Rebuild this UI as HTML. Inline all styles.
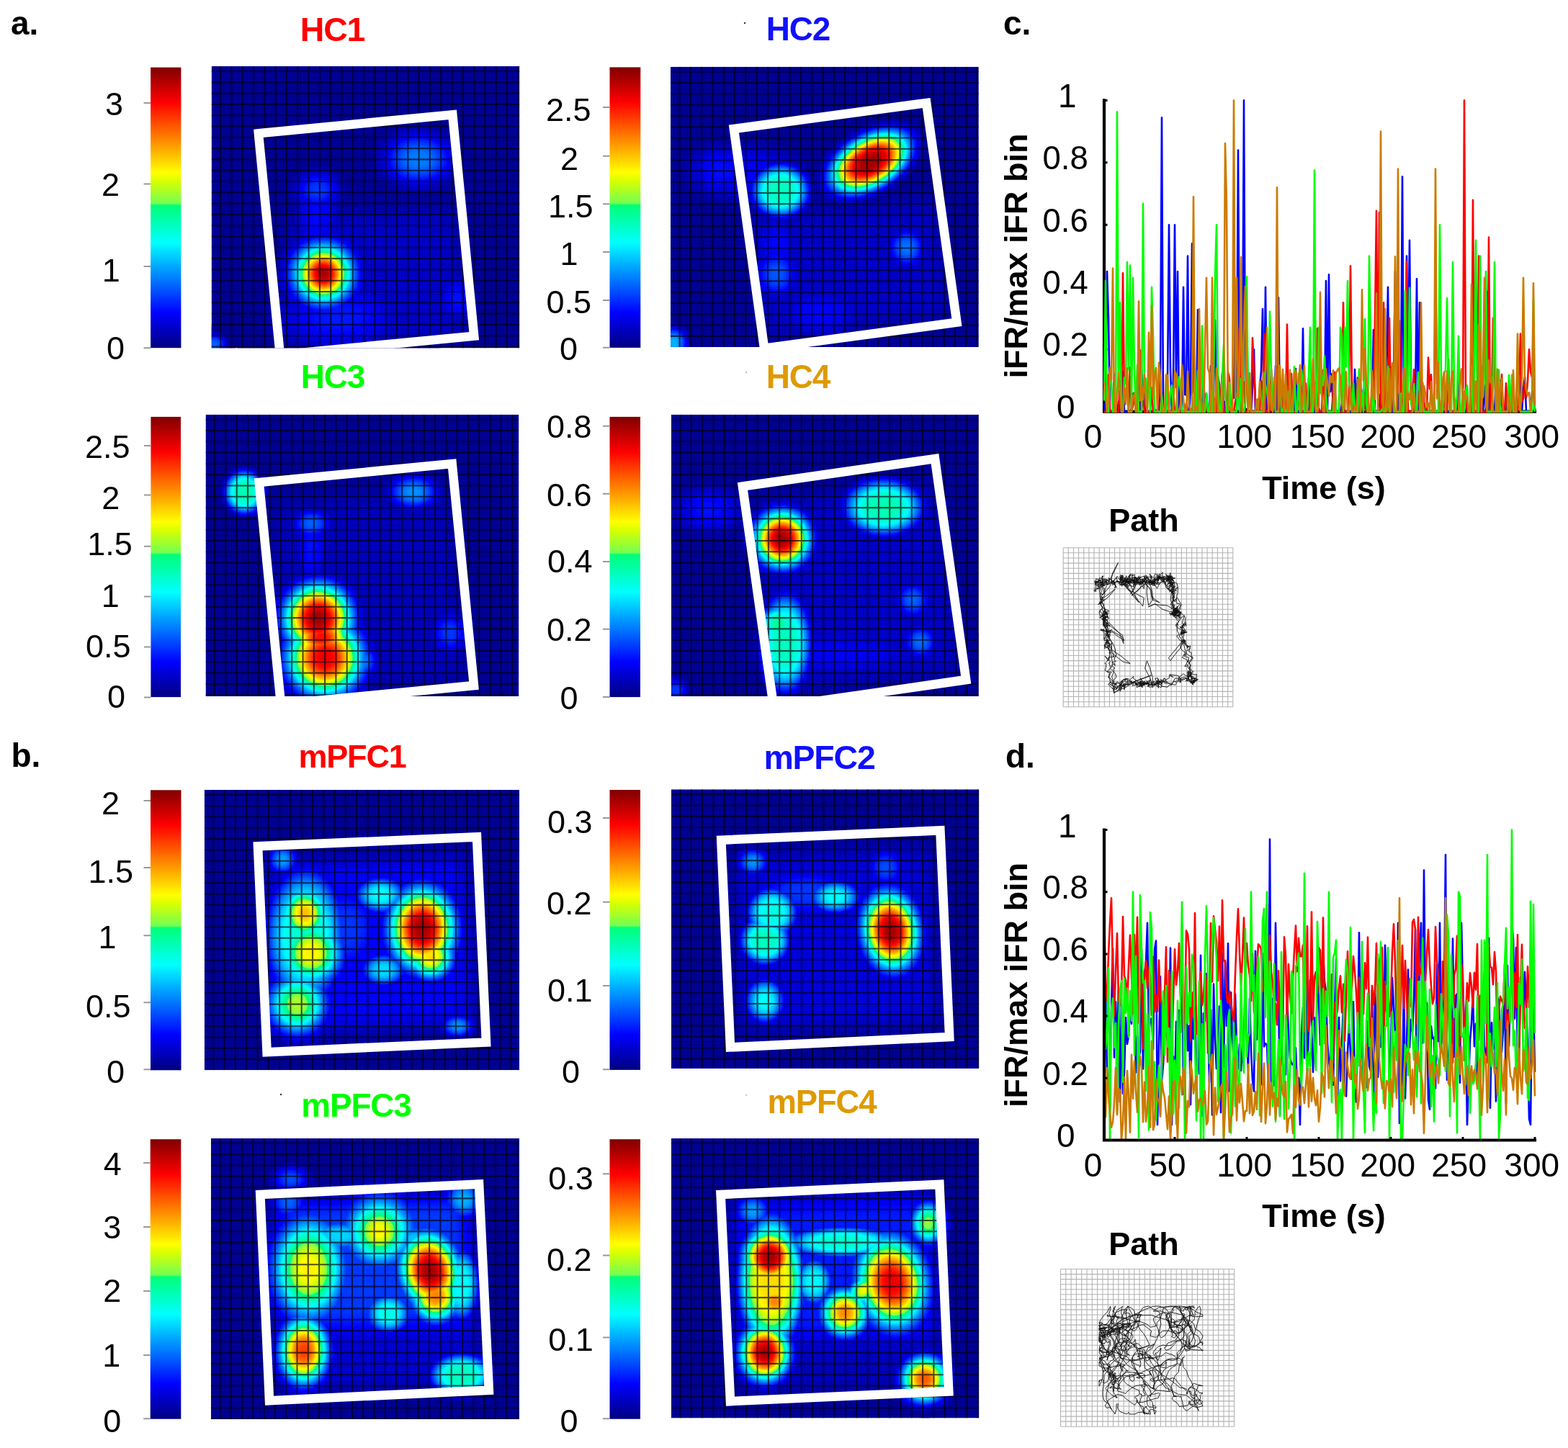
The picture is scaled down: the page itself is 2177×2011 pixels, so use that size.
<!DOCTYPE html><html><head><meta charset="utf-8"><title>Figure</title>
<style>html,body{margin:0;padding:0;background:#fff;}svg{display:block;}</style></head><body>
<svg width="2177" height="2011" viewBox="0 0 2177 2011" font-family="'Liberation Sans', Arial, Helvetica, sans-serif">
<defs>
<filter id="jet" color-interpolation-filters="sRGB" x="0" y="0" width="1" height="1"><feComponentTransfer><feFuncR type="table" tableValues="0.000 0.000 0.000 0.000 0.000 0.000 0.000 0.000 0.000 0.000 0.000 0.000 0.000 0.000 0.000 0.000 0.000 0.000 0.000 0.000 0.000 0.000 0.000 0.000 0.000 0.000 0.000 0.000 0.000 0.000 0.000 0.000 0.000 0.000 0.000 0.000 0.000 0.000 0.000 0.000 0.000 0.000 0.000 0.000 0.000 0.000 0.000 0.000 0.000 0.000 0.000 0.000 0.000 0.000 0.000 0.000 0.000 0.000 0.000 0.000 0.000 0.000 0.000 0.000 0.000 0.000 0.453 0.492 0.531 0.570 0.609 0.648 0.688 0.727 0.766 0.805 0.844 0.883 0.922 0.961 1.000 1.000 1.000 1.000 1.000 1.000 1.000 1.000 1.000 1.000 1.000 1.000 1.000 1.000 1.000 1.000 1.000 1.000 1.000 1.000 1.000 1.000 1.000 1.000 1.000 1.000 1.000 1.000 1.000 1.000 1.000 1.000 1.000 0.969 0.938 0.906 0.875 0.844 0.812 0.781 0.750 0.719 0.688 0.656 0.625 0.594 0.562 0.531 0.500"/><feFuncG type="table" tableValues="0.000 0.000 0.000 0.000 0.000 0.000 0.000 0.000 0.000 0.000 0.000 0.000 0.000 0.000 0.000 0.000 0.000 0.031 0.062 0.094 0.125 0.156 0.188 0.219 0.250 0.281 0.312 0.344 0.375 0.406 0.438 0.469 0.500 0.531 0.562 0.594 0.625 0.656 0.688 0.719 0.750 0.781 0.812 0.844 0.875 0.906 0.938 0.969 1.000 1.000 1.000 1.000 1.000 1.000 1.000 1.000 1.000 1.000 1.000 1.000 1.000 1.000 1.000 1.000 1.000 1.000 1.000 1.000 1.000 1.000 1.000 1.000 1.000 1.000 1.000 1.000 1.000 1.000 1.000 1.000 1.000 0.969 0.938 0.906 0.875 0.844 0.812 0.781 0.750 0.719 0.688 0.656 0.625 0.594 0.562 0.531 0.500 0.469 0.438 0.406 0.375 0.344 0.312 0.281 0.250 0.219 0.188 0.156 0.125 0.094 0.062 0.031 0.000 0.000 0.000 0.000 0.000 0.000 0.000 0.000 0.000 0.000 0.000 0.000 0.000 0.000 0.000 0.000 0.000"/><feFuncB type="table" tableValues="0.500 0.531 0.562 0.594 0.625 0.656 0.688 0.719 0.750 0.781 0.812 0.844 0.875 0.906 0.938 0.969 1.000 1.000 1.000 1.000 1.000 1.000 1.000 1.000 1.000 1.000 1.000 1.000 1.000 1.000 1.000 1.000 1.000 1.000 1.000 1.000 1.000 1.000 1.000 1.000 1.000 1.000 1.000 1.000 1.000 1.000 1.000 1.000 1.000 0.969 0.938 0.906 0.875 0.844 0.812 0.781 0.750 0.719 0.688 0.656 0.625 0.594 0.562 0.531 0.500 0.469 0.318 0.286 0.255 0.224 0.193 0.161 0.130 0.099 0.068 0.036 0.005 0.000 0.000 0.000 0.000 0.000 0.000 0.000 0.000 0.000 0.000 0.000 0.000 0.000 0.000 0.000 0.000 0.000 0.000 0.000 0.000 0.000 0.000 0.000 0.000 0.000 0.000 0.000 0.000 0.000 0.000 0.000 0.000 0.000 0.000 0.000 0.000 0.000 0.000 0.000 0.000 0.000 0.000 0.000 0.000 0.000 0.000 0.000 0.000 0.000 0.000 0.000 0.000"/></feComponentTransfer></filter>
<filter id="hz" x="-20%" y="-20%" width="140%" height="140%"><feGaussianBlur stdDeviation="14"/></filter>
<radialGradient id="gs2"><stop offset="0.00" stop-color="#fff" stop-opacity="1.0000"/><stop offset="0.05" stop-color="#fff" stop-opacity="0.9886"/><stop offset="0.10" stop-color="#fff" stop-opacity="0.9550"/><stop offset="0.15" stop-color="#fff" stop-opacity="0.9017"/><stop offset="0.20" stop-color="#fff" stop-opacity="0.8319"/><stop offset="0.25" stop-color="#fff" stop-opacity="0.7501"/><stop offset="0.30" stop-color="#fff" stop-opacity="0.6610"/><stop offset="0.35" stop-color="#fff" stop-opacity="0.5692"/><stop offset="0.40" stop-color="#fff" stop-opacity="0.4790"/><stop offset="0.45" stop-color="#fff" stop-opacity="0.3940"/><stop offset="0.50" stop-color="#fff" stop-opacity="0.3166"/><stop offset="0.55" stop-color="#fff" stop-opacity="0.2487"/><stop offset="0.60" stop-color="#fff" stop-opacity="0.1909"/><stop offset="0.65" stop-color="#fff" stop-opacity="0.1432"/><stop offset="0.70" stop-color="#fff" stop-opacity="0.1050"/><stop offset="0.75" stop-color="#fff" stop-opacity="0.0752"/><stop offset="0.80" stop-color="#fff" stop-opacity="0.0527"/><stop offset="0.85" stop-color="#fff" stop-opacity="0.0360"/><stop offset="0.90" stop-color="#fff" stop-opacity="0.0241"/><stop offset="0.95" stop-color="#fff" stop-opacity="0.0157"/><stop offset="1.00" stop-color="#fff" stop-opacity="0.0000"/></radialGradient>
<radialGradient id="gs3"><stop offset="0.00" stop-color="#fff" stop-opacity="1.0000"/><stop offset="0.05" stop-color="#fff" stop-opacity="0.9994"/><stop offset="0.10" stop-color="#fff" stop-opacity="0.9954"/><stop offset="0.15" stop-color="#fff" stop-opacity="0.9846"/><stop offset="0.20" stop-color="#fff" stop-opacity="0.9639"/><stop offset="0.25" stop-color="#fff" stop-opacity="0.9306"/><stop offset="0.30" stop-color="#fff" stop-opacity="0.8832"/><stop offset="0.35" stop-color="#fff" stop-opacity="0.8210"/><stop offset="0.40" stop-color="#fff" stop-opacity="0.7450"/><stop offset="0.45" stop-color="#fff" stop-opacity="0.6576"/><stop offset="0.50" stop-color="#fff" stop-opacity="0.5627"/><stop offset="0.55" stop-color="#fff" stop-opacity="0.4652"/><stop offset="0.60" stop-color="#fff" stop-opacity="0.3702"/><stop offset="0.65" stop-color="#fff" stop-opacity="0.2827"/><stop offset="0.70" stop-color="#fff" stop-opacity="0.2064"/><stop offset="0.75" stop-color="#fff" stop-opacity="0.1436"/><stop offset="0.80" stop-color="#fff" stop-opacity="0.0949"/><stop offset="0.85" stop-color="#fff" stop-opacity="0.0593"/><stop offset="0.90" stop-color="#fff" stop-opacity="0.0350"/><stop offset="0.95" stop-color="#fff" stop-opacity="0.0194"/><stop offset="1.00" stop-color="#fff" stop-opacity="0.0000"/></radialGradient>
<radialGradient id="gs4"><stop offset="0.00" stop-color="#fff" stop-opacity="1.0000"/><stop offset="0.05" stop-color="#fff" stop-opacity="1.0000"/><stop offset="0.10" stop-color="#fff" stop-opacity="0.9995"/><stop offset="0.15" stop-color="#fff" stop-opacity="0.9977"/><stop offset="0.20" stop-color="#fff" stop-opacity="0.9927"/><stop offset="0.25" stop-color="#fff" stop-opacity="0.9822"/><stop offset="0.30" stop-color="#fff" stop-opacity="0.9634"/><stop offset="0.35" stop-color="#fff" stop-opacity="0.9333"/><stop offset="0.40" stop-color="#fff" stop-opacity="0.8889"/><stop offset="0.45" stop-color="#fff" stop-opacity="0.8281"/><stop offset="0.50" stop-color="#fff" stop-opacity="0.7501"/><stop offset="0.55" stop-color="#fff" stop-opacity="0.6564"/><stop offset="0.60" stop-color="#fff" stop-opacity="0.5509"/><stop offset="0.65" stop-color="#fff" stop-opacity="0.4399"/><stop offset="0.70" stop-color="#fff" stop-opacity="0.3314"/><stop offset="0.75" stop-color="#fff" stop-opacity="0.2333"/><stop offset="0.80" stop-color="#fff" stop-opacity="0.1520"/><stop offset="0.85" stop-color="#fff" stop-opacity="0.0906"/><stop offset="0.90" stop-color="#fff" stop-opacity="0.0489"/><stop offset="0.95" stop-color="#fff" stop-opacity="0.0236"/><stop offset="1.00" stop-color="#fff" stop-opacity="0.0000"/></radialGradient>
<linearGradient id="cbar" x1="0" y1="0" x2="0" y2="1"><stop offset="0.0000" stop-color="rgb(128,0,0)"/><stop offset="0.0078" stop-color="rgb(135,0,0)"/><stop offset="0.0156" stop-color="rgb(143,0,0)"/><stop offset="0.0234" stop-color="rgb(151,0,0)"/><stop offset="0.0312" stop-color="rgb(159,0,0)"/><stop offset="0.0391" stop-color="rgb(167,0,0)"/><stop offset="0.0469" stop-color="rgb(175,0,0)"/><stop offset="0.0547" stop-color="rgb(183,0,0)"/><stop offset="0.0625" stop-color="rgb(191,0,0)"/><stop offset="0.0703" stop-color="rgb(199,0,0)"/><stop offset="0.0781" stop-color="rgb(207,0,0)"/><stop offset="0.0859" stop-color="rgb(215,0,0)"/><stop offset="0.0938" stop-color="rgb(223,0,0)"/><stop offset="0.1016" stop-color="rgb(231,0,0)"/><stop offset="0.1094" stop-color="rgb(239,0,0)"/><stop offset="0.1172" stop-color="rgb(247,0,0)"/><stop offset="0.1250" stop-color="rgb(255,0,0)"/><stop offset="0.1328" stop-color="rgb(255,8,0)"/><stop offset="0.1406" stop-color="rgb(255,16,0)"/><stop offset="0.1484" stop-color="rgb(255,24,0)"/><stop offset="0.1562" stop-color="rgb(255,32,0)"/><stop offset="0.1641" stop-color="rgb(255,40,0)"/><stop offset="0.1719" stop-color="rgb(255,48,0)"/><stop offset="0.1797" stop-color="rgb(255,56,0)"/><stop offset="0.1875" stop-color="rgb(255,64,0)"/><stop offset="0.1953" stop-color="rgb(255,72,0)"/><stop offset="0.2031" stop-color="rgb(255,80,0)"/><stop offset="0.2109" stop-color="rgb(255,88,0)"/><stop offset="0.2188" stop-color="rgb(255,96,0)"/><stop offset="0.2266" stop-color="rgb(255,104,0)"/><stop offset="0.2344" stop-color="rgb(255,112,0)"/><stop offset="0.2422" stop-color="rgb(255,120,0)"/><stop offset="0.2500" stop-color="rgb(255,128,0)"/><stop offset="0.2578" stop-color="rgb(255,135,0)"/><stop offset="0.2656" stop-color="rgb(255,143,0)"/><stop offset="0.2734" stop-color="rgb(255,151,0)"/><stop offset="0.2812" stop-color="rgb(255,159,0)"/><stop offset="0.2891" stop-color="rgb(255,167,0)"/><stop offset="0.2969" stop-color="rgb(255,175,0)"/><stop offset="0.3047" stop-color="rgb(255,183,0)"/><stop offset="0.3125" stop-color="rgb(255,191,0)"/><stop offset="0.3203" stop-color="rgb(255,199,0)"/><stop offset="0.3281" stop-color="rgb(255,207,0)"/><stop offset="0.3359" stop-color="rgb(255,215,0)"/><stop offset="0.3438" stop-color="rgb(255,223,0)"/><stop offset="0.3516" stop-color="rgb(255,231,0)"/><stop offset="0.3594" stop-color="rgb(255,239,0)"/><stop offset="0.3672" stop-color="rgb(255,247,0)"/><stop offset="0.3750" stop-color="rgb(255,255,0)"/><stop offset="0.3828" stop-color="rgb(245,255,0)"/><stop offset="0.3906" stop-color="rgb(235,255,0)"/><stop offset="0.3984" stop-color="rgb(225,255,0)"/><stop offset="0.4062" stop-color="rgb(215,255,1)"/><stop offset="0.4141" stop-color="rgb(205,255,9)"/><stop offset="0.4219" stop-color="rgb(195,255,17)"/><stop offset="0.4297" stop-color="rgb(185,255,25)"/><stop offset="0.4375" stop-color="rgb(175,255,33)"/><stop offset="0.4453" stop-color="rgb(165,255,41)"/><stop offset="0.4531" stop-color="rgb(155,255,49)"/><stop offset="0.4609" stop-color="rgb(145,255,57)"/><stop offset="0.4688" stop-color="rgb(135,255,65)"/><stop offset="0.4766" stop-color="rgb(126,255,73)"/><stop offset="0.4844" stop-color="rgb(116,255,81)"/><stop offset="0.4922" stop-color="rgb(0,255,120)"/><stop offset="0.5000" stop-color="rgb(0,255,128)"/><stop offset="0.5078" stop-color="rgb(0,255,135)"/><stop offset="0.5156" stop-color="rgb(0,255,143)"/><stop offset="0.5234" stop-color="rgb(0,255,151)"/><stop offset="0.5312" stop-color="rgb(0,255,159)"/><stop offset="0.5391" stop-color="rgb(0,255,167)"/><stop offset="0.5469" stop-color="rgb(0,255,175)"/><stop offset="0.5547" stop-color="rgb(0,255,183)"/><stop offset="0.5625" stop-color="rgb(0,255,191)"/><stop offset="0.5703" stop-color="rgb(0,255,199)"/><stop offset="0.5781" stop-color="rgb(0,255,207)"/><stop offset="0.5859" stop-color="rgb(0,255,215)"/><stop offset="0.5938" stop-color="rgb(0,255,223)"/><stop offset="0.6016" stop-color="rgb(0,255,231)"/><stop offset="0.6094" stop-color="rgb(0,255,239)"/><stop offset="0.6172" stop-color="rgb(0,255,247)"/><stop offset="0.6250" stop-color="rgb(0,255,255)"/><stop offset="0.6328" stop-color="rgb(0,247,255)"/><stop offset="0.6406" stop-color="rgb(0,239,255)"/><stop offset="0.6484" stop-color="rgb(0,231,255)"/><stop offset="0.6562" stop-color="rgb(0,223,255)"/><stop offset="0.6641" stop-color="rgb(0,215,255)"/><stop offset="0.6719" stop-color="rgb(0,207,255)"/><stop offset="0.6797" stop-color="rgb(0,199,255)"/><stop offset="0.6875" stop-color="rgb(0,191,255)"/><stop offset="0.6953" stop-color="rgb(0,183,255)"/><stop offset="0.7031" stop-color="rgb(0,175,255)"/><stop offset="0.7109" stop-color="rgb(0,167,255)"/><stop offset="0.7188" stop-color="rgb(0,159,255)"/><stop offset="0.7266" stop-color="rgb(0,151,255)"/><stop offset="0.7344" stop-color="rgb(0,143,255)"/><stop offset="0.7422" stop-color="rgb(0,135,255)"/><stop offset="0.7500" stop-color="rgb(0,128,255)"/><stop offset="0.7578" stop-color="rgb(0,120,255)"/><stop offset="0.7656" stop-color="rgb(0,112,255)"/><stop offset="0.7734" stop-color="rgb(0,104,255)"/><stop offset="0.7812" stop-color="rgb(0,96,255)"/><stop offset="0.7891" stop-color="rgb(0,88,255)"/><stop offset="0.7969" stop-color="rgb(0,80,255)"/><stop offset="0.8047" stop-color="rgb(0,72,255)"/><stop offset="0.8125" stop-color="rgb(0,64,255)"/><stop offset="0.8203" stop-color="rgb(0,56,255)"/><stop offset="0.8281" stop-color="rgb(0,48,255)"/><stop offset="0.8359" stop-color="rgb(0,40,255)"/><stop offset="0.8438" stop-color="rgb(0,32,255)"/><stop offset="0.8516" stop-color="rgb(0,24,255)"/><stop offset="0.8594" stop-color="rgb(0,16,255)"/><stop offset="0.8672" stop-color="rgb(0,8,255)"/><stop offset="0.8750" stop-color="rgb(0,0,255)"/><stop offset="0.8828" stop-color="rgb(0,0,247)"/><stop offset="0.8906" stop-color="rgb(0,0,239)"/><stop offset="0.8984" stop-color="rgb(0,0,231)"/><stop offset="0.9062" stop-color="rgb(0,0,223)"/><stop offset="0.9141" stop-color="rgb(0,0,215)"/><stop offset="0.9219" stop-color="rgb(0,0,207)"/><stop offset="0.9297" stop-color="rgb(0,0,199)"/><stop offset="0.9375" stop-color="rgb(0,0,191)"/><stop offset="0.9453" stop-color="rgb(0,0,183)"/><stop offset="0.9531" stop-color="rgb(0,0,175)"/><stop offset="0.9609" stop-color="rgb(0,0,167)"/><stop offset="0.9688" stop-color="rgb(0,0,159)"/><stop offset="0.9766" stop-color="rgb(0,0,151)"/><stop offset="0.9844" stop-color="rgb(0,0,143)"/><stop offset="0.9922" stop-color="rgb(0,0,135)"/><stop offset="1.0000" stop-color="rgb(0,0,128)"/></linearGradient>
<clipPath id="clip0"><rect x="293.6" y="92" width="427.8" height="391.4"/></clipPath>
<clipPath id="clip1"><rect x="931" y="92.7" width="427.8" height="389.3"/></clipPath>
<clipPath id="clip2"><rect x="285.5" y="575.7" width="434.9" height="391.4"/></clipPath>
<clipPath id="clip3"><rect x="931.9" y="575.7" width="426.9" height="391.4"/></clipPath>
<clipPath id="clip4"><rect x="283.7" y="1096.9" width="437.5" height="389.4"/></clipPath>
<clipPath id="clip5"><rect x="931.9" y="1096.3" width="427.5" height="387.7"/></clipPath>
<clipPath id="clip6"><rect x="292.8" y="1580.9" width="428.2" height="390.1"/></clipPath>
<clipPath id="clip7"><rect x="931.9" y="1580.9" width="427.5" height="388.6"/></clipPath>
</defs>
<rect width="2177" height="2011" fill="#fff"/>
<g clip-path="url(#clip0)">
<g filter="url(#jet)">
<rect x="293.6" y="92" width="427.8" height="391.4" fill="rgb(5,5,5)"/>
<polygon points="400,300 630,290 645,470 410,480" fill="#fff" opacity="0.05" filter="url(#hz)" style="mix-blend-mode:plus-lighter"/>
<radialGradient id="m0_0"><stop offset="0.000" stop-color="#f7f7f7"/><stop offset="0.083" stop-color="#f0f0f0"/><stop offset="0.167" stop-color="#dadada"/><stop offset="0.250" stop-color="#bababa"/><stop offset="0.333" stop-color="#949494"/><stop offset="0.417" stop-color="#6f6f6f"/><stop offset="0.500" stop-color="#4e4e4e"/><stop offset="0.583" stop-color="#343434"/><stop offset="0.667" stop-color="#202020"/><stop offset="0.750" stop-color="#131313"/><stop offset="0.833" stop-color="#0a0a0a"/><stop offset="0.917" stop-color="#050505"/><stop offset="1.000" stop-color="#000000"/></radialGradient>
<ellipse cx="449" cy="380" rx="77.5" ry="77.5" fill="url(#m0_0)" style="mix-blend-mode:lighten"/>
<radialGradient id="m0_1"><stop offset="0.000" stop-color="#404040"/><stop offset="0.083" stop-color="#3f3f3f"/><stop offset="0.167" stop-color="#3d3d3d"/><stop offset="0.250" stop-color="#373737"/><stop offset="0.333" stop-color="#2f2f2f"/><stop offset="0.417" stop-color="#262626"/><stop offset="0.500" stop-color="#1c1c1c"/><stop offset="0.583" stop-color="#131313"/><stop offset="0.667" stop-color="#0c0c0c"/><stop offset="0.750" stop-color="#070707"/><stop offset="0.833" stop-color="#030303"/><stop offset="0.917" stop-color="#020202"/><stop offset="1.000" stop-color="#000000"/></radialGradient>
<ellipse cx="581" cy="221" rx="87.7" ry="65.7" fill="url(#m0_1)" style="mix-blend-mode:lighten"/>
<radialGradient id="m0_2"><stop offset="0.000" stop-color="#2e2e2e"/><stop offset="0.083" stop-color="#2d2d2d"/><stop offset="0.167" stop-color="#2c2c2c"/><stop offset="0.250" stop-color="#282828"/><stop offset="0.333" stop-color="#222222"/><stop offset="0.417" stop-color="#1b1b1b"/><stop offset="0.500" stop-color="#141414"/><stop offset="0.583" stop-color="#0e0e0e"/><stop offset="0.667" stop-color="#090909"/><stop offset="0.750" stop-color="#050505"/><stop offset="0.833" stop-color="#020202"/><stop offset="0.917" stop-color="#010101"/><stop offset="1.000" stop-color="#000000"/></radialGradient>
<ellipse cx="441" cy="264" rx="58.7" ry="48.9" fill="url(#m0_2)" style="mix-blend-mode:lighten"/>
<radialGradient id="m0_3"><stop offset="0.000" stop-color="#212121"/><stop offset="0.083" stop-color="#212121"/><stop offset="0.167" stop-color="#1f1f1f"/><stop offset="0.250" stop-color="#1d1d1d"/><stop offset="0.333" stop-color="#191919"/><stop offset="0.417" stop-color="#141414"/><stop offset="0.500" stop-color="#0f0f0f"/><stop offset="0.583" stop-color="#0a0a0a"/><stop offset="0.667" stop-color="#060606"/><stop offset="0.750" stop-color="#040404"/><stop offset="0.833" stop-color="#020202"/><stop offset="0.917" stop-color="#010101"/><stop offset="1.000" stop-color="#000000"/></radialGradient>
<ellipse cx="440" cy="300" rx="56.5" ry="113.0" fill="url(#m0_3)" style="mix-blend-mode:lighten"/>
<radialGradient id="m0_4"><stop offset="0.000" stop-color="#262626"/><stop offset="0.083" stop-color="#262626"/><stop offset="0.167" stop-color="#242424"/><stop offset="0.250" stop-color="#212121"/><stop offset="0.333" stop-color="#1c1c1c"/><stop offset="0.417" stop-color="#171717"/><stop offset="0.500" stop-color="#111111"/><stop offset="0.583" stop-color="#0c0c0c"/><stop offset="0.667" stop-color="#070707"/><stop offset="0.750" stop-color="#040404"/><stop offset="0.833" stop-color="#020202"/><stop offset="0.917" stop-color="#010101"/><stop offset="1.000" stop-color="#000000"/></radialGradient>
<ellipse cx="470" cy="440" rx="161.7" ry="88.2" fill="url(#m0_4)" style="mix-blend-mode:lighten"/>
<radialGradient id="m0_5"><stop offset="0.000" stop-color="#242424"/><stop offset="0.083" stop-color="#232323"/><stop offset="0.167" stop-color="#222222"/><stop offset="0.250" stop-color="#1f1f1f"/><stop offset="0.333" stop-color="#1b1b1b"/><stop offset="0.417" stop-color="#151515"/><stop offset="0.500" stop-color="#101010"/><stop offset="0.583" stop-color="#0b0b0b"/><stop offset="0.667" stop-color="#070707"/><stop offset="0.750" stop-color="#040404"/><stop offset="0.833" stop-color="#020202"/><stop offset="0.917" stop-color="#010101"/><stop offset="1.000" stop-color="#000000"/></radialGradient>
<ellipse cx="634" cy="414" rx="45.5" ry="58.5" fill="url(#m0_5)" style="mix-blend-mode:lighten"/>
<radialGradient id="m0_6"><stop offset="0.000" stop-color="#383838"/><stop offset="0.083" stop-color="#383838"/><stop offset="0.167" stop-color="#353535"/><stop offset="0.250" stop-color="#313131"/><stop offset="0.333" stop-color="#2a2a2a"/><stop offset="0.417" stop-color="#222222"/><stop offset="0.500" stop-color="#191919"/><stop offset="0.583" stop-color="#111111"/><stop offset="0.667" stop-color="#0b0b0b"/><stop offset="0.750" stop-color="#060606"/><stop offset="0.833" stop-color="#030303"/><stop offset="0.917" stop-color="#010101"/><stop offset="1.000" stop-color="#000000"/></radialGradient>
<ellipse cx="298" cy="478" rx="29.8" ry="25.6" fill="url(#m0_6)" style="mix-blend-mode:lighten"/>
</g>
<path d="M306.2 92V483.4M321.5 92V483.4M336.8 92V483.4M352.1 92V483.4M367.4 92V483.4M382.7 92V483.4M398.0 92V483.4M413.3 92V483.4M428.6 92V483.4M443.9 92V483.4M459.2 92V483.4M474.5 92V483.4M489.8 92V483.4M505.1 92V483.4M520.4 92V483.4M535.7 92V483.4M551.0 92V483.4M566.3 92V483.4M581.6 92V483.4M596.9 92V483.4M612.2 92V483.4M627.5 92V483.4M642.8 92V483.4M658.1 92V483.4M673.4 92V483.4M688.7 92V483.4M704.0 92V483.4M719.3 92V483.4M293.6 99.0H721.4M293.6 114.3H721.4M293.6 129.6H721.4M293.6 144.9H721.4M293.6 160.2H721.4M293.6 175.5H721.4M293.6 190.8H721.4M293.6 206.1H721.4M293.6 221.4H721.4M293.6 236.7H721.4M293.6 252.0H721.4M293.6 267.3H721.4M293.6 282.6H721.4M293.6 297.9H721.4M293.6 313.2H721.4M293.6 328.5H721.4M293.6 343.8H721.4M293.6 359.1H721.4M293.6 374.4H721.4M293.6 389.7H721.4M293.6 405.0H721.4M293.6 420.3H721.4M293.6 435.6H721.4M293.6 450.9H721.4M293.6 466.2H721.4M293.6 481.5H721.4" stroke="#000010" stroke-width="2.1" stroke-opacity="0.68" fill="none"/>
<polygon points="358.9,185.3 628.3,159.3 658.2,466.7 388.8,492.7" fill="none" stroke="#fff" stroke-width="12.6" stroke-linejoin="miter"/>
</g>
<rect x="209.1" y="93.6" width="42.3" height="389.6" fill="url(#cbar)"/>
<path d="M199.6 143.1H209.1M199.6 255.6H209.1M199.6 370H209.1M199.6 483.2H209.1" stroke="#999" stroke-width="2" fill="none"/>
<text x="145.9" y="160.0" font-size="45">3</text>
<text x="141.1" y="271.5" font-size="45">2</text>
<text x="141.8" y="391.0" font-size="45">1</text>
<text x="148.0" y="498.5" font-size="45">0</text>
<text x="461.5" y="57" font-size="46.5" font-weight="bold" fill="#ff0000" text-anchor="middle" letter-spacing="-1.2">HC1</text>
<g clip-path="url(#clip1)">
<g filter="url(#jet)">
<rect x="931" y="92.7" width="427.8" height="389.3" fill="rgb(5,5,5)"/>
<polygon points="1040,300 1300,280 1315,440 1060,470" fill="#fff" opacity="0.05" filter="url(#hz)" style="mix-blend-mode:plus-lighter"/>
<radialGradient id="m1_0"><stop offset="0.000" stop-color="#f7f7f7"/><stop offset="0.083" stop-color="#f7f7f7"/><stop offset="0.167" stop-color="#f2f2f2"/><stop offset="0.250" stop-color="#e6e6e6"/><stop offset="0.333" stop-color="#d1d1d1"/><stop offset="0.417" stop-color="#b1b1b1"/><stop offset="0.500" stop-color="#8b8b8b"/><stop offset="0.583" stop-color="#636363"/><stop offset="0.667" stop-color="#3f3f3f"/><stop offset="0.750" stop-color="#242424"/><stop offset="0.833" stop-color="#111111"/><stop offset="0.917" stop-color="#070707"/><stop offset="1.000" stop-color="#000000"/></radialGradient>
<ellipse cx="1208" cy="225" rx="92" ry="54" fill="url(#m1_0)" style="mix-blend-mode:lighten" transform="rotate(-30 1208 225)"/>
<radialGradient id="m1_1"><stop offset="0.000" stop-color="#707070"/><stop offset="0.083" stop-color="#707070"/><stop offset="0.167" stop-color="#707070"/><stop offset="0.250" stop-color="#6e6e6e"/><stop offset="0.333" stop-color="#6a6a6a"/><stop offset="0.417" stop-color="#626262"/><stop offset="0.500" stop-color="#545454"/><stop offset="0.583" stop-color="#424242"/><stop offset="0.667" stop-color="#2d2d2d"/><stop offset="0.750" stop-color="#1a1a1a"/><stop offset="0.833" stop-color="#0c0c0c"/><stop offset="0.917" stop-color="#040404"/><stop offset="1.000" stop-color="#000000"/></radialGradient>
<ellipse cx="1083.7" cy="264.7" rx="55.5" ry="51.4" fill="url(#m1_1)" style="mix-blend-mode:lighten"/>
<radialGradient id="m1_2"><stop offset="0.000" stop-color="#242424"/><stop offset="0.083" stop-color="#232323"/><stop offset="0.167" stop-color="#222222"/><stop offset="0.250" stop-color="#1f1f1f"/><stop offset="0.333" stop-color="#1b1b1b"/><stop offset="0.417" stop-color="#151515"/><stop offset="0.500" stop-color="#101010"/><stop offset="0.583" stop-color="#0b0b0b"/><stop offset="0.667" stop-color="#070707"/><stop offset="0.750" stop-color="#040404"/><stop offset="0.833" stop-color="#020202"/><stop offset="0.917" stop-color="#010101"/><stop offset="1.000" stop-color="#000000"/></radialGradient>
<ellipse cx="1001" cy="237" rx="81.3" ry="65.0" fill="url(#m1_2)" style="mix-blend-mode:lighten"/>
<radialGradient id="m1_3"><stop offset="0.000" stop-color="#1f1f1f"/><stop offset="0.083" stop-color="#1e1e1e"/><stop offset="0.167" stop-color="#1d1d1d"/><stop offset="0.250" stop-color="#1b1b1b"/><stop offset="0.333" stop-color="#171717"/><stop offset="0.417" stop-color="#121212"/><stop offset="0.500" stop-color="#0e0e0e"/><stop offset="0.583" stop-color="#090909"/><stop offset="0.667" stop-color="#060606"/><stop offset="0.750" stop-color="#030303"/><stop offset="0.833" stop-color="#020202"/><stop offset="0.917" stop-color="#010101"/><stop offset="1.000" stop-color="#000000"/></radialGradient>
<ellipse cx="1035" cy="240" rx="146.7" ry="73.3" fill="url(#m1_3)" style="mix-blend-mode:lighten"/>
<radialGradient id="m1_4"><stop offset="0.000" stop-color="#3d3d3d"/><stop offset="0.083" stop-color="#3d3d3d"/><stop offset="0.167" stop-color="#3a3a3a"/><stop offset="0.250" stop-color="#353535"/><stop offset="0.333" stop-color="#2e2e2e"/><stop offset="0.417" stop-color="#252525"/><stop offset="0.500" stop-color="#1b1b1b"/><stop offset="0.583" stop-color="#131313"/><stop offset="0.667" stop-color="#0c0c0c"/><stop offset="0.750" stop-color="#070707"/><stop offset="0.833" stop-color="#030303"/><stop offset="0.917" stop-color="#020202"/><stop offset="1.000" stop-color="#000000"/></radialGradient>
<ellipse cx="1258.8" cy="344.2" rx="43.7" ry="46.0" fill="url(#m1_4)" style="mix-blend-mode:lighten"/>
<radialGradient id="m1_5"><stop offset="0.000" stop-color="#363636"/><stop offset="0.083" stop-color="#353535"/><stop offset="0.167" stop-color="#333333"/><stop offset="0.250" stop-color="#2e2e2e"/><stop offset="0.333" stop-color="#282828"/><stop offset="0.417" stop-color="#202020"/><stop offset="0.500" stop-color="#181818"/><stop offset="0.583" stop-color="#101010"/><stop offset="0.667" stop-color="#0a0a0a"/><stop offset="0.750" stop-color="#060606"/><stop offset="0.833" stop-color="#030303"/><stop offset="0.917" stop-color="#010101"/><stop offset="1.000" stop-color="#000000"/></radialGradient>
<ellipse cx="1078.3" cy="380.7" rx="51.7" ry="59.2" fill="url(#m1_5)" style="mix-blend-mode:lighten"/>
<radialGradient id="m1_6"><stop offset="0.000" stop-color="#212121"/><stop offset="0.083" stop-color="#212121"/><stop offset="0.167" stop-color="#1f1f1f"/><stop offset="0.250" stop-color="#1d1d1d"/><stop offset="0.333" stop-color="#191919"/><stop offset="0.417" stop-color="#141414"/><stop offset="0.500" stop-color="#0f0f0f"/><stop offset="0.583" stop-color="#0a0a0a"/><stop offset="0.667" stop-color="#060606"/><stop offset="0.750" stop-color="#040404"/><stop offset="0.833" stop-color="#020202"/><stop offset="0.917" stop-color="#010101"/><stop offset="1.000" stop-color="#000000"/></radialGradient>
<ellipse cx="1078" cy="340" rx="56.5" ry="75.3" fill="url(#m1_6)" style="mix-blend-mode:lighten"/>
<radialGradient id="m1_7"><stop offset="0.000" stop-color="#212121"/><stop offset="0.083" stop-color="#212121"/><stop offset="0.167" stop-color="#1f1f1f"/><stop offset="0.250" stop-color="#1d1d1d"/><stop offset="0.333" stop-color="#191919"/><stop offset="0.417" stop-color="#141414"/><stop offset="0.500" stop-color="#0f0f0f"/><stop offset="0.583" stop-color="#0a0a0a"/><stop offset="0.667" stop-color="#060606"/><stop offset="0.750" stop-color="#040404"/><stop offset="0.833" stop-color="#020202"/><stop offset="0.917" stop-color="#010101"/><stop offset="1.000" stop-color="#000000"/></radialGradient>
<ellipse cx="1140" cy="435" rx="101.7" ry="60.3" fill="url(#m1_7)" style="mix-blend-mode:lighten"/>
<radialGradient id="m1_8"><stop offset="0.000" stop-color="#4c4c4c"/><stop offset="0.083" stop-color="#4c4c4c"/><stop offset="0.167" stop-color="#494949"/><stop offset="0.250" stop-color="#424242"/><stop offset="0.333" stop-color="#393939"/><stop offset="0.417" stop-color="#2e2e2e"/><stop offset="0.500" stop-color="#222222"/><stop offset="0.583" stop-color="#171717"/><stop offset="0.667" stop-color="#0e0e0e"/><stop offset="0.750" stop-color="#080808"/><stop offset="0.833" stop-color="#040404"/><stop offset="0.917" stop-color="#020202"/><stop offset="1.000" stop-color="#000000"/></radialGradient>
<ellipse cx="936" cy="476" rx="31.3" ry="36.8" fill="url(#m1_8)" style="mix-blend-mode:lighten"/>
</g>
<path d="M943.6 92.7V482M958.9 92.7V482M974.2 92.7V482M989.5 92.7V482M1004.8 92.7V482M1020.1 92.7V482M1035.4 92.7V482M1050.7 92.7V482M1066.0 92.7V482M1081.3 92.7V482M1096.6 92.7V482M1111.9 92.7V482M1127.2 92.7V482M1142.5 92.7V482M1157.8 92.7V482M1173.1 92.7V482M1188.4 92.7V482M1203.7 92.7V482M1219.0 92.7V482M1234.3 92.7V482M1249.6 92.7V482M1264.9 92.7V482M1280.2 92.7V482M1295.5 92.7V482M1310.8 92.7V482M1326.1 92.7V482M1341.4 92.7V482M1356.7 92.7V482M931 99.7H1358.8M931 115.0H1358.8M931 130.3H1358.8M931 145.6H1358.8M931 160.9H1358.8M931 176.2H1358.8M931 191.5H1358.8M931 206.8H1358.8M931 222.1H1358.8M931 237.4H1358.8M931 252.7H1358.8M931 268.0H1358.8M931 283.3H1358.8M931 298.6H1358.8M931 313.9H1358.8M931 329.2H1358.8M931 344.5H1358.8M931 359.8H1358.8M931 375.1H1358.8M931 390.4H1358.8M931 405.7H1358.8M931 421.0H1358.8M931 436.3H1358.8M931 451.6H1358.8M931 466.9H1358.8" stroke="#000010" stroke-width="2.1" stroke-opacity="0.68" fill="none"/>
<polygon points="1018.9,179 1286.2,143 1328.4,447.7 1061.1,483.7" fill="none" stroke="#fff" stroke-width="12.6" stroke-linejoin="miter"/>
</g>
<rect x="846.5" y="93.4" width="42.8" height="389.5" fill="url(#cbar)"/>
<path d="M837.0 149H846.5M837.0 216.7H846.5M837.0 283.2H846.5M837.0 349.9H846.5M837.0 417H846.5M837.0 482.8H846.5" stroke="#999" stroke-width="2" fill="none"/>
<text x="758.0" y="168.0" font-size="45">2.5</text>
<text x="778.0" y="235.6" font-size="45">2</text>
<text x="761.0" y="302.2" font-size="45">1.5</text>
<text x="777.6" y="367.6" font-size="45">1</text>
<text x="758.6" y="434.7" font-size="45">0.5</text>
<text x="777.0" y="499.7" font-size="45">0</text>
<text x="1108" y="56" font-size="46" font-weight="bold" fill="#1010ff" text-anchor="middle" letter-spacing="-1.2">HC2</text>
<g clip-path="url(#clip2)">
<g filter="url(#jet)">
<rect x="285.5" y="575.7" width="434.9" height="391.4" fill="rgb(5,5,5)"/>
<polygon points="380,700 620,680 645,940 400,960" fill="#fff" opacity="0.04" filter="url(#hz)" style="mix-blend-mode:plus-lighter"/>
<radialGradient id="m2_0"><stop offset="0.000" stop-color="#f7f7f7"/><stop offset="0.083" stop-color="#f5f5f5"/><stop offset="0.167" stop-color="#ebebeb"/><stop offset="0.250" stop-color="#d6d6d6"/><stop offset="0.333" stop-color="#b8b8b8"/><stop offset="0.417" stop-color="#949494"/><stop offset="0.500" stop-color="#6e6e6e"/><stop offset="0.583" stop-color="#4b4b4b"/><stop offset="0.667" stop-color="#2f2f2f"/><stop offset="0.750" stop-color="#1a1a1a"/><stop offset="0.833" stop-color="#0d0d0d"/><stop offset="0.917" stop-color="#060606"/><stop offset="1.000" stop-color="#000000"/></radialGradient>
<ellipse cx="441.5" cy="859" rx="79.5" ry="81.3" fill="url(#m2_0)" style="mix-blend-mode:lighten"/>
<radialGradient id="m2_1"><stop offset="0.000" stop-color="#e6e6e6"/><stop offset="0.083" stop-color="#e3e3e3"/><stop offset="0.167" stop-color="#dadada"/><stop offset="0.250" stop-color="#c7c7c7"/><stop offset="0.333" stop-color="#ababab"/><stop offset="0.417" stop-color="#898989"/><stop offset="0.500" stop-color="#666666"/><stop offset="0.583" stop-color="#454545"/><stop offset="0.667" stop-color="#2b2b2b"/><stop offset="0.750" stop-color="#181818"/><stop offset="0.833" stop-color="#0c0c0c"/><stop offset="0.917" stop-color="#060606"/><stop offset="1.000" stop-color="#000000"/></radialGradient>
<ellipse cx="451" cy="914" rx="89.3" ry="89.3" fill="url(#m2_1)" style="mix-blend-mode:lighten"/>
<radialGradient id="m2_2"><stop offset="0.000" stop-color="#dedede"/><stop offset="0.083" stop-color="#dcdcdc"/><stop offset="0.167" stop-color="#d3d3d3"/><stop offset="0.250" stop-color="#c0c0c0"/><stop offset="0.333" stop-color="#a5a5a5"/><stop offset="0.417" stop-color="#848484"/><stop offset="0.500" stop-color="#626262"/><stop offset="0.583" stop-color="#434343"/><stop offset="0.667" stop-color="#2a2a2a"/><stop offset="0.750" stop-color="#181818"/><stop offset="0.833" stop-color="#0c0c0c"/><stop offset="0.917" stop-color="#050505"/><stop offset="1.000" stop-color="#000000"/></radialGradient>
<ellipse cx="446" cy="885" rx="70" ry="50" fill="url(#m2_2)" style="mix-blend-mode:lighten"/>
<radialGradient id="m2_3"><stop offset="0.000" stop-color="#404040"/><stop offset="0.083" stop-color="#3f3f3f"/><stop offset="0.167" stop-color="#3d3d3d"/><stop offset="0.250" stop-color="#373737"/><stop offset="0.333" stop-color="#2f2f2f"/><stop offset="0.417" stop-color="#262626"/><stop offset="0.500" stop-color="#1c1c1c"/><stop offset="0.583" stop-color="#131313"/><stop offset="0.667" stop-color="#0c0c0c"/><stop offset="0.750" stop-color="#070707"/><stop offset="0.833" stop-color="#030303"/><stop offset="0.917" stop-color="#020202"/><stop offset="1.000" stop-color="#000000"/></radialGradient>
<ellipse cx="502" cy="918" rx="39.8" ry="39.8" fill="url(#m2_3)" style="mix-blend-mode:lighten"/>
<radialGradient id="m2_4"><stop offset="0.000" stop-color="#737373"/><stop offset="0.083" stop-color="#737373"/><stop offset="0.167" stop-color="#727272"/><stop offset="0.250" stop-color="#717171"/><stop offset="0.333" stop-color="#6c6c6c"/><stop offset="0.417" stop-color="#646464"/><stop offset="0.500" stop-color="#565656"/><stop offset="0.583" stop-color="#434343"/><stop offset="0.667" stop-color="#2e2e2e"/><stop offset="0.750" stop-color="#1b1b1b"/><stop offset="0.833" stop-color="#0c0c0c"/><stop offset="0.917" stop-color="#040404"/><stop offset="1.000" stop-color="#000000"/></radialGradient>
<ellipse cx="339.3" cy="683.5" rx="39.0" ry="42.3" fill="url(#m2_4)" style="mix-blend-mode:lighten"/>
<radialGradient id="m2_5"><stop offset="0.000" stop-color="#454545"/><stop offset="0.083" stop-color="#444444"/><stop offset="0.167" stop-color="#414141"/><stop offset="0.250" stop-color="#3c3c3c"/><stop offset="0.333" stop-color="#333333"/><stop offset="0.417" stop-color="#292929"/><stop offset="0.500" stop-color="#1f1f1f"/><stop offset="0.583" stop-color="#151515"/><stop offset="0.667" stop-color="#0d0d0d"/><stop offset="0.750" stop-color="#070707"/><stop offset="0.833" stop-color="#040404"/><stop offset="0.917" stop-color="#020202"/><stop offset="1.000" stop-color="#000000"/></radialGradient>
<ellipse cx="574" cy="683.5" rx="60.6" ry="41.7" fill="url(#m2_5)" style="mix-blend-mode:lighten"/>
<radialGradient id="m2_6"><stop offset="0.000" stop-color="#383838"/><stop offset="0.083" stop-color="#383838"/><stop offset="0.167" stop-color="#353535"/><stop offset="0.250" stop-color="#313131"/><stop offset="0.333" stop-color="#2a2a2a"/><stop offset="0.417" stop-color="#222222"/><stop offset="0.500" stop-color="#191919"/><stop offset="0.583" stop-color="#111111"/><stop offset="0.667" stop-color="#0b0b0b"/><stop offset="0.750" stop-color="#060606"/><stop offset="0.833" stop-color="#030303"/><stop offset="0.917" stop-color="#010101"/><stop offset="1.000" stop-color="#000000"/></radialGradient>
<ellipse cx="432.8" cy="727" rx="46.3" ry="34.8" fill="url(#m2_6)" style="mix-blend-mode:lighten"/>
<radialGradient id="m2_7"><stop offset="0.000" stop-color="#242424"/><stop offset="0.083" stop-color="#232323"/><stop offset="0.167" stop-color="#222222"/><stop offset="0.250" stop-color="#1f1f1f"/><stop offset="0.333" stop-color="#1b1b1b"/><stop offset="0.417" stop-color="#151515"/><stop offset="0.500" stop-color="#101010"/><stop offset="0.583" stop-color="#0b0b0b"/><stop offset="0.667" stop-color="#070707"/><stop offset="0.750" stop-color="#040404"/><stop offset="0.833" stop-color="#020202"/><stop offset="0.917" stop-color="#010101"/><stop offset="1.000" stop-color="#000000"/></radialGradient>
<ellipse cx="432.8" cy="760" rx="39.0" ry="97.6" fill="url(#m2_7)" style="mix-blend-mode:lighten"/>
<radialGradient id="m2_8"><stop offset="0.000" stop-color="#2e2e2e"/><stop offset="0.083" stop-color="#2d2d2d"/><stop offset="0.167" stop-color="#2c2c2c"/><stop offset="0.250" stop-color="#282828"/><stop offset="0.333" stop-color="#222222"/><stop offset="0.417" stop-color="#1b1b1b"/><stop offset="0.500" stop-color="#141414"/><stop offset="0.583" stop-color="#0e0e0e"/><stop offset="0.667" stop-color="#090909"/><stop offset="0.750" stop-color="#050505"/><stop offset="0.833" stop-color="#020202"/><stop offset="0.917" stop-color="#010101"/><stop offset="1.000" stop-color="#000000"/></radialGradient>
<ellipse cx="624" cy="879" rx="45.2" ry="53.0" fill="url(#m2_8)" style="mix-blend-mode:lighten"/>
</g>
<path d="M298.1 575.7V967.1M313.4 575.7V967.1M328.7 575.7V967.1M344.0 575.7V967.1M359.3 575.7V967.1M374.6 575.7V967.1M389.9 575.7V967.1M405.2 575.7V967.1M420.5 575.7V967.1M435.8 575.7V967.1M451.1 575.7V967.1M466.4 575.7V967.1M481.7 575.7V967.1M497.0 575.7V967.1M512.3 575.7V967.1M527.6 575.7V967.1M542.9 575.7V967.1M558.2 575.7V967.1M573.5 575.7V967.1M588.8 575.7V967.1M604.1 575.7V967.1M619.4 575.7V967.1M634.7 575.7V967.1M650.0 575.7V967.1M665.3 575.7V967.1M680.6 575.7V967.1M695.9 575.7V967.1M711.2 575.7V967.1M285.5 582.7H720.4M285.5 598.0H720.4M285.5 613.3H720.4M285.5 628.6H720.4M285.5 643.9H720.4M285.5 659.2H720.4M285.5 674.5H720.4M285.5 689.8H720.4M285.5 705.1H720.4M285.5 720.4H720.4M285.5 735.7H720.4M285.5 751.0H720.4M285.5 766.3H720.4M285.5 781.6H720.4M285.5 796.9H720.4M285.5 812.2H720.4M285.5 827.5H720.4M285.5 842.8H720.4M285.5 858.1H720.4M285.5 873.4H720.4M285.5 888.7H720.4M285.5 904.0H720.4M285.5 919.3H720.4M285.5 934.6H720.4M285.5 949.9H720.4M285.5 965.2H720.4" stroke="#000010" stroke-width="2.1" stroke-opacity="0.68" fill="none"/>
<polygon points="359.7,670 627.7,644.1 658,952.1 390,978" fill="none" stroke="#fff" stroke-width="12.6" stroke-linejoin="miter"/>
</g>
<rect x="209.4" y="578.9" width="41.6" height="389.2" fill="url(#cbar)"/>
<path d="M199.9 618.9H209.4M199.9 687.6H209.4M199.9 758.7H209.4M199.9 828.6H209.4M199.9 898.5H209.4M199.9 968.4H209.4" stroke="#999" stroke-width="2" fill="none"/>
<text x="118.0" y="635.5" font-size="45">2.5</text>
<text x="141.3" y="706.5" font-size="45">2</text>
<text x="121.3" y="771.0" font-size="45">1.5</text>
<text x="140.8" y="843.0" font-size="45">1</text>
<text x="119.0" y="913.0" font-size="45">0.5</text>
<text x="149.0" y="983.0" font-size="45">0</text>
<text x="462" y="538.6" font-size="46" font-weight="bold" fill="#00ff00" text-anchor="middle" letter-spacing="-1.2">HC3</text>
<g clip-path="url(#clip3)">
<g filter="url(#jet)">
<rect x="931.9" y="575.7" width="426.9" height="391.4" fill="rgb(5,5,5)"/>
<polygon points="1050,700 1300,670 1330,930 1080,960" fill="#fff" opacity="0.05" filter="url(#hz)" style="mix-blend-mode:plus-lighter"/>
<radialGradient id="m3_0"><stop offset="0.000" stop-color="#f7f7f7"/><stop offset="0.083" stop-color="#f5f5f5"/><stop offset="0.167" stop-color="#ebebeb"/><stop offset="0.250" stop-color="#d6d6d6"/><stop offset="0.333" stop-color="#b8b8b8"/><stop offset="0.417" stop-color="#949494"/><stop offset="0.500" stop-color="#6e6e6e"/><stop offset="0.583" stop-color="#4b4b4b"/><stop offset="0.667" stop-color="#2f2f2f"/><stop offset="0.750" stop-color="#1a1a1a"/><stop offset="0.833" stop-color="#0d0d0d"/><stop offset="0.917" stop-color="#060606"/><stop offset="1.000" stop-color="#000000"/></radialGradient>
<ellipse cx="1085.8" cy="748.5" rx="65.0" ry="65.9" fill="url(#m3_0)" style="mix-blend-mode:lighten"/>
<radialGradient id="m3_1"><stop offset="0.000" stop-color="#737373"/><stop offset="0.083" stop-color="#737373"/><stop offset="0.167" stop-color="#727272"/><stop offset="0.250" stop-color="#717171"/><stop offset="0.333" stop-color="#6c6c6c"/><stop offset="0.417" stop-color="#646464"/><stop offset="0.500" stop-color="#565656"/><stop offset="0.583" stop-color="#434343"/><stop offset="0.667" stop-color="#2e2e2e"/><stop offset="0.750" stop-color="#1b1b1b"/><stop offset="0.833" stop-color="#0c0c0c"/><stop offset="0.917" stop-color="#040404"/><stop offset="1.000" stop-color="#000000"/></radialGradient>
<ellipse cx="1226.6" cy="704.5" rx="76.5" ry="54.3" fill="url(#m3_1)" style="mix-blend-mode:lighten"/>
<radialGradient id="m3_2"><stop offset="0.000" stop-color="#707070"/><stop offset="0.083" stop-color="#707070"/><stop offset="0.167" stop-color="#707070"/><stop offset="0.250" stop-color="#6e6e6e"/><stop offset="0.333" stop-color="#6a6a6a"/><stop offset="0.417" stop-color="#626262"/><stop offset="0.500" stop-color="#545454"/><stop offset="0.583" stop-color="#424242"/><stop offset="0.667" stop-color="#2d2d2d"/><stop offset="0.750" stop-color="#1a1a1a"/><stop offset="0.833" stop-color="#0c0c0c"/><stop offset="0.917" stop-color="#040404"/><stop offset="1.000" stop-color="#000000"/></radialGradient>
<ellipse cx="1090" cy="893" rx="50" ry="95" fill="url(#m3_2)" style="mix-blend-mode:lighten"/>
<radialGradient id="m3_3"><stop offset="0.000" stop-color="#787878"/><stop offset="0.083" stop-color="#787878"/><stop offset="0.167" stop-color="#757575"/><stop offset="0.250" stop-color="#707070"/><stop offset="0.333" stop-color="#656565"/><stop offset="0.417" stop-color="#565656"/><stop offset="0.500" stop-color="#434343"/><stop offset="0.583" stop-color="#303030"/><stop offset="0.667" stop-color="#1f1f1f"/><stop offset="0.750" stop-color="#111111"/><stop offset="0.833" stop-color="#080808"/><stop offset="0.917" stop-color="#030303"/><stop offset="1.000" stop-color="#000000"/></radialGradient>
<ellipse cx="1080.4" cy="866" rx="40" ry="40" fill="url(#m3_3)" style="mix-blend-mode:lighten"/>
<radialGradient id="m3_4"><stop offset="0.000" stop-color="#383838"/><stop offset="0.083" stop-color="#383838"/><stop offset="0.167" stop-color="#353535"/><stop offset="0.250" stop-color="#313131"/><stop offset="0.333" stop-color="#2a2a2a"/><stop offset="0.417" stop-color="#222222"/><stop offset="0.500" stop-color="#191919"/><stop offset="0.583" stop-color="#111111"/><stop offset="0.667" stop-color="#0b0b0b"/><stop offset="0.750" stop-color="#060606"/><stop offset="0.833" stop-color="#030303"/><stop offset="0.917" stop-color="#010101"/><stop offset="1.000" stop-color="#000000"/></radialGradient>
<ellipse cx="1267.4" cy="833.4" rx="40.5" ry="42.6" fill="url(#m3_4)" style="mix-blend-mode:lighten"/>
<radialGradient id="m3_5"><stop offset="0.000" stop-color="#3b3b3b"/><stop offset="0.083" stop-color="#3a3a3a"/><stop offset="0.167" stop-color="#383838"/><stop offset="0.250" stop-color="#333333"/><stop offset="0.333" stop-color="#2c2c2c"/><stop offset="0.417" stop-color="#232323"/><stop offset="0.500" stop-color="#1a1a1a"/><stop offset="0.583" stop-color="#121212"/><stop offset="0.667" stop-color="#0b0b0b"/><stop offset="0.750" stop-color="#060606"/><stop offset="0.833" stop-color="#030303"/><stop offset="0.917" stop-color="#010101"/><stop offset="1.000" stop-color="#000000"/></radialGradient>
<ellipse cx="1278" cy="891.4" rx="39.5" ry="39.5" fill="url(#m3_5)" style="mix-blend-mode:lighten"/>
<radialGradient id="m3_6"><stop offset="0.000" stop-color="#242424"/><stop offset="0.083" stop-color="#232323"/><stop offset="0.167" stop-color="#222222"/><stop offset="0.250" stop-color="#1f1f1f"/><stop offset="0.333" stop-color="#1b1b1b"/><stop offset="0.417" stop-color="#151515"/><stop offset="0.500" stop-color="#101010"/><stop offset="0.583" stop-color="#0b0b0b"/><stop offset="0.667" stop-color="#070707"/><stop offset="0.750" stop-color="#040404"/><stop offset="0.833" stop-color="#020202"/><stop offset="0.917" stop-color="#010101"/><stop offset="1.000" stop-color="#000000"/></radialGradient>
<ellipse cx="983.7" cy="708.8" rx="87.8" ry="58.5" fill="url(#m3_6)" style="mix-blend-mode:lighten"/>
<radialGradient id="m3_7"><stop offset="0.000" stop-color="#2e2e2e"/><stop offset="0.083" stop-color="#2d2d2d"/><stop offset="0.167" stop-color="#2c2c2c"/><stop offset="0.250" stop-color="#282828"/><stop offset="0.333" stop-color="#222222"/><stop offset="0.417" stop-color="#1b1b1b"/><stop offset="0.500" stop-color="#141414"/><stop offset="0.583" stop-color="#0e0e0e"/><stop offset="0.667" stop-color="#090909"/><stop offset="0.750" stop-color="#050505"/><stop offset="0.833" stop-color="#020202"/><stop offset="0.917" stop-color="#010101"/><stop offset="1.000" stop-color="#000000"/></radialGradient>
<ellipse cx="938.6" cy="958" rx="29.3" ry="29.3" fill="url(#m3_7)" style="mix-blend-mode:lighten"/>
<radialGradient id="m3_8"><stop offset="0.000" stop-color="#1f1f1f"/><stop offset="0.083" stop-color="#1e1e1e"/><stop offset="0.167" stop-color="#1d1d1d"/><stop offset="0.250" stop-color="#1b1b1b"/><stop offset="0.333" stop-color="#171717"/><stop offset="0.417" stop-color="#121212"/><stop offset="0.500" stop-color="#0e0e0e"/><stop offset="0.583" stop-color="#090909"/><stop offset="0.667" stop-color="#060606"/><stop offset="0.750" stop-color="#030303"/><stop offset="0.833" stop-color="#020202"/><stop offset="0.917" stop-color="#010101"/><stop offset="1.000" stop-color="#000000"/></radialGradient>
<ellipse cx="1166" cy="908" rx="220.0" ry="58.7" fill="url(#m3_8)" style="mix-blend-mode:lighten"/>
</g>
<path d="M944.5 575.7V967.1M959.8 575.7V967.1M975.1 575.7V967.1M990.4 575.7V967.1M1005.7 575.7V967.1M1021.0 575.7V967.1M1036.3 575.7V967.1M1051.6 575.7V967.1M1066.9 575.7V967.1M1082.2 575.7V967.1M1097.5 575.7V967.1M1112.8 575.7V967.1M1128.1 575.7V967.1M1143.4 575.7V967.1M1158.7 575.7V967.1M1174.0 575.7V967.1M1189.3 575.7V967.1M1204.6 575.7V967.1M1219.9 575.7V967.1M1235.2 575.7V967.1M1250.5 575.7V967.1M1265.8 575.7V967.1M1281.1 575.7V967.1M1296.4 575.7V967.1M1311.7 575.7V967.1M1327.0 575.7V967.1M1342.3 575.7V967.1M1357.6 575.7V967.1M931.9 582.7H1358.8M931.9 598.0H1358.8M931.9 613.3H1358.8M931.9 628.6H1358.8M931.9 643.9H1358.8M931.9 659.2H1358.8M931.9 674.5H1358.8M931.9 689.8H1358.8M931.9 705.1H1358.8M931.9 720.4H1358.8M931.9 735.7H1358.8M931.9 751.0H1358.8M931.9 766.3H1358.8M931.9 781.6H1358.8M931.9 796.9H1358.8M931.9 812.2H1358.8M931.9 827.5H1358.8M931.9 842.8H1358.8M931.9 858.1H1358.8M931.9 873.4H1358.8M931.9 888.7H1358.8M931.9 904.0H1358.8M931.9 919.3H1358.8M931.9 934.6H1358.8M931.9 949.9H1358.8M931.9 965.2H1358.8" stroke="#000010" stroke-width="2.1" stroke-opacity="0.68" fill="none"/>
<polygon points="1031,675.5 1298,637.1 1341.2,944.1 1074.2,982.5" fill="none" stroke="#fff" stroke-width="12.6" stroke-linejoin="miter"/>
</g>
<rect x="846.5" y="578.9" width="42.5" height="389.2" fill="url(#cbar)"/>
<path d="M837.0 591.7H846.5M837.0 685.7H846.5M837.0 780H846.5M837.0 873.7H846.5M837.0 968.1H846.5" stroke="#999" stroke-width="2" fill="none"/>
<text x="759.0" y="608.4" font-size="45">0.8</text>
<text x="759.0" y="702.6" font-size="45">0.6</text>
<text x="760.0" y="794.5" font-size="45">0.4</text>
<text x="759.0" y="890.0" font-size="45">0.2</text>
<text x="777.5" y="985.0" font-size="45">0</text>
<text x="1108" y="538.6" font-size="46" font-weight="bold" fill="#df9a00" text-anchor="middle" letter-spacing="-1.2">HC4</text>
<g clip-path="url(#clip4)">
<g filter="url(#jet)">
<rect x="283.7" y="1096.9" width="437.5" height="389.4" fill="rgb(5,5,5)"/>
<polygon points="380,1200 645,1190 655,1420 390,1432" fill="#fff" opacity="0.1" filter="url(#hz)" style="mix-blend-mode:plus-lighter"/>
<radialGradient id="m4_0"><stop offset="0.000" stop-color="#f7f7f7"/><stop offset="0.083" stop-color="#f5f5f5"/><stop offset="0.167" stop-color="#ebebeb"/><stop offset="0.250" stop-color="#d6d6d6"/><stop offset="0.333" stop-color="#b8b8b8"/><stop offset="0.417" stop-color="#949494"/><stop offset="0.500" stop-color="#6e6e6e"/><stop offset="0.583" stop-color="#4b4b4b"/><stop offset="0.667" stop-color="#2f2f2f"/><stop offset="0.750" stop-color="#1a1a1a"/><stop offset="0.833" stop-color="#0d0d0d"/><stop offset="0.917" stop-color="#060606"/><stop offset="1.000" stop-color="#000000"/></radialGradient>
<ellipse cx="586" cy="1290" rx="76.8" ry="95.8" fill="url(#m4_0)" style="mix-blend-mode:lighten"/>
<radialGradient id="m4_1"><stop offset="0.000" stop-color="#a8a8a8"/><stop offset="0.083" stop-color="#a7a7a7"/><stop offset="0.167" stop-color="#a0a0a0"/><stop offset="0.250" stop-color="#929292"/><stop offset="0.333" stop-color="#7d7d7d"/><stop offset="0.417" stop-color="#656565"/><stop offset="0.500" stop-color="#4b4b4b"/><stop offset="0.583" stop-color="#333333"/><stop offset="0.667" stop-color="#202020"/><stop offset="0.750" stop-color="#121212"/><stop offset="0.833" stop-color="#090909"/><stop offset="0.917" stop-color="#040404"/><stop offset="1.000" stop-color="#000000"/></radialGradient>
<ellipse cx="598" cy="1328" rx="54.2" ry="54.2" fill="url(#m4_1)" style="mix-blend-mode:lighten"/>
<radialGradient id="m4_2"><stop offset="0.000" stop-color="#6b6b6b"/><stop offset="0.083" stop-color="#6b6b6b"/><stop offset="0.167" stop-color="#6b6b6b"/><stop offset="0.250" stop-color="#696969"/><stop offset="0.333" stop-color="#656565"/><stop offset="0.417" stop-color="#5d5d5d"/><stop offset="0.500" stop-color="#505050"/><stop offset="0.583" stop-color="#3f3f3f"/><stop offset="0.667" stop-color="#2b2b2b"/><stop offset="0.750" stop-color="#191919"/><stop offset="0.833" stop-color="#0c0c0c"/><stop offset="0.917" stop-color="#040404"/><stop offset="1.000" stop-color="#000000"/></radialGradient>
<ellipse cx="424" cy="1300" rx="75.6" ry="129.6" fill="url(#m4_2)" style="mix-blend-mode:lighten"/>
<radialGradient id="m4_3"><stop offset="0.000" stop-color="#b0b0b0"/><stop offset="0.083" stop-color="#aeaeae"/><stop offset="0.167" stop-color="#a7a7a7"/><stop offset="0.250" stop-color="#989898"/><stop offset="0.333" stop-color="#838383"/><stop offset="0.417" stop-color="#696969"/><stop offset="0.500" stop-color="#4e4e4e"/><stop offset="0.583" stop-color="#353535"/><stop offset="0.667" stop-color="#212121"/><stop offset="0.750" stop-color="#131313"/><stop offset="0.833" stop-color="#0a0a0a"/><stop offset="0.917" stop-color="#040404"/><stop offset="1.000" stop-color="#000000"/></radialGradient>
<ellipse cx="423" cy="1269" rx="54.6" ry="61.8" fill="url(#m4_3)" style="mix-blend-mode:lighten"/>
<radialGradient id="m4_4"><stop offset="0.000" stop-color="#a3a3a3"/><stop offset="0.083" stop-color="#a2a2a2"/><stop offset="0.167" stop-color="#9b9b9b"/><stop offset="0.250" stop-color="#8d8d8d"/><stop offset="0.333" stop-color="#797979"/><stop offset="0.417" stop-color="#616161"/><stop offset="0.500" stop-color="#484848"/><stop offset="0.583" stop-color="#313131"/><stop offset="0.667" stop-color="#1f1f1f"/><stop offset="0.750" stop-color="#111111"/><stop offset="0.833" stop-color="#090909"/><stop offset="0.917" stop-color="#040404"/><stop offset="1.000" stop-color="#000000"/></radialGradient>
<ellipse cx="431.6" cy="1323" rx="74.7" ry="76.5" fill="url(#m4_4)" style="mix-blend-mode:lighten"/>
<radialGradient id="m4_5"><stop offset="0.000" stop-color="#8f8f8f"/><stop offset="0.083" stop-color="#8d8d8d"/><stop offset="0.167" stop-color="#888888"/><stop offset="0.250" stop-color="#7c7c7c"/><stop offset="0.333" stop-color="#6a6a6a"/><stop offset="0.417" stop-color="#555555"/><stop offset="0.500" stop-color="#3f3f3f"/><stop offset="0.583" stop-color="#2b2b2b"/><stop offset="0.667" stop-color="#1b1b1b"/><stop offset="0.750" stop-color="#0f0f0f"/><stop offset="0.833" stop-color="#080808"/><stop offset="0.917" stop-color="#040404"/><stop offset="1.000" stop-color="#000000"/></radialGradient>
<ellipse cx="413" cy="1394.5" rx="70.5" ry="72.9" fill="url(#m4_5)" style="mix-blend-mode:lighten"/>
<radialGradient id="m4_6"><stop offset="0.000" stop-color="#616161"/><stop offset="0.083" stop-color="#616161"/><stop offset="0.167" stop-color="#5f5f5f"/><stop offset="0.250" stop-color="#5a5a5a"/><stop offset="0.333" stop-color="#525252"/><stop offset="0.417" stop-color="#454545"/><stop offset="0.500" stop-color="#373737"/><stop offset="0.583" stop-color="#272727"/><stop offset="0.667" stop-color="#191919"/><stop offset="0.750" stop-color="#0e0e0e"/><stop offset="0.833" stop-color="#070707"/><stop offset="0.917" stop-color="#030303"/><stop offset="1.000" stop-color="#000000"/></radialGradient>
<ellipse cx="528.5" cy="1243" rx="54.2" ry="38.7" fill="url(#m4_6)" style="mix-blend-mode:lighten"/>
<radialGradient id="m4_7"><stop offset="0.000" stop-color="#575757"/><stop offset="0.083" stop-color="#565656"/><stop offset="0.167" stop-color="#555555"/><stop offset="0.250" stop-color="#515151"/><stop offset="0.333" stop-color="#494949"/><stop offset="0.417" stop-color="#3e3e3e"/><stop offset="0.500" stop-color="#313131"/><stop offset="0.583" stop-color="#232323"/><stop offset="0.667" stop-color="#161616"/><stop offset="0.750" stop-color="#0c0c0c"/><stop offset="0.833" stop-color="#060606"/><stop offset="0.917" stop-color="#030303"/><stop offset="1.000" stop-color="#000000"/></radialGradient>
<ellipse cx="532.5" cy="1347" rx="47.9" ry="35.1" fill="url(#m4_7)" style="mix-blend-mode:lighten"/>
<radialGradient id="m4_8"><stop offset="0.000" stop-color="#474747"/><stop offset="0.083" stop-color="#474747"/><stop offset="0.167" stop-color="#444444"/><stop offset="0.250" stop-color="#3e3e3e"/><stop offset="0.333" stop-color="#353535"/><stop offset="0.417" stop-color="#2b2b2b"/><stop offset="0.500" stop-color="#202020"/><stop offset="0.583" stop-color="#161616"/><stop offset="0.667" stop-color="#0d0d0d"/><stop offset="0.750" stop-color="#080808"/><stop offset="0.833" stop-color="#040404"/><stop offset="0.917" stop-color="#020202"/><stop offset="1.000" stop-color="#000000"/></radialGradient>
<ellipse cx="392.5" cy="1194" rx="34.1" ry="34.1" fill="url(#m4_8)" style="mix-blend-mode:lighten"/>
<radialGradient id="m4_9"><stop offset="0.000" stop-color="#454545"/><stop offset="0.083" stop-color="#444444"/><stop offset="0.167" stop-color="#414141"/><stop offset="0.250" stop-color="#3c3c3c"/><stop offset="0.333" stop-color="#333333"/><stop offset="0.417" stop-color="#292929"/><stop offset="0.500" stop-color="#1f1f1f"/><stop offset="0.583" stop-color="#151515"/><stop offset="0.667" stop-color="#0d0d0d"/><stop offset="0.750" stop-color="#070707"/><stop offset="0.833" stop-color="#040404"/><stop offset="0.917" stop-color="#020202"/><stop offset="1.000" stop-color="#000000"/></radialGradient>
<ellipse cx="635.5" cy="1425" rx="38.4" ry="26.9" fill="url(#m4_9)" style="mix-blend-mode:lighten"/>
<radialGradient id="m4_10"><stop offset="0.000" stop-color="#2e2e2e"/><stop offset="0.083" stop-color="#2d2d2d"/><stop offset="0.167" stop-color="#2c2c2c"/><stop offset="0.250" stop-color="#282828"/><stop offset="0.333" stop-color="#222222"/><stop offset="0.417" stop-color="#1b1b1b"/><stop offset="0.500" stop-color="#141414"/><stop offset="0.583" stop-color="#0e0e0e"/><stop offset="0.667" stop-color="#090909"/><stop offset="0.750" stop-color="#050505"/><stop offset="0.833" stop-color="#020202"/><stop offset="0.917" stop-color="#010101"/><stop offset="1.000" stop-color="#000000"/></radialGradient>
<ellipse cx="480" cy="1290" rx="97.8" ry="122.2" fill="url(#m4_10)" style="mix-blend-mode:lighten"/>
</g>
<path d="M296.3 1096.9V1486.3M311.6 1096.9V1486.3M326.9 1096.9V1486.3M342.2 1096.9V1486.3M357.5 1096.9V1486.3M372.8 1096.9V1486.3M388.1 1096.9V1486.3M403.4 1096.9V1486.3M418.7 1096.9V1486.3M434.0 1096.9V1486.3M449.3 1096.9V1486.3M464.6 1096.9V1486.3M479.9 1096.9V1486.3M495.2 1096.9V1486.3M510.5 1096.9V1486.3M525.8 1096.9V1486.3M541.1 1096.9V1486.3M556.4 1096.9V1486.3M571.7 1096.9V1486.3M587.0 1096.9V1486.3M602.3 1096.9V1486.3M617.6 1096.9V1486.3M632.9 1096.9V1486.3M648.2 1096.9V1486.3M663.5 1096.9V1486.3M678.8 1096.9V1486.3M694.1 1096.9V1486.3M709.4 1096.9V1486.3M283.7 1103.9H721.2M283.7 1119.2H721.2M283.7 1134.5H721.2M283.7 1149.8H721.2M283.7 1165.1H721.2M283.7 1180.4H721.2M283.7 1195.7H721.2M283.7 1211.0H721.2M283.7 1226.3H721.2M283.7 1241.6H721.2M283.7 1256.9H721.2M283.7 1272.2H721.2M283.7 1287.5H721.2M283.7 1302.8H721.2M283.7 1318.1H721.2M283.7 1333.4H721.2M283.7 1348.7H721.2M283.7 1364.0H721.2M283.7 1379.3H721.2M283.7 1394.6H721.2M283.7 1409.9H721.2M283.7 1425.2H721.2M283.7 1440.5H721.2M283.7 1455.8H721.2M283.7 1471.1H721.2" stroke="#000010" stroke-width="2.1" stroke-opacity="0.68" fill="none"/>
<polygon points="358,1175.3 662,1162.4 675,1447.5 370.6,1461.2" fill="none" stroke="#fff" stroke-width="12.6" stroke-linejoin="miter"/>
</g>
<rect x="209" y="1097.3" width="42.5" height="389.0" fill="url(#cbar)"/>
<path d="M199.5 1112H209M199.5 1205H209M199.5 1299.3H209M199.5 1392.3H209M199.5 1485.3H209" stroke="#999" stroke-width="2" fill="none"/>
<text x="141.0" y="1130.7" font-size="45">2</text>
<text x="122.4" y="1226.0" font-size="45">1.5</text>
<text x="136.5" y="1316.7" font-size="45">1</text>
<text x="118.9" y="1413.3" font-size="45">0.5</text>
<text x="148.0" y="1504.0" font-size="45">0</text>
<text x="489" y="1066" font-size="45" font-weight="bold" fill="#ff0000" text-anchor="middle" letter-spacing="-1.2">mPFC1</text>
<g clip-path="url(#clip5)">
<g filter="url(#jet)">
<rect x="931.9" y="1096.3" width="427.5" height="387.7" fill="rgb(5,5,5)"/>
<polygon points="1020,1190 1290,1180 1300,1420 1030,1430" fill="#fff" opacity="0.07" filter="url(#hz)" style="mix-blend-mode:plus-lighter"/>
<radialGradient id="m5_0"><stop offset="0.000" stop-color="#f7f7f7"/><stop offset="0.083" stop-color="#f5f5f5"/><stop offset="0.167" stop-color="#ebebeb"/><stop offset="0.250" stop-color="#d6d6d6"/><stop offset="0.333" stop-color="#b8b8b8"/><stop offset="0.417" stop-color="#949494"/><stop offset="0.500" stop-color="#6e6e6e"/><stop offset="0.583" stop-color="#4b4b4b"/><stop offset="0.667" stop-color="#2f2f2f"/><stop offset="0.750" stop-color="#1a1a1a"/><stop offset="0.833" stop-color="#0d0d0d"/><stop offset="0.917" stop-color="#060606"/><stop offset="1.000" stop-color="#000000"/></radialGradient>
<ellipse cx="1236.6" cy="1292.6" rx="65.0" ry="90.3" fill="url(#m5_0)" style="mix-blend-mode:lighten" transform="rotate(-8 1236.6 1292.6)"/>
<radialGradient id="m5_1"><stop offset="0.000" stop-color="#666666"/><stop offset="0.083" stop-color="#666666"/><stop offset="0.167" stop-color="#666666"/><stop offset="0.250" stop-color="#646464"/><stop offset="0.333" stop-color="#606060"/><stop offset="0.417" stop-color="#595959"/><stop offset="0.500" stop-color="#4d4d4d"/><stop offset="0.583" stop-color="#3c3c3c"/><stop offset="0.667" stop-color="#292929"/><stop offset="0.750" stop-color="#181818"/><stop offset="0.833" stop-color="#0b0b0b"/><stop offset="0.917" stop-color="#040404"/><stop offset="1.000" stop-color="#000000"/></radialGradient>
<ellipse cx="1072" cy="1267.5" rx="48.1" ry="48.1" fill="url(#m5_1)" style="mix-blend-mode:lighten"/>
<radialGradient id="m5_2"><stop offset="0.000" stop-color="#707070"/><stop offset="0.083" stop-color="#707070"/><stop offset="0.167" stop-color="#707070"/><stop offset="0.250" stop-color="#6e6e6e"/><stop offset="0.333" stop-color="#6a6a6a"/><stop offset="0.417" stop-color="#626262"/><stop offset="0.500" stop-color="#545454"/><stop offset="0.583" stop-color="#424242"/><stop offset="0.667" stop-color="#2d2d2d"/><stop offset="0.750" stop-color="#1a1a1a"/><stop offset="0.833" stop-color="#0c0c0c"/><stop offset="0.917" stop-color="#040404"/><stop offset="1.000" stop-color="#000000"/></radialGradient>
<ellipse cx="1062" cy="1306" rx="47.2" ry="47.2" fill="url(#m5_2)" style="mix-blend-mode:lighten"/>
<radialGradient id="m5_3"><stop offset="0.000" stop-color="#616161"/><stop offset="0.083" stop-color="#616161"/><stop offset="0.167" stop-color="#5f5f5f"/><stop offset="0.250" stop-color="#5a5a5a"/><stop offset="0.333" stop-color="#525252"/><stop offset="0.417" stop-color="#454545"/><stop offset="0.500" stop-color="#373737"/><stop offset="0.583" stop-color="#272727"/><stop offset="0.667" stop-color="#191919"/><stop offset="0.750" stop-color="#0e0e0e"/><stop offset="0.833" stop-color="#070707"/><stop offset="0.917" stop-color="#030303"/><stop offset="1.000" stop-color="#000000"/></radialGradient>
<ellipse cx="1159.4" cy="1245.6" rx="54.2" ry="35.0" fill="url(#m5_3)" style="mix-blend-mode:lighten"/>
<radialGradient id="m5_4"><stop offset="0.000" stop-color="#616161"/><stop offset="0.083" stop-color="#616161"/><stop offset="0.167" stop-color="#5f5f5f"/><stop offset="0.250" stop-color="#5a5a5a"/><stop offset="0.333" stop-color="#525252"/><stop offset="0.417" stop-color="#454545"/><stop offset="0.500" stop-color="#373737"/><stop offset="0.583" stop-color="#272727"/><stop offset="0.667" stop-color="#191919"/><stop offset="0.750" stop-color="#0e0e0e"/><stop offset="0.833" stop-color="#070707"/><stop offset="0.917" stop-color="#030303"/><stop offset="1.000" stop-color="#000000"/></radialGradient>
<ellipse cx="1062" cy="1390" rx="41.8" ry="48.0" fill="url(#m5_4)" style="mix-blend-mode:lighten"/>
<radialGradient id="m5_5"><stop offset="0.000" stop-color="#454545"/><stop offset="0.083" stop-color="#444444"/><stop offset="0.167" stop-color="#414141"/><stop offset="0.250" stop-color="#3c3c3c"/><stop offset="0.333" stop-color="#333333"/><stop offset="0.417" stop-color="#292929"/><stop offset="0.500" stop-color="#1f1f1f"/><stop offset="0.583" stop-color="#151515"/><stop offset="0.667" stop-color="#0d0d0d"/><stop offset="0.750" stop-color="#070707"/><stop offset="0.833" stop-color="#040404"/><stop offset="0.917" stop-color="#020202"/><stop offset="1.000" stop-color="#000000"/></radialGradient>
<ellipse cx="1045.3" cy="1197" rx="36.5" ry="32.7" fill="url(#m5_5)" style="mix-blend-mode:lighten"/>
<radialGradient id="m5_6"><stop offset="0.000" stop-color="#333333"/><stop offset="0.083" stop-color="#333333"/><stop offset="0.167" stop-color="#303030"/><stop offset="0.250" stop-color="#2c2c2c"/><stop offset="0.333" stop-color="#262626"/><stop offset="0.417" stop-color="#1e1e1e"/><stop offset="0.500" stop-color="#171717"/><stop offset="0.583" stop-color="#0f0f0f"/><stop offset="0.667" stop-color="#0a0a0a"/><stop offset="0.750" stop-color="#050505"/><stop offset="0.833" stop-color="#030303"/><stop offset="0.917" stop-color="#010101"/><stop offset="1.000" stop-color="#000000"/></radialGradient>
<ellipse cx="1230" cy="1205" rx="45.2" ry="45.2" fill="url(#m5_6)" style="mix-blend-mode:lighten"/>
<radialGradient id="m5_7"><stop offset="0.000" stop-color="#2e2e2e"/><stop offset="0.083" stop-color="#2d2d2d"/><stop offset="0.167" stop-color="#2c2c2c"/><stop offset="0.250" stop-color="#282828"/><stop offset="0.333" stop-color="#222222"/><stop offset="0.417" stop-color="#1b1b1b"/><stop offset="0.500" stop-color="#141414"/><stop offset="0.583" stop-color="#0e0e0e"/><stop offset="0.667" stop-color="#090909"/><stop offset="0.750" stop-color="#050505"/><stop offset="0.833" stop-color="#020202"/><stop offset="0.917" stop-color="#010101"/><stop offset="1.000" stop-color="#000000"/></radialGradient>
<ellipse cx="1120" cy="1240" rx="146.7" ry="61.1" fill="url(#m5_7)" style="mix-blend-mode:lighten"/>
</g>
<path d="M944.5 1096.3V1484M959.8 1096.3V1484M975.1 1096.3V1484M990.4 1096.3V1484M1005.7 1096.3V1484M1021.0 1096.3V1484M1036.3 1096.3V1484M1051.6 1096.3V1484M1066.9 1096.3V1484M1082.2 1096.3V1484M1097.5 1096.3V1484M1112.8 1096.3V1484M1128.1 1096.3V1484M1143.4 1096.3V1484M1158.7 1096.3V1484M1174.0 1096.3V1484M1189.3 1096.3V1484M1204.6 1096.3V1484M1219.9 1096.3V1484M1235.2 1096.3V1484M1250.5 1096.3V1484M1265.8 1096.3V1484M1281.1 1096.3V1484M1296.4 1096.3V1484M1311.7 1096.3V1484M1327.0 1096.3V1484M1342.3 1096.3V1484M1357.6 1096.3V1484M931.9 1103.3H1359.4M931.9 1118.6H1359.4M931.9 1133.9H1359.4M931.9 1149.2H1359.4M931.9 1164.5H1359.4M931.9 1179.8H1359.4M931.9 1195.1H1359.4M931.9 1210.4H1359.4M931.9 1225.7H1359.4M931.9 1241.0H1359.4M931.9 1256.3H1359.4M931.9 1271.6H1359.4M931.9 1286.9H1359.4M931.9 1302.2H1359.4M931.9 1317.5H1359.4M931.9 1332.8H1359.4M931.9 1348.1H1359.4M931.9 1363.4H1359.4M931.9 1378.7H1359.4M931.9 1394.0H1359.4M931.9 1409.3H1359.4M931.9 1424.6H1359.4M931.9 1439.9H1359.4M931.9 1455.2H1359.4M931.9 1470.5H1359.4" stroke="#000010" stroke-width="2.1" stroke-opacity="0.68" fill="none"/>
<polygon points="1001.3,1166.7 1305.4,1153.3 1318.2,1440.1 1014,1454.5" fill="none" stroke="#fff" stroke-width="12.6" stroke-linejoin="miter"/>
</g>
<rect x="846.5" y="1097" width="42.5" height="388.9" fill="url(#cbar)"/>
<path d="M837.0 1136H846.5M837.0 1252.8H846.5M837.0 1369H846.5M837.0 1485.3H846.5" stroke="#999" stroke-width="2" fill="none"/>
<text x="760.0" y="1157.4" font-size="45">0.3</text>
<text x="759.0" y="1270.2" font-size="45">0.2</text>
<text x="760.0" y="1391.2" font-size="45">0.1</text>
<text x="779.9" y="1504.0" font-size="45">0</text>
<text x="1137.5" y="1068" font-size="46.5" font-weight="bold" fill="#1010ff" text-anchor="middle" letter-spacing="-1.2">mPFC2</text>
<g clip-path="url(#clip6)">
<g filter="url(#jet)">
<rect x="292.8" y="1580.9" width="428.2" height="390.1" fill="rgb(5,5,5)"/>
<polygon points="385,1670 650,1660 655,1835 390,1845" fill="#fff" opacity="0.16" filter="url(#hz)" style="mix-blend-mode:plus-lighter"/>
<polygon points="390,1845 660,1835 665,1920 395,1930" fill="#fff" opacity="0.06" filter="url(#hz)" style="mix-blend-mode:plus-lighter"/>
<radialGradient id="m6_0"><stop offset="0.000" stop-color="#f7f7f7"/><stop offset="0.083" stop-color="#f5f5f5"/><stop offset="0.167" stop-color="#ebebeb"/><stop offset="0.250" stop-color="#d6d6d6"/><stop offset="0.333" stop-color="#b8b8b8"/><stop offset="0.417" stop-color="#949494"/><stop offset="0.500" stop-color="#6e6e6e"/><stop offset="0.583" stop-color="#4b4b4b"/><stop offset="0.667" stop-color="#2f2f2f"/><stop offset="0.750" stop-color="#1a1a1a"/><stop offset="0.833" stop-color="#0d0d0d"/><stop offset="0.917" stop-color="#060606"/><stop offset="1.000" stop-color="#000000"/></radialGradient>
<ellipse cx="597" cy="1765" rx="68.7" ry="90.3" fill="url(#m6_0)" style="mix-blend-mode:lighten" transform="rotate(-12 597 1765)"/>
<radialGradient id="m6_1"><stop offset="0.000" stop-color="#bfbfbf"/><stop offset="0.083" stop-color="#bdbdbd"/><stop offset="0.167" stop-color="#b6b6b6"/><stop offset="0.250" stop-color="#a6a6a6"/><stop offset="0.333" stop-color="#8e8e8e"/><stop offset="0.417" stop-color="#727272"/><stop offset="0.500" stop-color="#555555"/><stop offset="0.583" stop-color="#3a3a3a"/><stop offset="0.667" stop-color="#242424"/><stop offset="0.750" stop-color="#141414"/><stop offset="0.833" stop-color="#0a0a0a"/><stop offset="0.917" stop-color="#050505"/><stop offset="1.000" stop-color="#000000"/></radialGradient>
<ellipse cx="605" cy="1800" rx="56.6" ry="60.7" fill="url(#m6_1)" style="mix-blend-mode:lighten"/>
<radialGradient id="m6_2"><stop offset="0.000" stop-color="#a3a3a3"/><stop offset="0.083" stop-color="#a2a2a2"/><stop offset="0.167" stop-color="#9b9b9b"/><stop offset="0.250" stop-color="#8d8d8d"/><stop offset="0.333" stop-color="#797979"/><stop offset="0.417" stop-color="#616161"/><stop offset="0.500" stop-color="#484848"/><stop offset="0.583" stop-color="#313131"/><stop offset="0.667" stop-color="#1f1f1f"/><stop offset="0.750" stop-color="#111111"/><stop offset="0.833" stop-color="#090909"/><stop offset="0.917" stop-color="#040404"/><stop offset="1.000" stop-color="#000000"/></radialGradient>
<ellipse cx="428.7" cy="1762" rx="87.4" ry="123.8" fill="url(#m6_2)" style="mix-blend-mode:lighten"/>
<radialGradient id="m6_3"><stop offset="0.000" stop-color="#d1d1d1"/><stop offset="0.083" stop-color="#cfcfcf"/><stop offset="0.167" stop-color="#c6c6c6"/><stop offset="0.250" stop-color="#b5b5b5"/><stop offset="0.333" stop-color="#9c9c9c"/><stop offset="0.417" stop-color="#7d7d7d"/><stop offset="0.500" stop-color="#5d5d5d"/><stop offset="0.583" stop-color="#3f3f3f"/><stop offset="0.667" stop-color="#272727"/><stop offset="0.750" stop-color="#161616"/><stop offset="0.833" stop-color="#0b0b0b"/><stop offset="0.917" stop-color="#050505"/><stop offset="1.000" stop-color="#000000"/></radialGradient>
<ellipse cx="421.7" cy="1876" rx="58.1" ry="79.4" fill="url(#m6_3)" style="mix-blend-mode:lighten"/>
<radialGradient id="m6_4"><stop offset="0.000" stop-color="#a3a3a3"/><stop offset="0.083" stop-color="#9e9e9e"/><stop offset="0.167" stop-color="#909090"/><stop offset="0.250" stop-color="#7a7a7a"/><stop offset="0.333" stop-color="#626262"/><stop offset="0.417" stop-color="#494949"/><stop offset="0.500" stop-color="#343434"/><stop offset="0.583" stop-color="#222222"/><stop offset="0.667" stop-color="#151515"/><stop offset="0.750" stop-color="#0c0c0c"/><stop offset="0.833" stop-color="#070707"/><stop offset="0.917" stop-color="#030303"/><stop offset="1.000" stop-color="#000000"/></radialGradient>
<ellipse cx="526.7" cy="1710" rx="94.4" ry="94.4" fill="url(#m6_4)" style="mix-blend-mode:lighten"/>
<radialGradient id="m6_5"><stop offset="0.000" stop-color="#616161"/><stop offset="0.083" stop-color="#616161"/><stop offset="0.167" stop-color="#616161"/><stop offset="0.250" stop-color="#5f5f5f"/><stop offset="0.333" stop-color="#5c5c5c"/><stop offset="0.417" stop-color="#545454"/><stop offset="0.500" stop-color="#494949"/><stop offset="0.583" stop-color="#393939"/><stop offset="0.667" stop-color="#272727"/><stop offset="0.750" stop-color="#171717"/><stop offset="0.833" stop-color="#0b0b0b"/><stop offset="0.917" stop-color="#040404"/><stop offset="1.000" stop-color="#000000"/></radialGradient>
<ellipse cx="640" cy="1784" rx="34.7" ry="69.4" fill="url(#m6_5)" style="mix-blend-mode:lighten"/>
<radialGradient id="m6_6"><stop offset="0.000" stop-color="#666666"/><stop offset="0.083" stop-color="#666666"/><stop offset="0.167" stop-color="#646464"/><stop offset="0.250" stop-color="#5f5f5f"/><stop offset="0.333" stop-color="#565656"/><stop offset="0.417" stop-color="#494949"/><stop offset="0.500" stop-color="#393939"/><stop offset="0.583" stop-color="#292929"/><stop offset="0.667" stop-color="#1a1a1a"/><stop offset="0.750" stop-color="#0f0f0f"/><stop offset="0.833" stop-color="#070707"/><stop offset="0.917" stop-color="#030303"/><stop offset="1.000" stop-color="#000000"/></radialGradient>
<ellipse cx="539" cy="1823.7" rx="48.9" ry="42.8" fill="url(#m6_6)" style="mix-blend-mode:lighten"/>
<radialGradient id="m6_7"><stop offset="0.000" stop-color="#707070"/><stop offset="0.083" stop-color="#707070"/><stop offset="0.167" stop-color="#707070"/><stop offset="0.250" stop-color="#6e6e6e"/><stop offset="0.333" stop-color="#6a6a6a"/><stop offset="0.417" stop-color="#626262"/><stop offset="0.500" stop-color="#545454"/><stop offset="0.583" stop-color="#424242"/><stop offset="0.667" stop-color="#2d2d2d"/><stop offset="0.750" stop-color="#1a1a1a"/><stop offset="0.833" stop-color="#0c0c0c"/><stop offset="0.917" stop-color="#040404"/><stop offset="1.000" stop-color="#000000"/></radialGradient>
<ellipse cx="640.4" cy="1910" rx="59.6" ry="41.1" fill="url(#m6_7)" style="mix-blend-mode:lighten"/>
<radialGradient id="m6_8"><stop offset="0.000" stop-color="#4c4c4c"/><stop offset="0.083" stop-color="#4c4c4c"/><stop offset="0.167" stop-color="#494949"/><stop offset="0.250" stop-color="#424242"/><stop offset="0.333" stop-color="#393939"/><stop offset="0.417" stop-color="#2e2e2e"/><stop offset="0.500" stop-color="#222222"/><stop offset="0.583" stop-color="#171717"/><stop offset="0.667" stop-color="#0e0e0e"/><stop offset="0.750" stop-color="#080808"/><stop offset="0.833" stop-color="#040404"/><stop offset="0.917" stop-color="#020202"/><stop offset="1.000" stop-color="#000000"/></radialGradient>
<ellipse cx="643.7" cy="1666.3" rx="46.0" ry="46.0" fill="url(#m6_8)" style="mix-blend-mode:lighten"/>
<radialGradient id="m6_9"><stop offset="0.000" stop-color="#333333"/><stop offset="0.083" stop-color="#333333"/><stop offset="0.167" stop-color="#303030"/><stop offset="0.250" stop-color="#2c2c2c"/><stop offset="0.333" stop-color="#262626"/><stop offset="0.417" stop-color="#1e1e1e"/><stop offset="0.500" stop-color="#171717"/><stop offset="0.583" stop-color="#0f0f0f"/><stop offset="0.667" stop-color="#0a0a0a"/><stop offset="0.750" stop-color="#050505"/><stop offset="0.833" stop-color="#030303"/><stop offset="0.917" stop-color="#010101"/><stop offset="1.000" stop-color="#000000"/></radialGradient>
<ellipse cx="403.8" cy="1637.5" rx="45.2" ry="33.9" fill="url(#m6_9)" style="mix-blend-mode:lighten"/>
<radialGradient id="m6_10"><stop offset="0.000" stop-color="#383838"/><stop offset="0.083" stop-color="#383838"/><stop offset="0.167" stop-color="#353535"/><stop offset="0.250" stop-color="#313131"/><stop offset="0.333" stop-color="#2a2a2a"/><stop offset="0.417" stop-color="#222222"/><stop offset="0.500" stop-color="#191919"/><stop offset="0.583" stop-color="#111111"/><stop offset="0.667" stop-color="#0b0b0b"/><stop offset="0.750" stop-color="#060606"/><stop offset="0.833" stop-color="#030303"/><stop offset="0.917" stop-color="#010101"/><stop offset="1.000" stop-color="#000000"/></radialGradient>
<ellipse cx="400.6" cy="1669.5" rx="42.6" ry="42.6" fill="url(#m6_10)" style="mix-blend-mode:lighten"/>
<radialGradient id="m6_11"><stop offset="0.000" stop-color="#575757"/><stop offset="0.083" stop-color="#565656"/><stop offset="0.167" stop-color="#555555"/><stop offset="0.250" stop-color="#515151"/><stop offset="0.333" stop-color="#494949"/><stop offset="0.417" stop-color="#3e3e3e"/><stop offset="0.500" stop-color="#313131"/><stop offset="0.583" stop-color="#232323"/><stop offset="0.667" stop-color="#161616"/><stop offset="0.750" stop-color="#0c0c0c"/><stop offset="0.833" stop-color="#060606"/><stop offset="0.917" stop-color="#030303"/><stop offset="1.000" stop-color="#000000"/></radialGradient>
<ellipse cx="470" cy="1716" rx="71.9" ry="31.9" fill="url(#m6_11)" style="mix-blend-mode:lighten"/>
<radialGradient id="m6_12"><stop offset="0.000" stop-color="#525252"/><stop offset="0.083" stop-color="#515151"/><stop offset="0.167" stop-color="#505050"/><stop offset="0.250" stop-color="#4c4c4c"/><stop offset="0.333" stop-color="#454545"/><stop offset="0.417" stop-color="#3b3b3b"/><stop offset="0.500" stop-color="#2e2e2e"/><stop offset="0.583" stop-color="#212121"/><stop offset="0.667" stop-color="#151515"/><stop offset="0.750" stop-color="#0c0c0c"/><stop offset="0.833" stop-color="#060606"/><stop offset="0.917" stop-color="#020202"/><stop offset="1.000" stop-color="#000000"/></radialGradient>
<ellipse cx="575" cy="1722" rx="40.7" ry="32.5" fill="url(#m6_12)" style="mix-blend-mode:lighten"/>
</g>
<path d="M305.4 1580.9V1971M320.7 1580.9V1971M336.0 1580.9V1971M351.3 1580.9V1971M366.6 1580.9V1971M381.9 1580.9V1971M397.2 1580.9V1971M412.5 1580.9V1971M427.8 1580.9V1971M443.1 1580.9V1971M458.4 1580.9V1971M473.7 1580.9V1971M489.0 1580.9V1971M504.3 1580.9V1971M519.6 1580.9V1971M534.9 1580.9V1971M550.2 1580.9V1971M565.5 1580.9V1971M580.8 1580.9V1971M596.1 1580.9V1971M611.4 1580.9V1971M626.7 1580.9V1971M642.0 1580.9V1971M657.3 1580.9V1971M672.6 1580.9V1971M687.9 1580.9V1971M703.2 1580.9V1971M718.5 1580.9V1971M292.8 1587.9H721M292.8 1603.2H721M292.8 1618.5H721M292.8 1633.8H721M292.8 1649.1H721M292.8 1664.4H721M292.8 1679.7H721M292.8 1695.0H721M292.8 1710.3H721M292.8 1725.6H721M292.8 1740.9H721M292.8 1756.2H721M292.8 1771.5H721M292.8 1786.8H721M292.8 1802.1H721M292.8 1817.4H721M292.8 1832.7H721M292.8 1848.0H721M292.8 1863.3H721M292.8 1878.6H721M292.8 1893.9H721M292.8 1909.2H721M292.8 1924.5H721M292.8 1939.8H721M292.8 1955.1H721M292.8 1970.4H721" stroke="#000010" stroke-width="2.1" stroke-opacity="0.68" fill="none"/>
<polygon points="361.3,1659 665.1,1644.5 678.8,1930.8 374,1945.2" fill="none" stroke="#fff" stroke-width="12.6" stroke-linejoin="miter"/>
</g>
<rect x="208.7" y="1582.2" width="42.6" height="388.5" fill="url(#cbar)"/>
<path d="M199.2 1615H208.7M199.2 1704H208.7M199.2 1793H208.7M199.2 1882H208.7M199.2 1970.3H208.7" stroke="#999" stroke-width="2" fill="none"/>
<text x="143.7" y="1632.0" font-size="45">4</text>
<text x="143.3" y="1720.3" font-size="45">3</text>
<text x="143.3" y="1807.6" font-size="45">2</text>
<text x="142.2" y="1898.3" font-size="45">1</text>
<text x="143.3" y="1989.0" font-size="45">0</text>
<text x="494.5" y="1550.5" font-size="46" font-weight="bold" fill="#00ff00" text-anchor="middle" letter-spacing="-1.2">mPFC3</text>
<g clip-path="url(#clip7)">
<g filter="url(#jet)">
<rect x="931.9" y="1580.9" width="427.5" height="388.6" fill="rgb(5,5,5)"/>
<polygon points="1020,1670 1290,1660 1300,1850 1025,1860" fill="#fff" opacity="0.13" filter="url(#hz)" style="mix-blend-mode:plus-lighter"/>
<polygon points="1025,1860 1300,1850 1305,1925 1030,1935" fill="#fff" opacity="0.04" filter="url(#hz)" style="mix-blend-mode:plus-lighter"/>
<radialGradient id="m7_0"><stop offset="0.000" stop-color="#f7f7f7"/><stop offset="0.083" stop-color="#f5f5f5"/><stop offset="0.167" stop-color="#ebebeb"/><stop offset="0.250" stop-color="#d6d6d6"/><stop offset="0.333" stop-color="#b8b8b8"/><stop offset="0.417" stop-color="#949494"/><stop offset="0.500" stop-color="#6e6e6e"/><stop offset="0.583" stop-color="#4b4b4b"/><stop offset="0.667" stop-color="#2f2f2f"/><stop offset="0.750" stop-color="#1a1a1a"/><stop offset="0.833" stop-color="#0d0d0d"/><stop offset="0.917" stop-color="#060606"/><stop offset="1.000" stop-color="#000000"/></radialGradient>
<ellipse cx="1068.8" cy="1745.7" rx="61.0" ry="64.8" fill="url(#m7_0)" style="mix-blend-mode:lighten"/>
<radialGradient id="m7_1"><stop offset="0.000" stop-color="#a8a8a8"/><stop offset="0.083" stop-color="#a8a8a8"/><stop offset="0.167" stop-color="#a8a8a8"/><stop offset="0.250" stop-color="#a5a5a5"/><stop offset="0.333" stop-color="#9f9f9f"/><stop offset="0.417" stop-color="#939393"/><stop offset="0.500" stop-color="#7e7e7e"/><stop offset="0.583" stop-color="#636363"/><stop offset="0.667" stop-color="#444444"/><stop offset="0.750" stop-color="#272727"/><stop offset="0.833" stop-color="#121212"/><stop offset="0.917" stop-color="#070707"/><stop offset="1.000" stop-color="#000000"/></radialGradient>
<ellipse cx="1071" cy="1780" rx="62.5" ry="125" fill="url(#m7_1)" style="mix-blend-mode:lighten"/>
<radialGradient id="m7_2"><stop offset="0.000" stop-color="#bfbfbf"/><stop offset="0.083" stop-color="#bdbdbd"/><stop offset="0.167" stop-color="#b6b6b6"/><stop offset="0.250" stop-color="#a6a6a6"/><stop offset="0.333" stop-color="#8e8e8e"/><stop offset="0.417" stop-color="#727272"/><stop offset="0.500" stop-color="#555555"/><stop offset="0.583" stop-color="#3a3a3a"/><stop offset="0.667" stop-color="#242424"/><stop offset="0.750" stop-color="#141414"/><stop offset="0.833" stop-color="#0a0a0a"/><stop offset="0.917" stop-color="#050505"/><stop offset="1.000" stop-color="#000000"/></radialGradient>
<ellipse cx="1075.5" cy="1807.8" rx="45" ry="45" fill="url(#m7_2)" style="mix-blend-mode:lighten"/>
<radialGradient id="m7_3"><stop offset="0.000" stop-color="#f5f5f5"/><stop offset="0.083" stop-color="#f3f3f3"/><stop offset="0.167" stop-color="#e8e8e8"/><stop offset="0.250" stop-color="#d4d4d4"/><stop offset="0.333" stop-color="#b6b6b6"/><stop offset="0.417" stop-color="#929292"/><stop offset="0.500" stop-color="#6d6d6d"/><stop offset="0.583" stop-color="#4a4a4a"/><stop offset="0.667" stop-color="#2e2e2e"/><stop offset="0.750" stop-color="#1a1a1a"/><stop offset="0.833" stop-color="#0d0d0d"/><stop offset="0.917" stop-color="#060606"/><stop offset="1.000" stop-color="#000000"/></radialGradient>
<ellipse cx="1062" cy="1878.3" rx="58.0" ry="67.1" fill="url(#m7_3)" style="mix-blend-mode:lighten"/>
<radialGradient id="m7_4"><stop offset="0.000" stop-color="#e6e6e6"/><stop offset="0.083" stop-color="#e3e3e3"/><stop offset="0.167" stop-color="#dadada"/><stop offset="0.250" stop-color="#c7c7c7"/><stop offset="0.333" stop-color="#ababab"/><stop offset="0.417" stop-color="#898989"/><stop offset="0.500" stop-color="#666666"/><stop offset="0.583" stop-color="#454545"/><stop offset="0.667" stop-color="#2b2b2b"/><stop offset="0.750" stop-color="#181818"/><stop offset="0.833" stop-color="#0c0c0c"/><stop offset="0.917" stop-color="#060606"/><stop offset="1.000" stop-color="#000000"/></radialGradient>
<ellipse cx="1238.3" cy="1781" rx="81.1" ry="107.9" fill="url(#m7_4)" style="mix-blend-mode:lighten" transform="rotate(-10 1238.3 1781)"/>
<radialGradient id="m7_5"><stop offset="0.000" stop-color="#bdbdbd"/><stop offset="0.083" stop-color="#bbbbbb"/><stop offset="0.167" stop-color="#b3b3b3"/><stop offset="0.250" stop-color="#a3a3a3"/><stop offset="0.333" stop-color="#8c8c8c"/><stop offset="0.417" stop-color="#717171"/><stop offset="0.500" stop-color="#545454"/><stop offset="0.583" stop-color="#393939"/><stop offset="0.667" stop-color="#242424"/><stop offset="0.750" stop-color="#141414"/><stop offset="0.833" stop-color="#0a0a0a"/><stop offset="0.917" stop-color="#050505"/><stop offset="1.000" stop-color="#000000"/></radialGradient>
<ellipse cx="1172.9" cy="1822.9" rx="56.4" ry="56.4" fill="url(#m7_5)" style="mix-blend-mode:lighten"/>
<radialGradient id="m7_6"><stop offset="0.000" stop-color="#9e9e9e"/><stop offset="0.083" stop-color="#9d9d9d"/><stop offset="0.167" stop-color="#969696"/><stop offset="0.250" stop-color="#898989"/><stop offset="0.333" stop-color="#767676"/><stop offset="0.417" stop-color="#5e5e5e"/><stop offset="0.500" stop-color="#464646"/><stop offset="0.583" stop-color="#303030"/><stop offset="0.667" stop-color="#1e1e1e"/><stop offset="0.750" stop-color="#111111"/><stop offset="0.833" stop-color="#090909"/><stop offset="0.917" stop-color="#040404"/><stop offset="1.000" stop-color="#000000"/></radialGradient>
<ellipse cx="1200" cy="1791" rx="45" ry="30" fill="url(#m7_6)" style="mix-blend-mode:lighten" transform="rotate(-35 1200 1791)"/>
<radialGradient id="m7_7"><stop offset="0.000" stop-color="#8a8a8a"/><stop offset="0.083" stop-color="#888888"/><stop offset="0.167" stop-color="#838383"/><stop offset="0.250" stop-color="#777777"/><stop offset="0.333" stop-color="#676767"/><stop offset="0.417" stop-color="#525252"/><stop offset="0.500" stop-color="#3d3d3d"/><stop offset="0.583" stop-color="#2a2a2a"/><stop offset="0.667" stop-color="#1a1a1a"/><stop offset="0.750" stop-color="#0f0f0f"/><stop offset="0.833" stop-color="#070707"/><stop offset="0.917" stop-color="#030303"/><stop offset="1.000" stop-color="#000000"/></radialGradient>
<ellipse cx="1288.6" cy="1698.7" rx="42.1" ry="50.1" fill="url(#m7_7)" style="mix-blend-mode:lighten"/>
<radialGradient id="m7_8"><stop offset="0.000" stop-color="#c9c9c9"/><stop offset="0.083" stop-color="#c8c8c8"/><stop offset="0.167" stop-color="#bfbfbf"/><stop offset="0.250" stop-color="#aeaeae"/><stop offset="0.333" stop-color="#969696"/><stop offset="0.417" stop-color="#787878"/><stop offset="0.500" stop-color="#595959"/><stop offset="0.583" stop-color="#3d3d3d"/><stop offset="0.667" stop-color="#262626"/><stop offset="0.750" stop-color="#151515"/><stop offset="0.833" stop-color="#0b0b0b"/><stop offset="0.917" stop-color="#050505"/><stop offset="1.000" stop-color="#000000"/></radialGradient>
<ellipse cx="1283.6" cy="1915.2" rx="54.6" ry="54.6" fill="url(#m7_8)" style="mix-blend-mode:lighten"/>
<radialGradient id="m7_9"><stop offset="0.000" stop-color="#6b6b6b"/><stop offset="0.083" stop-color="#6b6b6b"/><stop offset="0.167" stop-color="#6b6b6b"/><stop offset="0.250" stop-color="#696969"/><stop offset="0.333" stop-color="#656565"/><stop offset="0.417" stop-color="#5d5d5d"/><stop offset="0.500" stop-color="#505050"/><stop offset="0.583" stop-color="#3f3f3f"/><stop offset="0.667" stop-color="#2b2b2b"/><stop offset="0.750" stop-color="#191919"/><stop offset="0.833" stop-color="#0c0c0c"/><stop offset="0.917" stop-color="#040404"/><stop offset="1.000" stop-color="#000000"/></radialGradient>
<ellipse cx="1170" cy="1725" rx="110" ry="30" fill="url(#m7_9)" style="mix-blend-mode:lighten"/>
<radialGradient id="m7_10"><stop offset="0.000" stop-color="#5e5e5e"/><stop offset="0.083" stop-color="#5e5e5e"/><stop offset="0.167" stop-color="#5e5e5e"/><stop offset="0.250" stop-color="#5d5d5d"/><stop offset="0.333" stop-color="#595959"/><stop offset="0.417" stop-color="#525252"/><stop offset="0.500" stop-color="#474747"/><stop offset="0.583" stop-color="#373737"/><stop offset="0.667" stop-color="#262626"/><stop offset="0.750" stop-color="#161616"/><stop offset="0.833" stop-color="#0a0a0a"/><stop offset="0.917" stop-color="#040404"/><stop offset="1.000" stop-color="#000000"/></radialGradient>
<ellipse cx="1130" cy="1780" rx="35" ry="45" fill="url(#m7_10)" style="mix-blend-mode:lighten"/>
<radialGradient id="m7_11"><stop offset="0.000" stop-color="#474747"/><stop offset="0.083" stop-color="#474747"/><stop offset="0.167" stop-color="#444444"/><stop offset="0.250" stop-color="#3e3e3e"/><stop offset="0.333" stop-color="#353535"/><stop offset="0.417" stop-color="#2b2b2b"/><stop offset="0.500" stop-color="#202020"/><stop offset="0.583" stop-color="#161616"/><stop offset="0.667" stop-color="#0d0d0d"/><stop offset="0.750" stop-color="#080808"/><stop offset="0.833" stop-color="#040404"/><stop offset="0.917" stop-color="#020202"/><stop offset="1.000" stop-color="#000000"/></radialGradient>
<ellipse cx="1045.3" cy="1682" rx="41.6" ry="37.8" fill="url(#m7_11)" style="mix-blend-mode:lighten"/>
</g>
<path d="M944.5 1580.9V1969.5M959.8 1580.9V1969.5M975.1 1580.9V1969.5M990.4 1580.9V1969.5M1005.7 1580.9V1969.5M1021.0 1580.9V1969.5M1036.3 1580.9V1969.5M1051.6 1580.9V1969.5M1066.9 1580.9V1969.5M1082.2 1580.9V1969.5M1097.5 1580.9V1969.5M1112.8 1580.9V1969.5M1128.1 1580.9V1969.5M1143.4 1580.9V1969.5M1158.7 1580.9V1969.5M1174.0 1580.9V1969.5M1189.3 1580.9V1969.5M1204.6 1580.9V1969.5M1219.9 1580.9V1969.5M1235.2 1580.9V1969.5M1250.5 1580.9V1969.5M1265.8 1580.9V1969.5M1281.1 1580.9V1969.5M1296.4 1580.9V1969.5M1311.7 1580.9V1969.5M1327.0 1580.9V1969.5M1342.3 1580.9V1969.5M1357.6 1580.9V1969.5M931.9 1587.9H1359.4M931.9 1603.2H1359.4M931.9 1618.5H1359.4M931.9 1633.8H1359.4M931.9 1649.1H1359.4M931.9 1664.4H1359.4M931.9 1679.7H1359.4M931.9 1695.0H1359.4M931.9 1710.3H1359.4M931.9 1725.6H1359.4M931.9 1740.9H1359.4M931.9 1756.2H1359.4M931.9 1771.5H1359.4M931.9 1786.8H1359.4M931.9 1802.1H1359.4M931.9 1817.4H1359.4M931.9 1832.7H1359.4M931.9 1848.0H1359.4M931.9 1863.3H1359.4M931.9 1878.6H1359.4M931.9 1893.9H1359.4M931.9 1909.2H1359.4M931.9 1924.5H1359.4M931.9 1939.8H1359.4M931.9 1955.1H1359.4" stroke="#000010" stroke-width="2.1" stroke-opacity="0.68" fill="none"/>
<polygon points="1000.6,1659 1304.4,1644.9 1317.2,1932.4 1014,1946.1" fill="none" stroke="#fff" stroke-width="12.6" stroke-linejoin="miter"/>
</g>
<rect x="846.5" y="1582.2" width="42.5" height="388.5" fill="url(#cbar)"/>
<path d="M837.0 1630.3H846.5M837.0 1743.6H846.5M837.0 1857.6H846.5M837.0 1970.3H846.5" stroke="#999" stroke-width="2" fill="none"/>
<text x="761.3" y="1651.7" font-size="45">0.3</text>
<text x="759.0" y="1764.5" font-size="45">0.2</text>
<text x="761.3" y="1876.2" font-size="45">0.1</text>
<text x="777.5" y="1989.0" font-size="45">0</text>
<text x="1141" y="1546" font-size="45.5" font-weight="bold" fill="#df9a00" text-anchor="middle" letter-spacing="-1.2">mPFC4</text>
<text x="15" y="48" font-size="46" font-weight="bold">a.</text>
<text x="15.5" y="1064.5" font-size="46" font-weight="bold">b.</text>
<text x="1393" y="48" font-size="46" font-weight="bold">c.</text>
<text x="1396" y="1066" font-size="46" font-weight="bold">d.</text>
<circle cx="1034" cy="32" r="1.2" fill="#333"/>
<circle cx="390" cy="1520" r="1.2" fill="#333"/>
<circle cx="1036" cy="517" r="1.2" fill="#bbb"/>
<circle cx="1036" cy="1521" r="1.2" fill="#ccc"/>
<path d="M1533 139.4V571.6H2131" stroke="#000" stroke-width="4.2" fill="none" stroke-linecap="square"/>
<path d="M1533 571.6h4.5M1533 485.2h4.5M1533 398.7h4.5M1533 312.3h4.5M1533 225.8h4.5M1533 139.4h4.5M1631 571.6v-4.5M1731 571.6v-4.5M1831 571.6v-4.5M1931 571.6v-4.5M2031 571.6v-4.5M2131 571.6v-4.5" stroke="#000" stroke-width="3" fill="none"/>
<text x="1467" y="580.8" font-size="46">0</text>
<text x="1447.5" y="494.4" font-size="45.5">0.2</text>
<text x="1447.5" y="407.9" font-size="45.5">0.4</text>
<text x="1447.5" y="321.5" font-size="45.5">0.6</text>
<text x="1447.5" y="235.0" font-size="45.5">0.8</text>
<text x="1469" y="149.4" font-size="46">1</text>
<text x="1517.5" y="621.5" font-size="46" text-anchor="middle">0</text>
<text x="1621" y="621.5" font-size="46" text-anchor="middle">50</text>
<text x="1727.6" y="621.5" font-size="46" text-anchor="middle">100</text>
<text x="1829" y="621.5" font-size="46" text-anchor="middle">150</text>
<text x="1926.7" y="621.5" font-size="46" text-anchor="middle">200</text>
<text x="2025.6" y="621.5" font-size="46" text-anchor="middle">250</text>
<text x="2126.7" y="621.5" font-size="46" text-anchor="middle">300</text>
<text x="1838" y="693" font-size="45" font-weight="bold" text-anchor="middle">Time (s)</text>
<text transform="translate(1426 355.5) rotate(-90)" font-size="45" font-weight="bold" text-anchor="middle">iFR/max iFR bin</text>
<path d="M1533.0,561.0 1535.0,571.6 1537.0,377.1 1539.0,441.9 1541.0,571.6 1543.0,571.6 1545.0,571.6 1547.0,519.6 1549.0,571.6 1551.0,571.6 1553.0,557.9 1555.0,571.6 1557.0,571.6 1559.0,515.7 1561.0,571.6 1563.0,571.6 1565.0,571.6 1567.0,571.6 1569.0,571.6 1571.0,567.9 1573.0,546.9 1575.0,545.5 1577.0,571.6 1579.0,571.6 1581.0,508.3 1583.0,571.6 1585.0,513.4 1587.0,546.7 1589.0,544.1 1591.0,571.6 1593.0,571.6 1595.0,571.6 1597.0,571.6 1599.0,571.6 1601.0,571.6 1603.0,571.6 1605.0,571.6 1607.0,571.6 1609.0,571.6 1611.0,525.2 1613.0,163.2 1615.0,571.6 1617.0,571.6 1619.0,571.6 1621.0,530.1 1623.0,312.3 1625.0,513.6 1627.0,571.6 1629.0,527.0 1631.0,312.3 1633.0,538.2 1635.0,377.1 1637.0,571.6 1639.0,550.1 1641.0,571.6 1643.0,398.7 1645.0,547.8 1647.0,548.8 1649.0,355.5 1651.0,571.6 1653.0,539.9 1655.0,338.2 1657.0,542.2 1659.0,551.1 1661.0,571.6 1663.0,430.2 1665.0,571.6 1667.0,555.6 1669.0,571.6 1671.0,519.9 1673.0,571.6 1675.0,546.6 1677.0,571.6 1679.0,571.6 1681.0,508.0 1683.0,571.6 1685.0,544.8 1687.0,444.5 1689.0,571.6 1691.0,571.6 1693.0,571.6 1695.0,551.8 1697.0,518.0 1699.0,571.6 1701.0,557.8 1703.0,571.6 1705.0,571.6 1707.0,571.6 1709.0,571.6 1711.0,553.8 1713.0,552.6 1715.0,432.1 1717.0,571.6 1719.0,208.6 1721.0,571.6 1723.0,571.6 1725.0,522.9 1727.0,139.4 1729.0,543.6 1731.0,441.9 1733.0,563.4 1735.0,536.8 1737.0,571.6 1739.0,539.9 1741.0,485.2 1743.0,571.6 1745.0,571.6 1747.0,571.6 1749.0,538.8 1751.0,515.5 1753.0,429.0 1755.0,571.6 1757.0,398.7 1759.0,571.6 1761.0,539.7 1763.0,571.6 1765.0,568.3 1767.0,571.6 1769.0,571.6 1771.0,508.3 1773.0,571.6 1775.0,413.3 1777.0,571.6 1779.0,571.6 1781.0,528.8 1783.0,571.6 1785.0,571.6 1787.0,560.6 1789.0,571.6 1791.0,571.6 1793.0,571.6 1795.0,571.6 1797.0,571.6 1799.0,512.0 1801.0,571.6 1803.0,571.6 1805.0,571.6 1807.0,571.6 1809.0,456.3 1811.0,571.6 1813.0,560.3 1815.0,548.6 1817.0,571.6 1819.0,571.6 1821.0,571.6 1823.0,568.5 1825.0,571.6 1827.0,547.5 1829.0,524.2 1831.0,571.6 1833.0,571.6 1835.0,571.6 1837.0,571.6 1839.0,563.7 1841.0,390.1 1843.0,571.6 1845.0,381.4 1847.0,543.9 1849.0,519.6 1851.0,571.6 1853.0,571.6 1855.0,571.6 1857.0,571.6 1859.0,571.6 1861.0,571.6 1863.0,560.3 1865.0,571.6 1867.0,571.6 1869.0,571.6 1871.0,571.6 1873.0,571.6 1875.0,571.6 1877.0,571.6 1879.0,571.6 1881.0,513.1 1883.0,571.6 1885.0,524.5 1887.0,543.8 1889.0,568.5 1891.0,571.6 1893.0,540.5 1895.0,567.4 1897.0,524.8 1899.0,571.6 1901.0,571.6 1903.0,571.6 1905.0,571.6 1907.0,458.0 1909.0,571.6 1911.0,571.6 1913.0,571.6 1915.0,548.0 1917.0,571.6 1919.0,571.6 1921.0,571.6 1923.0,571.6 1925.0,521.4 1927.0,398.7 1929.0,571.6 1931.0,571.6 1933.0,571.6 1935.0,514.4 1937.0,377.1 1939.0,519.1 1941.0,571.6 1943.0,546.6 1945.0,546.8 1947.0,245.3 1949.0,571.6 1951.0,571.6 1953.0,355.5 1955.0,508.4 1957.0,333.9 1959.0,527.4 1961.0,571.6 1963.0,571.6 1965.0,557.3 1967.0,387.3 1969.0,571.6 1971.0,420.3 1973.0,571.6 1975.0,571.6 1977.0,571.6 1979.0,571.6 1981.0,571.6 1983.0,571.6 1985.0,571.6 1987.0,571.6 1989.0,571.6 1991.0,571.6 1993.0,571.6 1995.0,571.6 1997.0,571.6 1999.0,564.4 2001.0,571.6 2003.0,571.6 2005.0,552.5 2007.0,567.1 2009.0,571.6 2011.0,571.6 2013.0,571.6 2015.0,571.6 2017.0,571.6 2019.0,571.6 2021.0,571.6 2023.0,567.3 2025.0,510.2 2027.0,571.6 2029.0,571.6 2031.0,571.6 2033.0,571.6 2035.0,571.6 2037.0,561.8 2039.0,571.6 2041.0,571.6 2043.0,571.6 2045.0,550.0 2047.0,571.6 2049.0,571.6 2051.0,571.6 2053.0,571.6 2055.0,571.6 2057.0,509.0 2059.0,571.6 2061.0,535.5 2063.0,571.6 2065.0,404.8 2067.0,571.6 2069.0,537.0 2071.0,571.6 2073.0,571.6 2075.0,571.6 2077.0,526.7 2079.0,571.6 2081.0,553.0 2083.0,528.4 2085.0,561.0 2087.0,571.6 2089.0,571.6 2091.0,571.6 2093.0,549.2 2095.0,571.6 2097.0,571.6 2099.0,571.6 2101.0,571.6 2103.0,571.6 2105.0,571.6 2107.0,512.8 2109.0,524.3 2111.0,541.6 2113.0,571.6 2115.0,541.9 2117.0,523.5 2119.0,571.6 2121.0,571.6 2123.0,571.6 2125.0,571.6 2127.0,545.8 2129.0,543.6 2131.0,571.6" stroke="#0000ff" stroke-width="2.6" fill="none" stroke-linejoin="round"/>
<path d="M1533.0,571.6 1535.0,571.6 1537.0,571.6 1539.0,520.6 1541.0,571.6 1543.0,570.6 1545.0,571.6 1547.0,569.5 1549.0,571.6 1551.0,571.6 1553.0,571.6 1555.0,528.4 1557.0,571.6 1559.0,379.3 1561.0,554.1 1563.0,548.6 1565.0,540.1 1567.0,571.6 1569.0,510.3 1571.0,571.6 1573.0,563.8 1575.0,548.3 1577.0,571.6 1579.0,522.2 1581.0,533.4 1583.0,486.0 1585.0,571.6 1587.0,547.9 1589.0,571.6 1591.0,571.6 1593.0,571.6 1595.0,571.6 1597.0,571.6 1599.0,538.5 1601.0,571.6 1603.0,571.6 1605.0,569.3 1607.0,571.6 1609.0,549.0 1611.0,526.6 1613.0,571.6 1615.0,571.6 1617.0,570.5 1619.0,571.6 1621.0,571.6 1623.0,571.6 1625.0,571.6 1627.0,571.6 1629.0,540.0 1631.0,571.6 1633.0,571.6 1635.0,571.6 1637.0,571.6 1639.0,571.6 1641.0,571.6 1643.0,571.6 1645.0,571.6 1647.0,560.3 1649.0,571.6 1651.0,571.6 1653.0,571.6 1655.0,571.6 1657.0,567.0 1659.0,571.6 1661.0,571.6 1663.0,571.6 1665.0,571.6 1667.0,552.1 1669.0,571.6 1671.0,557.7 1673.0,571.6 1675.0,564.3 1677.0,571.6 1679.0,571.6 1681.0,571.6 1683.0,571.6 1685.0,571.6 1687.0,553.2 1689.0,571.6 1691.0,522.0 1693.0,533.8 1695.0,571.6 1697.0,521.5 1699.0,571.6 1701.0,571.6 1703.0,571.6 1705.0,517.3 1707.0,525.2 1709.0,571.6 1711.0,571.6 1713.0,571.6 1715.0,558.3 1717.0,546.8 1719.0,552.3 1721.0,456.0 1723.0,571.6 1725.0,531.6 1727.0,530.7 1729.0,571.6 1731.0,571.6 1733.0,571.6 1735.0,571.6 1737.0,571.6 1739.0,469.4 1741.0,515.3 1743.0,556.2 1745.0,571.6 1747.0,554.0 1749.0,571.6 1751.0,529.1 1753.0,571.6 1755.0,463.6 1757.0,571.6 1759.0,570.9 1761.0,571.6 1763.0,571.6 1765.0,512.5 1767.0,554.3 1769.0,550.6 1771.0,530.0 1773.0,512.7 1775.0,571.6 1777.0,571.6 1779.0,571.6 1781.0,567.3 1783.0,541.2 1785.0,571.6 1787.0,450.6 1789.0,571.6 1791.0,571.6 1793.0,519.0 1795.0,571.6 1797.0,571.6 1799.0,571.6 1801.0,571.6 1803.0,539.4 1805.0,571.6 1807.0,571.6 1809.0,571.6 1811.0,571.6 1813.0,532.6 1815.0,571.6 1817.0,525.3 1819.0,571.6 1821.0,571.6 1823.0,571.6 1825.0,530.9 1827.0,571.6 1829.0,456.0 1831.0,571.6 1833.0,571.6 1835.0,570.7 1837.0,514.0 1839.0,555.7 1841.0,571.6 1843.0,571.6 1845.0,571.6 1847.0,571.6 1849.0,571.6 1851.0,543.8 1853.0,516.9 1855.0,571.6 1857.0,571.6 1859.0,571.6 1861.0,571.6 1863.0,571.6 1865.0,420.4 1867.0,571.6 1869.0,571.6 1871.0,571.6 1873.0,548.9 1875.0,369.4 1877.0,543.3 1879.0,571.6 1881.0,571.6 1883.0,571.6 1885.0,571.6 1887.0,571.6 1889.0,532.3 1891.0,563.9 1893.0,571.6 1895.0,548.9 1897.0,571.6 1899.0,553.6 1901.0,571.6 1903.0,571.6 1905.0,537.8 1907.0,571.6 1909.0,441.9 1911.0,292.8 1913.0,546.0 1915.0,295.0 1917.0,571.6 1919.0,571.6 1921.0,420.3 1923.0,571.6 1925.0,571.6 1927.0,571.6 1929.0,441.9 1931.0,563.6 1933.0,508.7 1935.0,571.6 1937.0,571.6 1939.0,571.6 1941.0,518.2 1943.0,446.0 1945.0,571.6 1947.0,571.6 1949.0,544.5 1951.0,571.6 1953.0,363.4 1955.0,571.6 1957.0,571.6 1959.0,571.6 1961.0,571.6 1963.0,513.3 1965.0,571.6 1967.0,571.6 1969.0,555.0 1971.0,543.8 1973.0,571.6 1975.0,531.3 1977.0,557.9 1979.0,571.6 1981.0,571.6 1983.0,496.6 1985.0,540.1 1987.0,520.3 1989.0,571.6 1991.0,571.6 1993.0,374.3 1995.0,532.7 1997.0,550.0 1999.0,562.3 2001.0,571.6 2003.0,542.6 2005.0,541.4 2007.0,571.6 2009.0,571.6 2011.0,498.9 2013.0,571.6 2015.0,571.6 2017.0,571.6 2019.0,571.6 2021.0,571.6 2023.0,571.6 2025.0,571.6 2027.0,571.6 2029.0,571.6 2031.0,571.6 2033.0,139.4 2035.0,546.4 2037.0,571.6 2039.0,571.6 2041.0,571.6 2043.0,571.6 2045.0,277.7 2047.0,571.6 2049.0,571.6 2051.0,571.6 2053.0,355.5 2055.0,571.6 2057.0,571.6 2059.0,571.6 2061.0,571.6 2063.0,571.6 2065.0,571.6 2067.0,329.6 2069.0,571.6 2071.0,564.5 2073.0,441.9 2075.0,512.9 2077.0,571.6 2079.0,571.6 2081.0,571.6 2083.0,571.6 2085.0,520.0 2087.0,571.6 2089.0,571.6 2091.0,532.3 2093.0,571.6 2095.0,571.6 2097.0,555.0 2099.0,571.6 2101.0,535.6 2103.0,571.6 2105.0,571.6 2107.0,571.6 2109.0,547.9 2111.0,463.6 2113.0,557.9 2115.0,553.4 2117.0,534.1 2119.0,552.2 2121.0,530.2 2123.0,485.2 2125.0,515.9 2127.0,523.7 2129.0,514.2 2131.0,571.6" stroke="#ff0000" stroke-width="2.6" fill="none" stroke-linejoin="round"/>
<path d="M1533.0,556.4 1535.0,389.7 1537.0,571.6 1539.0,571.6 1541.0,513.5 1543.0,533.0 1545.0,571.6 1547.0,536.9 1549.0,571.6 1551.0,155.4 1553.0,541.5 1555.0,420.3 1557.0,571.6 1559.0,571.6 1561.0,524.4 1563.0,533.0 1565.0,364.1 1567.0,513.3 1569.0,368.5 1571.0,571.6 1573.0,385.8 1575.0,513.6 1577.0,571.6 1579.0,507.0 1581.0,571.6 1583.0,571.6 1585.0,571.6 1587.0,282.9 1589.0,544.4 1591.0,525.5 1593.0,566.0 1595.0,507.2 1597.0,571.6 1599.0,398.7 1601.0,467.0 1603.0,571.6 1605.0,571.6 1607.0,571.6 1609.0,571.6 1611.0,571.6 1613.0,548.5 1615.0,571.6 1617.0,571.6 1619.0,571.6 1621.0,526.5 1623.0,571.6 1625.0,543.9 1627.0,535.1 1629.0,571.6 1631.0,571.6 1633.0,571.6 1635.0,537.8 1637.0,523.6 1639.0,542.6 1641.0,571.6 1643.0,571.6 1645.0,568.3 1647.0,571.6 1649.0,571.6 1651.0,571.6 1653.0,571.6 1655.0,571.6 1657.0,571.6 1659.0,511.9 1661.0,571.6 1663.0,515.1 1665.0,571.6 1667.0,571.6 1669.0,452.5 1671.0,571.6 1673.0,571.6 1675.0,546.2 1677.0,571.6 1679.0,571.6 1681.0,528.7 1683.0,571.6 1685.0,527.8 1687.0,385.8 1689.0,312.3 1691.0,529.5 1693.0,571.6 1695.0,571.6 1697.0,523.6 1699.0,479.4 1701.0,542.0 1703.0,571.6 1705.0,571.6 1707.0,531.5 1709.0,571.6 1711.0,571.6 1713.0,571.6 1715.0,571.6 1717.0,571.6 1719.0,517.3 1721.0,571.6 1723.0,526.0 1725.0,571.6 1727.0,571.6 1729.0,560.0 1731.0,384.2 1733.0,571.6 1735.0,528.8 1737.0,571.6 1739.0,571.6 1741.0,571.6 1743.0,571.6 1745.0,571.6 1747.0,571.6 1749.0,571.6 1751.0,571.6 1753.0,571.6 1755.0,517.5 1757.0,535.3 1759.0,543.2 1761.0,560.9 1763.0,432.8 1765.0,518.3 1767.0,571.6 1769.0,551.6 1771.0,571.6 1773.0,571.6 1775.0,571.6 1777.0,525.4 1779.0,571.6 1781.0,571.6 1783.0,560.6 1785.0,571.6 1787.0,571.6 1789.0,543.7 1791.0,571.6 1793.0,571.6 1795.0,571.6 1797.0,509.1 1799.0,571.6 1801.0,571.6 1803.0,518.6 1805.0,571.6 1807.0,513.6 1809.0,533.5 1811.0,571.6 1813.0,571.6 1815.0,571.6 1817.0,521.4 1819.0,454.9 1821.0,571.6 1823.0,571.6 1825.0,236.6 1827.0,571.6 1829.0,538.9 1831.0,454.9 1833.0,545.9 1835.0,521.8 1837.0,535.5 1839.0,494.5 1841.0,550.5 1843.0,571.6 1845.0,571.6 1847.0,571.6 1849.0,571.6 1851.0,571.6 1853.0,530.7 1855.0,571.6 1857.0,571.6 1859.0,571.6 1861.0,454.9 1863.0,467.4 1865.0,571.6 1867.0,454.9 1869.0,509.2 1871.0,390.1 1873.0,529.1 1875.0,546.9 1877.0,571.6 1879.0,532.4 1881.0,571.6 1883.0,571.6 1885.0,571.6 1887.0,512.5 1889.0,571.6 1891.0,545.7 1893.0,571.6 1895.0,443.1 1897.0,560.4 1899.0,571.6 1901.0,355.5 1903.0,472.1 1905.0,571.6 1907.0,549.3 1909.0,571.6 1911.0,571.6 1913.0,571.6 1915.0,571.6 1917.0,571.6 1919.0,568.3 1921.0,571.6 1923.0,571.6 1925.0,555.4 1927.0,509.3 1929.0,571.6 1931.0,544.8 1933.0,544.4 1935.0,557.0 1937.0,571.6 1939.0,571.6 1941.0,571.6 1943.0,571.6 1945.0,546.5 1947.0,571.6 1949.0,571.6 1951.0,404.0 1953.0,571.6 1955.0,535.4 1957.0,399.9 1959.0,559.6 1961.0,571.6 1963.0,533.4 1965.0,571.6 1967.0,571.6 1969.0,517.0 1971.0,542.8 1973.0,571.6 1975.0,558.7 1977.0,571.6 1979.0,571.6 1981.0,571.6 1983.0,571.6 1985.0,571.6 1987.0,571.6 1989.0,571.6 1991.0,549.3 1993.0,571.6 1995.0,571.6 1997.0,571.6 1999.0,312.3 2001.0,532.8 2003.0,571.6 2005.0,517.6 2007.0,514.6 2009.0,414.3 2011.0,528.1 2013.0,571.6 2015.0,571.6 2017.0,364.1 2019.0,545.3 2021.0,571.6 2023.0,549.0 2025.0,466.7 2027.0,571.6 2029.0,571.6 2031.0,540.7 2033.0,571.6 2035.0,546.2 2037.0,535.3 2039.0,571.6 2041.0,571.6 2043.0,507.6 2045.0,571.6 2047.0,519.7 2049.0,333.9 2051.0,571.6 2053.0,571.6 2055.0,355.5 2057.0,554.6 2059.0,550.6 2061.0,509.1 2063.0,377.1 2065.0,571.6 2067.0,571.6 2069.0,571.6 2071.0,571.6 2073.0,535.3 2075.0,364.1 2077.0,569.1 2079.0,571.6 2081.0,513.7 2083.0,571.6 2085.0,571.6 2087.0,571.6 2089.0,571.6 2091.0,571.6 2093.0,571.6 2095.0,521.0 2097.0,571.6 2099.0,520.6 2101.0,571.6 2103.0,563.6 2105.0,571.6 2107.0,507.5 2109.0,544.8 2111.0,571.6 2113.0,571.6 2115.0,571.6 2117.0,571.6 2119.0,571.6 2121.0,571.6 2123.0,571.6 2125.0,571.6 2127.0,571.6 2129.0,416.0 2131.0,571.6" stroke="#00ff00" stroke-width="2.6" fill="none" stroke-linejoin="round"/>
<path d="M1533.0,530.8 1535.0,549.9 1537.0,571.6 1539.0,555.3 1541.0,510.3 1543.0,527.5 1545.0,372.6 1547.0,571.6 1549.0,571.6 1551.0,550.2 1553.0,517.5 1555.0,543.5 1557.0,571.6 1559.0,571.6 1561.0,538.6 1563.0,561.5 1565.0,511.2 1567.0,571.6 1569.0,571.6 1571.0,571.6 1573.0,550.6 1575.0,546.4 1577.0,571.6 1579.0,571.6 1581.0,418.2 1583.0,556.2 1585.0,535.6 1587.0,554.7 1589.0,520.2 1591.0,561.3 1593.0,571.6 1595.0,461.9 1597.0,537.7 1599.0,424.9 1601.0,553.7 1603.0,522.4 1605.0,510.7 1607.0,571.6 1609.0,503.8 1611.0,524.0 1613.0,571.6 1615.0,571.6 1617.0,571.2 1619.0,520.5 1621.0,521.1 1623.0,571.6 1625.0,571.6 1627.0,571.6 1629.0,571.6 1631.0,515.1 1633.0,520.6 1635.0,571.6 1637.0,571.6 1639.0,561.2 1641.0,507.1 1643.0,553.6 1645.0,571.6 1647.0,571.6 1649.0,515.7 1651.0,562.7 1653.0,571.6 1655.0,565.9 1657.0,273.4 1659.0,571.6 1661.0,564.7 1663.0,571.6 1665.0,429.0 1667.0,549.6 1669.0,571.6 1671.0,571.6 1673.0,483.8 1675.0,385.8 1677.0,511.3 1679.0,517.8 1681.0,571.6 1683.0,385.8 1685.0,571.6 1687.0,571.6 1689.0,511.3 1691.0,571.6 1693.0,571.6 1695.0,571.6 1697.0,571.6 1699.0,531.2 1701.0,199.0 1703.0,282.0 1705.0,568.8 1707.0,565.1 1709.0,571.6 1711.0,571.6 1713.0,139.4 1715.0,552.9 1717.0,385.8 1719.0,551.6 1721.0,513.9 1723.0,357.0 1725.0,571.6 1727.0,463.3 1729.0,397.7 1731.0,542.1 1733.0,571.6 1735.0,518.4 1737.0,571.6 1739.0,571.6 1741.0,571.6 1743.0,571.6 1745.0,555.0 1747.0,571.6 1749.0,530.4 1751.0,553.3 1753.0,571.6 1755.0,571.6 1757.0,515.6 1759.0,454.7 1761.0,571.6 1763.0,534.1 1765.0,568.8 1767.0,571.6 1769.0,524.2 1771.0,571.6 1773.0,260.4 1775.0,571.6 1777.0,507.5 1779.0,566.2 1781.0,513.1 1783.0,571.6 1785.0,519.5 1787.0,568.6 1789.0,571.6 1791.0,513.9 1793.0,571.6 1795.0,555.6 1797.0,517.4 1799.0,514.4 1801.0,533.3 1803.0,530.0 1805.0,507.1 1807.0,571.6 1809.0,549.4 1811.0,507.2 1813.0,571.6 1815.0,571.6 1817.0,571.6 1819.0,571.6 1821.0,560.7 1823.0,498.4 1825.0,545.9 1827.0,570.2 1829.0,571.6 1831.0,564.5 1833.0,405.8 1835.0,547.8 1837.0,571.6 1839.0,571.6 1841.0,512.4 1843.0,531.6 1845.0,549.8 1847.0,521.7 1849.0,531.1 1851.0,514.2 1853.0,571.6 1855.0,518.3 1857.0,513.9 1859.0,511.4 1861.0,524.3 1863.0,563.1 1865.0,565.6 1867.0,567.3 1869.0,516.3 1871.0,571.6 1873.0,571.6 1875.0,537.0 1877.0,571.6 1879.0,571.6 1881.0,565.0 1883.0,571.6 1885.0,527.0 1887.0,526.1 1889.0,571.6 1891.0,402.2 1893.0,528.5 1895.0,484.6 1897.0,533.4 1899.0,539.9 1901.0,571.6 1903.0,571.6 1905.0,515.3 1907.0,553.3 1909.0,554.5 1911.0,407.4 1913.0,571.6 1915.0,513.6 1917.0,182.6 1919.0,556.6 1921.0,571.6 1923.0,429.0 1925.0,571.6 1927.0,565.6 1929.0,512.2 1931.0,571.6 1933.0,504.6 1935.0,571.6 1937.0,356.2 1939.0,571.6 1941.0,234.5 1943.0,570.3 1945.0,571.6 1947.0,544.6 1949.0,511.9 1951.0,512.9 1953.0,571.6 1955.0,546.3 1957.0,554.9 1959.0,531.8 1961.0,571.6 1963.0,544.9 1965.0,571.6 1967.0,571.6 1969.0,571.6 1971.0,571.6 1973.0,420.3 1975.0,571.6 1977.0,536.0 1979.0,545.9 1981.0,565.0 1983.0,559.6 1985.0,571.6 1987.0,530.2 1989.0,571.6 1991.0,571.6 1993.0,234.5 1995.0,553.6 1997.0,502.8 1999.0,571.6 2001.0,571.6 2003.0,527.6 2005.0,517.1 2007.0,571.6 2009.0,515.9 2011.0,543.1 2013.0,571.6 2015.0,525.6 2017.0,515.6 2019.0,571.6 2021.0,571.6 2023.0,571.6 2025.0,571.6 2027.0,530.4 2029.0,512.5 2031.0,571.6 2033.0,543.3 2035.0,554.5 2037.0,549.9 2039.0,571.6 2041.0,571.6 2043.0,394.7 2045.0,517.1 2047.0,571.6 2049.0,529.6 2051.0,571.6 2053.0,451.9 2055.0,463.6 2057.0,571.6 2059.0,513.1 2061.0,385.7 2063.0,564.6 2065.0,571.6 2067.0,500.3 2069.0,531.1 2071.0,523.7 2073.0,571.6 2075.0,571.6 2077.0,571.6 2079.0,512.8 2081.0,571.6 2083.0,539.2 2085.0,526.2 2087.0,571.6 2089.0,571.6 2091.0,571.6 2093.0,571.6 2095.0,546.5 2097.0,571.6 2099.0,561.9 2101.0,514.2 2103.0,571.6 2105.0,571.6 2107.0,463.6 2109.0,562.3 2111.0,571.6 2113.0,528.9 2115.0,385.8 2117.0,523.8 2119.0,541.0 2121.0,548.9 2123.0,545.0 2125.0,571.6 2127.0,552.2 2129.0,393.3 2131.0,562.7" stroke="#cc7a00" stroke-width="2.6" fill="none" stroke-linejoin="round"/>
<path d="M1533.0,1405.0 1535.0,1370.0 1537.0,1487.4 1539.0,1511.6 1541.0,1510.7 1543.0,1404.6 1545.0,1317.5 1547.0,1468.6 1549.0,1391.4 1551.0,1460.4 1553.0,1374.8 1555.0,1530.3 1557.0,1396.1 1559.0,1518.8 1561.0,1489.3 1563.0,1413.0 1565.0,1449.9 1567.0,1438.8 1569.0,1400.4 1571.0,1421.6 1573.0,1338.0 1575.0,1385.4 1577.0,1489.4 1579.0,1438.8 1581.0,1469.8 1583.0,1460.4 1585.0,1318.9 1587.0,1484.5 1589.0,1351.7 1591.0,1336.6 1593.0,1281.9 1595.0,1433.2 1597.0,1417.0 1599.0,1414.3 1601.0,1457.2 1603.0,1318.7 1605.0,1306.6 1607.0,1562.0 1609.0,1454.2 1611.0,1356.4 1613.0,1500.5 1615.0,1478.6 1617.0,1431.7 1619.0,1434.7 1621.0,1445.8 1623.0,1443.0 1625.0,1316.5 1627.0,1562.0 1629.0,1467.1 1631.0,1508.4 1633.0,1418.8 1635.0,1463.2 1637.0,1403.0 1639.0,1433.7 1641.0,1284.4 1643.0,1519.8 1645.0,1465.7 1647.0,1377.3 1649.0,1459.1 1651.0,1424.5 1653.0,1534.1 1655.0,1388.0 1657.0,1442.8 1659.0,1397.8 1661.0,1494.5 1663.0,1470.6 1665.0,1491.0 1667.0,1326.8 1669.0,1549.5 1671.0,1407.3 1673.0,1418.4 1675.0,1352.4 1677.0,1417.0 1679.0,1502.6 1681.0,1402.0 1683.0,1548.4 1685.0,1366.6 1687.0,1442.7 1689.0,1484.2 1691.0,1468.3 1693.0,1397.5 1695.0,1545.1 1697.0,1324.1 1699.0,1482.0 1701.0,1336.3 1703.0,1424.7 1705.0,1310.2 1707.0,1515.4 1709.0,1378.3 1711.0,1439.8 1713.0,1477.3 1715.0,1380.7 1717.0,1451.3 1719.0,1484.1 1721.0,1450.2 1723.0,1487.0 1725.0,1450.6 1727.0,1438.9 1729.0,1365.2 1731.0,1442.2 1733.0,1486.8 1735.0,1386.5 1737.0,1460.3 1739.0,1500.0 1741.0,1515.6 1743.0,1320.9 1745.0,1443.6 1747.0,1330.6 1749.0,1500.9 1751.0,1506.2 1753.0,1323.8 1755.0,1453.4 1757.0,1449.2 1759.0,1451.6 1761.0,1504.4 1763.0,1165.5 1765.0,1516.4 1767.0,1386.8 1769.0,1507.4 1771.0,1281.9 1773.0,1389.4 1775.0,1364.0 1777.0,1548.2 1779.0,1413.8 1781.0,1478.5 1783.0,1494.1 1785.0,1492.2 1787.0,1382.5 1789.0,1434.2 1791.0,1469.6 1793.0,1476.6 1795.0,1479.2 1797.0,1472.4 1799.0,1455.3 1801.0,1512.4 1803.0,1496.7 1805.0,1562.0 1807.0,1439.3 1809.0,1399.4 1811.0,1469.5 1813.0,1346.0 1815.0,1487.2 1817.0,1434.8 1819.0,1360.9 1821.0,1420.8 1823.0,1488.9 1825.0,1413.2 1827.0,1463.0 1829.0,1363.5 1831.0,1386.3 1833.0,1451.2 1835.0,1402.1 1837.0,1322.8 1839.0,1362.4 1841.0,1379.9 1843.0,1448.3 1845.0,1474.7 1847.0,1485.6 1849.0,1368.9 1851.0,1506.9 1853.0,1409.6 1855.0,1331.5 1857.0,1540.2 1859.0,1413.0 1861.0,1501.1 1863.0,1444.5 1865.0,1402.1 1867.0,1500.7 1869.0,1522.4 1871.0,1462.5 1873.0,1422.3 1875.0,1461.8 1877.0,1498.6 1879.0,1391.3 1881.0,1509.6 1883.0,1530.4 1885.0,1429.3 1887.0,1295.3 1889.0,1469.1 1891.0,1441.9 1893.0,1503.0 1895.0,1476.0 1897.0,1510.1 1899.0,1418.1 1901.0,1480.5 1903.0,1487.8 1905.0,1375.2 1907.0,1531.3 1909.0,1375.4 1911.0,1448.1 1913.0,1496.0 1915.0,1437.9 1917.0,1454.1 1919.0,1415.3 1921.0,1450.2 1923.0,1312.8 1925.0,1367.0 1927.0,1362.6 1929.0,1514.7 1931.0,1458.4 1933.0,1358.0 1935.0,1396.5 1937.0,1434.2 1939.0,1441.0 1941.0,1281.9 1943.0,1560.0 1945.0,1491.8 1947.0,1525.7 1949.0,1359.8 1951.0,1525.4 1953.0,1452.7 1955.0,1346.5 1957.0,1454.7 1959.0,1416.1 1961.0,1432.8 1963.0,1390.2 1965.0,1290.7 1967.0,1511.3 1969.0,1438.0 1971.0,1326.2 1973.0,1281.9 1975.0,1448.6 1977.0,1208.6 1979.0,1390.4 1981.0,1393.0 1983.0,1527.2 1985.0,1540.8 1987.0,1425.2 1989.0,1442.3 1991.0,1440.7 1993.0,1511.5 1995.0,1339.6 1997.0,1446.2 1999.0,1281.9 2001.0,1449.3 2003.0,1409.7 2005.0,1384.6 2007.0,1187.1 2009.0,1499.7 2011.0,1470.9 2013.0,1432.9 2015.0,1466.8 2017.0,1303.5 2019.0,1467.7 2021.0,1383.0 2023.0,1380.4 2025.0,1421.2 2027.0,1503.6 2029.0,1281.9 2031.0,1371.4 2033.0,1422.0 2035.0,1431.7 2037.0,1562.0 2039.0,1504.6 2041.0,1445.3 2043.0,1420.8 2045.0,1384.0 2047.0,1453.1 2049.0,1421.7 2051.0,1500.3 2053.0,1392.1 2055.0,1385.9 2057.0,1440.5 2059.0,1369.8 2061.0,1452.7 2063.0,1465.2 2065.0,1452.3 2067.0,1302.8 2069.0,1538.8 2071.0,1420.2 2073.0,1456.0 2075.0,1425.8 2077.0,1529.4 2079.0,1385.0 2081.0,1389.9 2083.0,1450.1 2085.0,1460.8 2087.0,1428.6 2089.0,1370.3 2091.0,1532.4 2093.0,1341.0 2095.0,1452.9 2097.0,1377.7 2099.0,1281.9 2101.0,1304.1 2103.0,1414.4 2105.0,1316.0 2107.0,1471.4 2109.0,1473.3 2111.0,1357.3 2113.0,1384.6 2115.0,1408.2 2117.0,1349.8 2119.0,1402.6 2121.0,1452.4 2123.0,1553.7 2125.0,1562.0 2127.0,1387.9 2129.0,1392.9 2131.0,1488.9" stroke="#0000ff" stroke-width="2.6" fill="none" stroke-linejoin="round"/>
<path d="M1533.0,1260.3 1535.0,1368.0 1537.0,1389.6 1539.0,1325.0 1541.0,1281.9 1543.0,1247.4 1545.0,1346.5 1547.0,1411.1 1549.0,1347.7 1551.0,1296.4 1553.0,1389.4 1555.0,1396.0 1557.0,1382.1 1559.0,1273.0 1561.0,1355.5 1563.0,1361.3 1565.0,1395.6 1567.0,1340.5 1569.0,1298.8 1571.0,1356.1 1573.0,1407.8 1575.0,1298.0 1577.0,1367.0 1579.0,1273.8 1581.0,1420.4 1583.0,1373.5 1585.0,1352.1 1587.0,1456.5 1589.0,1360.9 1591.0,1334.2 1593.0,1372.5 1595.0,1343.2 1597.0,1356.8 1599.0,1409.8 1601.0,1328.8 1603.0,1405.1 1605.0,1382.0 1607.0,1404.6 1609.0,1333.5 1611.0,1390.9 1613.0,1391.2 1615.0,1475.8 1617.0,1381.2 1619.0,1315.4 1621.0,1474.6 1623.0,1348.0 1625.0,1369.1 1627.0,1456.7 1629.0,1388.6 1631.0,1318.2 1633.0,1367.6 1635.0,1349.1 1637.0,1310.0 1639.0,1383.8 1641.0,1322.5 1643.0,1431.3 1645.0,1411.5 1647.0,1292.4 1649.0,1297.2 1651.0,1318.7 1653.0,1444.1 1655.0,1378.4 1657.0,1412.4 1659.0,1268.0 1661.0,1435.9 1663.0,1432.0 1665.0,1397.1 1667.0,1349.5 1669.0,1396.2 1671.0,1381.7 1673.0,1350.9 1675.0,1364.6 1677.0,1462.5 1679.0,1430.5 1681.0,1282.1 1683.0,1363.5 1685.0,1272.4 1687.0,1290.8 1689.0,1308.7 1691.0,1362.1 1693.0,1286.5 1695.0,1388.5 1697.0,1250.3 1699.0,1334.6 1701.0,1334.0 1703.0,1384.2 1705.0,1393.3 1707.0,1376.5 1709.0,1390.1 1711.0,1408.0 1713.0,1418.5 1715.0,1353.0 1717.0,1301.8 1719.0,1262.2 1721.0,1323.3 1723.0,1367.7 1725.0,1330.6 1727.0,1274.5 1729.0,1354.9 1731.0,1310.0 1733.0,1341.6 1735.0,1354.5 1737.0,1390.3 1739.0,1324.6 1741.0,1403.6 1743.0,1412.5 1745.0,1343.5 1747.0,1311.3 1749.0,1313.7 1751.0,1317.9 1753.0,1376.8 1755.0,1367.9 1757.0,1303.7 1759.0,1255.6 1761.0,1475.8 1763.0,1299.3 1765.0,1350.0 1767.0,1364.2 1769.0,1399.3 1771.0,1394.0 1773.0,1423.3 1775.0,1348.1 1777.0,1411.8 1779.0,1371.5 1781.0,1439.1 1783.0,1301.2 1785.0,1327.6 1787.0,1422.2 1789.0,1339.0 1791.0,1382.8 1793.0,1407.3 1795.0,1359.1 1797.0,1319.7 1799.0,1285.5 1801.0,1349.1 1803.0,1302.9 1805.0,1328.1 1807.0,1328.2 1809.0,1312.7 1811.0,1432.7 1813.0,1383.4 1815.0,1286.4 1817.0,1431.8 1819.0,1406.4 1821.0,1266.6 1823.0,1415.9 1825.0,1357.2 1827.0,1349.9 1829.0,1378.8 1831.0,1316.1 1833.0,1319.6 1835.0,1399.9 1837.0,1274.6 1839.0,1406.5 1841.0,1387.5 1843.0,1372.1 1845.0,1354.6 1847.0,1421.9 1849.0,1353.0 1851.0,1475.8 1853.0,1391.7 1855.0,1412.8 1857.0,1403.1 1859.0,1371.6 1861.0,1355.3 1863.0,1406.2 1865.0,1366.9 1867.0,1445.5 1869.0,1388.0 1871.0,1321.2 1873.0,1404.2 1875.0,1385.1 1877.0,1370.5 1879.0,1328.1 1881.0,1350.6 1883.0,1378.1 1885.0,1420.7 1887.0,1357.5 1889.0,1475.8 1891.0,1348.5 1893.0,1408.2 1895.0,1337.3 1897.0,1373.3 1899.0,1301.6 1901.0,1402.8 1903.0,1471.1 1905.0,1369.1 1907.0,1395.3 1909.0,1375.4 1911.0,1310.1 1913.0,1416.4 1915.0,1336.3 1917.0,1325.5 1919.0,1316.1 1921.0,1472.1 1923.0,1363.0 1925.0,1405.8 1927.0,1382.4 1929.0,1412.0 1931.0,1387.2 1933.0,1322.8 1935.0,1283.3 1937.0,1335.1 1939.0,1433.0 1941.0,1307.1 1943.0,1433.3 1945.0,1389.6 1947.0,1313.1 1949.0,1400.3 1951.0,1334.0 1953.0,1383.9 1955.0,1429.0 1957.0,1359.6 1959.0,1397.6 1961.0,1281.0 1963.0,1276.9 1965.0,1290.6 1967.0,1422.0 1969.0,1273.8 1971.0,1354.3 1973.0,1344.3 1975.0,1360.1 1977.0,1397.8 1979.0,1363.4 1981.0,1325.1 1983.0,1291.1 1985.0,1340.9 1987.0,1369.1 1989.0,1394.1 1991.0,1385.9 1993.0,1287.1 1995.0,1334.8 1997.0,1358.1 1999.0,1453.6 2001.0,1459.8 2003.0,1335.4 2005.0,1337.7 2007.0,1312.9 2009.0,1359.7 2011.0,1403.2 2013.0,1457.1 2015.0,1416.8 2017.0,1475.8 2019.0,1354.7 2021.0,1345.8 2023.0,1299.7 2025.0,1463.2 2027.0,1442.2 2029.0,1338.7 2031.0,1353.3 2033.0,1472.7 2035.0,1406.5 2037.0,1365.4 2039.0,1390.2 2041.0,1351.3 2043.0,1368.8 2045.0,1399.2 2047.0,1350.9 2049.0,1374.5 2051.0,1311.1 2053.0,1444.8 2055.0,1382.5 2057.0,1405.5 2059.0,1383.2 2061.0,1349.9 2063.0,1337.6 2065.0,1475.8 2067.0,1311.2 2069.0,1343.0 2071.0,1343.8 2073.0,1367.1 2075.0,1322.0 2077.0,1349.5 2079.0,1463.0 2081.0,1404.9 2083.0,1383.8 2085.0,1389.4 2087.0,1393.8 2089.0,1339.5 2091.0,1428.2 2093.0,1409.3 2095.0,1421.9 2097.0,1372.3 2099.0,1348.2 2101.0,1417.4 2103.0,1350.8 2105.0,1399.0 2107.0,1298.4 2109.0,1475.8 2111.0,1371.7 2113.0,1311.9 2115.0,1389.8 2117.0,1427.9 2119.0,1415.6 2121.0,1342.3 2123.0,1398.9 2125.0,1316.2 2127.0,1368.0 2129.0,1399.1 2131.0,1393.1" stroke="#ff0000" stroke-width="2.6" fill="none" stroke-linejoin="round"/>
<path d="M1533.0,1385.5 1535.0,1456.9 1537.0,1433.4 1539.0,1344.3 1541.0,1583.5 1543.0,1402.8 1545.0,1386.6 1547.0,1454.8 1549.0,1420.7 1551.0,1545.7 1553.0,1421.9 1555.0,1375.9 1557.0,1362.0 1559.0,1502.8 1561.0,1359.3 1563.0,1407.3 1565.0,1372.5 1567.0,1440.1 1569.0,1376.0 1571.0,1417.5 1573.0,1238.8 1575.0,1465.6 1577.0,1328.1 1579.0,1438.9 1581.0,1579.8 1583.0,1243.1 1585.0,1320.1 1587.0,1364.9 1589.0,1362.3 1591.0,1514.9 1593.0,1408.1 1595.0,1569.5 1597.0,1267.1 1599.0,1289.0 1601.0,1536.7 1603.0,1474.7 1605.0,1555.4 1607.0,1509.1 1609.0,1479.8 1611.0,1549.8 1613.0,1481.8 1615.0,1376.5 1617.0,1465.0 1619.0,1368.8 1621.0,1453.9 1623.0,1428.1 1625.0,1559.0 1627.0,1349.0 1629.0,1546.9 1631.0,1472.6 1633.0,1561.2 1635.0,1389.7 1637.0,1538.6 1639.0,1383.4 1641.0,1252.9 1643.0,1405.1 1645.0,1583.5 1647.0,1342.8 1649.0,1420.9 1651.0,1378.7 1653.0,1397.7 1655.0,1325.8 1657.0,1339.5 1659.0,1442.5 1661.0,1556.0 1663.0,1444.8 1665.0,1362.8 1667.0,1583.5 1669.0,1422.0 1671.0,1583.5 1673.0,1328.9 1675.0,1258.2 1677.0,1351.7 1679.0,1476.4 1681.0,1360.0 1683.0,1307.4 1685.0,1274.7 1687.0,1299.0 1689.0,1330.3 1691.0,1529.8 1693.0,1444.8 1695.0,1389.8 1697.0,1430.7 1699.0,1583.5 1701.0,1451.6 1703.0,1503.5 1705.0,1415.4 1707.0,1402.4 1709.0,1573.6 1711.0,1508.4 1713.0,1420.5 1715.0,1536.4 1717.0,1439.3 1719.0,1517.0 1721.0,1504.3 1723.0,1352.1 1725.0,1449.3 1727.0,1489.8 1729.0,1289.7 1731.0,1467.3 1733.0,1440.0 1735.0,1435.4 1737.0,1238.8 1739.0,1376.3 1741.0,1354.3 1743.0,1472.4 1745.0,1355.9 1747.0,1328.8 1749.0,1549.3 1751.0,1395.1 1753.0,1278.7 1755.0,1261.8 1757.0,1412.8 1759.0,1238.8 1761.0,1501.5 1763.0,1335.3 1765.0,1384.1 1767.0,1536.4 1769.0,1338.5 1771.0,1557.7 1773.0,1497.9 1775.0,1444.1 1777.0,1550.5 1779.0,1322.4 1781.0,1478.3 1783.0,1554.0 1785.0,1410.1 1787.0,1435.8 1789.0,1539.4 1791.0,1487.2 1793.0,1349.0 1795.0,1355.6 1797.0,1583.5 1799.0,1341.3 1801.0,1340.6 1803.0,1323.8 1805.0,1479.8 1807.0,1507.7 1809.0,1443.1 1811.0,1212.9 1813.0,1458.1 1815.0,1491.3 1817.0,1461.0 1819.0,1481.0 1821.0,1430.1 1823.0,1417.9 1825.0,1458.4 1827.0,1486.0 1829.0,1279.9 1831.0,1344.2 1833.0,1386.7 1835.0,1517.9 1837.0,1373.3 1839.0,1449.1 1841.0,1376.5 1843.0,1411.5 1845.0,1238.8 1847.0,1432.1 1849.0,1530.9 1851.0,1330.2 1853.0,1323.7 1855.0,1305.7 1857.0,1583.5 1859.0,1524.7 1861.0,1513.4 1863.0,1583.5 1865.0,1423.6 1867.0,1372.9 1869.0,1332.8 1871.0,1349.0 1873.0,1434.5 1875.0,1287.9 1877.0,1413.2 1879.0,1583.5 1881.0,1468.9 1883.0,1511.2 1885.0,1406.6 1887.0,1480.3 1889.0,1471.2 1891.0,1308.0 1893.0,1513.6 1895.0,1573.1 1897.0,1417.8 1899.0,1379.5 1901.0,1453.0 1903.0,1442.9 1905.0,1499.3 1907.0,1570.1 1909.0,1516.2 1911.0,1545.8 1913.0,1325.1 1915.0,1468.2 1917.0,1307.9 1919.0,1457.0 1921.0,1532.0 1923.0,1425.9 1925.0,1424.7 1927.0,1316.1 1929.0,1583.5 1931.0,1485.0 1933.0,1405.3 1935.0,1516.8 1937.0,1432.8 1939.0,1472.4 1941.0,1306.3 1943.0,1322.7 1945.0,1583.5 1947.0,1583.5 1949.0,1520.6 1951.0,1450.7 1953.0,1459.1 1955.0,1493.4 1957.0,1385.5 1959.0,1359.7 1961.0,1434.0 1963.0,1472.0 1965.0,1439.7 1967.0,1523.3 1969.0,1363.8 1971.0,1362.9 1973.0,1532.4 1975.0,1302.7 1977.0,1447.7 1979.0,1363.5 1981.0,1443.1 1983.0,1460.2 1985.0,1374.2 1987.0,1536.8 1989.0,1466.4 1991.0,1557.6 1993.0,1395.2 1995.0,1464.8 1997.0,1473.5 1999.0,1493.5 2001.0,1380.5 2003.0,1417.0 2005.0,1463.8 2007.0,1487.2 2009.0,1270.6 2011.0,1298.0 2013.0,1550.4 2015.0,1326.1 2017.0,1391.5 2019.0,1412.5 2021.0,1401.0 2023.0,1573.5 2025.0,1238.8 2027.0,1244.4 2029.0,1437.7 2031.0,1440.5 2033.0,1427.0 2035.0,1506.0 2037.0,1389.7 2039.0,1445.4 2041.0,1545.6 2043.0,1489.8 2045.0,1505.2 2047.0,1501.4 2049.0,1475.9 2051.0,1383.4 2053.0,1484.2 2055.0,1583.5 2057.0,1305.9 2059.0,1500.7 2061.0,1305.7 2063.0,1421.0 2065.0,1187.1 2067.0,1525.4 2069.0,1435.2 2071.0,1481.1 2073.0,1450.1 2075.0,1399.1 2077.0,1481.8 2079.0,1364.7 2081.0,1580.4 2083.0,1547.8 2085.0,1402.8 2087.0,1394.0 2089.0,1341.5 2091.0,1288.9 2093.0,1400.8 2095.0,1371.1 2097.0,1419.0 2099.0,1152.6 2101.0,1452.1 2103.0,1431.6 2105.0,1496.0 2107.0,1457.0 2109.0,1365.9 2111.0,1394.5 2113.0,1332.3 2115.0,1487.2 2117.0,1476.4 2119.0,1401.0 2121.0,1524.1 2123.0,1528.1 2125.0,1251.7 2127.0,1471.7 2129.0,1256.0 2131.0,1434.8" stroke="#00ff00" stroke-width="2.6" fill="none" stroke-linejoin="round"/>
<path d="M1533.0,1532.8 1535.0,1551.4 1537.0,1483.3 1539.0,1522.3 1541.0,1547.0 1543.0,1565.7 1545.0,1558.1 1547.0,1532.6 1549.0,1482.8 1551.0,1548.3 1553.0,1511.7 1555.0,1514.0 1557.0,1583.5 1559.0,1559.7 1561.0,1496.4 1563.0,1583.5 1565.0,1487.1 1567.0,1521.1 1569.0,1572.8 1571.0,1464.9 1573.0,1525.6 1575.0,1473.6 1577.0,1515.4 1579.0,1544.7 1581.0,1487.6 1583.0,1467.2 1585.0,1482.9 1587.0,1558.1 1589.0,1502.9 1591.0,1557.8 1593.0,1540.2 1595.0,1480.8 1597.0,1565.6 1599.0,1445.8 1601.0,1569.2 1603.0,1561.8 1605.0,1499.1 1607.0,1528.4 1609.0,1526.6 1611.0,1550.7 1613.0,1499.7 1615.0,1515.3 1617.0,1524.8 1619.0,1547.1 1621.0,1568.2 1623.0,1522.6 1625.0,1583.5 1627.0,1542.4 1629.0,1503.0 1631.0,1501.2 1633.0,1534.9 1635.0,1583.5 1637.0,1505.4 1639.0,1495.1 1641.0,1520.5 1643.0,1482.9 1645.0,1490.6 1647.0,1573.6 1649.0,1529.1 1651.0,1537.2 1653.0,1473.9 1655.0,1489.1 1657.0,1518.6 1659.0,1504.6 1661.0,1494.9 1663.0,1543.7 1665.0,1527.6 1667.0,1525.0 1669.0,1534.9 1671.0,1532.1 1673.0,1514.9 1675.0,1561.8 1677.0,1557.4 1679.0,1498.0 1681.0,1475.2 1683.0,1464.6 1685.0,1576.2 1687.0,1510.6 1689.0,1547.9 1691.0,1538.8 1693.0,1529.1 1695.0,1510.0 1697.0,1505.0 1699.0,1583.5 1701.0,1540.9 1703.0,1489.1 1705.0,1518.5 1707.0,1572.1 1709.0,1552.7 1711.0,1547.2 1713.0,1491.5 1715.0,1468.6 1717.0,1556.3 1719.0,1507.0 1721.0,1531.5 1723.0,1505.1 1725.0,1529.9 1727.0,1557.3 1729.0,1542.8 1731.0,1543.0 1733.0,1478.2 1735.0,1546.1 1737.0,1505.9 1739.0,1548.9 1741.0,1543.6 1743.0,1516.1 1745.0,1540.7 1747.0,1462.8 1749.0,1482.6 1751.0,1557.9 1753.0,1507.3 1755.0,1476.8 1757.0,1560.2 1759.0,1535.6 1761.0,1477.6 1763.0,1548.5 1765.0,1503.7 1767.0,1525.6 1769.0,1517.7 1771.0,1555.0 1773.0,1525.3 1775.0,1536.5 1777.0,1469.1 1779.0,1503.5 1781.0,1519.8 1783.0,1523.8 1785.0,1502.1 1787.0,1572.4 1789.0,1554.1 1791.0,1551.6 1793.0,1547.9 1795.0,1573.9 1797.0,1507.5 1799.0,1537.9 1801.0,1484.9 1803.0,1527.1 1805.0,1534.8 1807.0,1509.9 1809.0,1510.1 1811.0,1532.2 1813.0,1505.7 1815.0,1484.8 1817.0,1537.3 1819.0,1483.7 1821.0,1529.4 1823.0,1496.9 1825.0,1524.8 1827.0,1535.3 1829.0,1514.3 1831.0,1557.8 1833.0,1538.1 1835.0,1490.2 1837.0,1496.5 1839.0,1523.4 1841.0,1424.0 1843.0,1476.5 1845.0,1511.2 1847.0,1473.2 1849.0,1472.4 1851.0,1500.9 1853.0,1496.4 1855.0,1545.9 1857.0,1482.1 1859.0,1431.2 1861.0,1453.9 1863.0,1457.1 1865.0,1506.9 1867.0,1522.0 1869.0,1461.9 1871.0,1479.8 1873.0,1495.0 1875.0,1498.6 1877.0,1460.1 1879.0,1469.7 1881.0,1503.3 1883.0,1492.5 1885.0,1540.0 1887.0,1525.0 1889.0,1471.6 1891.0,1503.1 1893.0,1515.5 1895.0,1480.7 1897.0,1450.4 1899.0,1514.7 1901.0,1498.9 1903.0,1496.9 1905.0,1414.3 1907.0,1457.8 1909.0,1480.8 1911.0,1532.5 1913.0,1368.0 1915.0,1471.5 1917.0,1494.9 1919.0,1511.9 1921.0,1502.7 1923.0,1539.4 1925.0,1500.8 1927.0,1503.0 1929.0,1516.7 1931.0,1498.9 1933.0,1537.2 1935.0,1454.5 1937.0,1494.0 1939.0,1525.2 1941.0,1465.7 1943.0,1247.4 1945.0,1504.4 1947.0,1529.4 1949.0,1491.2 1951.0,1475.0 1953.0,1469.7 1955.0,1461.1 1957.0,1463.2 1959.0,1534.2 1961.0,1485.6 1963.0,1546.3 1965.0,1459.8 1967.0,1476.9 1969.0,1460.3 1971.0,1488.2 1973.0,1489.5 1975.0,1505.9 1977.0,1573.9 1979.0,1495.5 1981.0,1411.0 1983.0,1450.3 1985.0,1496.0 1987.0,1479.3 1989.0,1475.6 1991.0,1506.9 1993.0,1489.2 1995.0,1478.7 1997.0,1504.3 1999.0,1475.1 2001.0,1451.6 2003.0,1463.7 2005.0,1480.6 2007.0,1247.4 2009.0,1466.8 2011.0,1505.1 2013.0,1508.1 2015.0,1450.1 2017.0,1499.9 2019.0,1529.8 2021.0,1462.8 2023.0,1466.8 2025.0,1454.5 2027.0,1491.6 2029.0,1453.7 2031.0,1492.4 2033.0,1519.0 2035.0,1493.8 2037.0,1480.7 2039.0,1521.3 2041.0,1493.8 2043.0,1480.6 2045.0,1501.0 2047.0,1485.7 2049.0,1488.9 2051.0,1512.4 2053.0,1477.8 2055.0,1470.5 2057.0,1548.6 2059.0,1508.3 2061.0,1463.0 2063.0,1474.0 2065.0,1544.9 2067.0,1480.4 2069.0,1445.1 2071.0,1460.9 2073.0,1464.0 2075.0,1490.5 2077.0,1484.7 2079.0,1521.7 2081.0,1486.4 2083.0,1417.3 2085.0,1487.5 2087.0,1514.6 2089.0,1470.9 2091.0,1548.2 2093.0,1417.9 2095.0,1467.8 2097.0,1494.5 2099.0,1497.5 2101.0,1513.9 2103.0,1482.8 2105.0,1485.2 2107.0,1533.2 2109.0,1456.1 2111.0,1497.0 2113.0,1519.1 2115.0,1457.8 2117.0,1463.5 2119.0,1503.3 2121.0,1505.7 2123.0,1452.9 2125.0,1497.9 2127.0,1479.8 2129.0,1444.5 2131.0,1522.4" stroke="#cc7a00" stroke-width="2.6" fill="none" stroke-linejoin="round"/>
<path d="M1533 1152.6V1583.5H2131" stroke="#000" stroke-width="4.2" fill="none" stroke-linecap="square"/>
<path d="M1533 1583.5h4.5M1533 1497.3h4.5M1533 1411.1h4.5M1533 1325.0h4.5M1533 1238.8h4.5M1533 1152.6h4.5M1631 1583.5v-4.5M1731 1583.5v-4.5M1831 1583.5v-4.5M1931 1583.5v-4.5M2031 1583.5v-4.5M2131 1583.5v-4.5" stroke="#000" stroke-width="3" fill="none"/>
<text x="1467" y="1592.7" font-size="46">0</text>
<text x="1447.5" y="1506.5" font-size="45.5">0.2</text>
<text x="1447.5" y="1420.3" font-size="45.5">0.4</text>
<text x="1447.5" y="1334.2" font-size="45.5">0.6</text>
<text x="1447.5" y="1248.0" font-size="45.5">0.8</text>
<text x="1469" y="1162.6" font-size="46">1</text>
<text x="1517.5" y="1633.5" font-size="46" text-anchor="middle">0</text>
<text x="1621" y="1633.5" font-size="46" text-anchor="middle">50</text>
<text x="1727.6" y="1633.5" font-size="46" text-anchor="middle">100</text>
<text x="1829" y="1633.5" font-size="46" text-anchor="middle">150</text>
<text x="1926.7" y="1633.5" font-size="46" text-anchor="middle">200</text>
<text x="2025.6" y="1633.5" font-size="46" text-anchor="middle">250</text>
<text x="2126.7" y="1633.5" font-size="46" text-anchor="middle">300</text>
<text x="1838" y="1704" font-size="45" font-weight="bold" text-anchor="middle">Time (s)</text>
<text transform="translate(1426 1368.0) rotate(-90)" font-size="45" font-weight="bold" text-anchor="middle">iFR/max iFR bin</text>
<text x="1588" y="738" font-size="45" font-weight="bold" text-anchor="middle">Path</text>
<path d="M1476.2 760.7V981.8M1483.3 760.7V981.8M1490.5 760.7V981.8M1497.6 760.7V981.8M1504.8 760.7V981.8M1511.9 760.7V981.8M1519.0 760.7V981.8M1526.2 760.7V981.8M1533.3 760.7V981.8M1540.5 760.7V981.8M1547.6 760.7V981.8M1554.7 760.7V981.8M1561.9 760.7V981.8M1569.0 760.7V981.8M1576.2 760.7V981.8M1583.3 760.7V981.8M1590.4 760.7V981.8M1597.6 760.7V981.8M1604.7 760.7V981.8M1611.8 760.7V981.8M1619.0 760.7V981.8M1626.1 760.7V981.8M1633.3 760.7V981.8M1640.4 760.7V981.8M1647.5 760.7V981.8M1654.7 760.7V981.8M1661.8 760.7V981.8M1669.0 760.7V981.8M1676.1 760.7V981.8M1683.2 760.7V981.8M1690.4 760.7V981.8M1697.5 760.7V981.8M1704.7 760.7V981.8M1711.8 760.7V981.8M1476.2 760.7H1711.8M1476.2 767.8H1711.8M1476.2 775.0H1711.8M1476.2 782.1H1711.8M1476.2 789.2H1711.8M1476.2 796.4H1711.8M1476.2 803.5H1711.8M1476.2 810.6H1711.8M1476.2 817.8H1711.8M1476.2 824.9H1711.8M1476.2 832.0H1711.8M1476.2 839.2H1711.8M1476.2 846.3H1711.8M1476.2 853.4H1711.8M1476.2 860.6H1711.8M1476.2 867.7H1711.8M1476.2 874.8H1711.8M1476.2 881.9H1711.8M1476.2 889.1H1711.8M1476.2 896.2H1711.8M1476.2 903.3H1711.8M1476.2 910.5H1711.8M1476.2 917.6H1711.8M1476.2 924.7H1711.8M1476.2 931.9H1711.8M1476.2 939.0H1711.8M1476.2 946.1H1711.8M1476.2 953.3H1711.8M1476.2 960.4H1711.8M1476.2 967.5H1711.8M1476.2 974.7H1711.8M1476.2 981.8H1711.8" stroke="#b4b4b4" stroke-width="1.1" fill="none"/>
<path d="M1553.4,804.0 1557.8,805.2 1556.9,805.1 1557.8,800.7 1556.7,805.1 1558.4,800.4 1556.8,799.1 1559.5,800.6 1554.8,802.9 1556.0,803.8 1555.3,804.5 1556.8,806.8 1556.3,801.2 1559.0,803.2 1556.9,802.3 1558.9,802.1 1561.7,802.4 1560.6,805.7 1561.4,807.3 1563.9,799.7 1564.4,806.6 1565.6,802.9 1563.8,804.6 1564.5,807.5 1566.5,800.7 1569.2,797.7 1568.2,800.4 1569.1,803.5 1572.0,801.7 1573.2,807.9 1573.1,805.5 1573.1,806.5 1577.4,801.5 1575.4,801.6 1572.1,803.0 1570.8,806.9 1571.6,804.9 1570.7,808.7 1569.6,809.3 1568.8,809.8 1566.6,813.6 1562.3,810.7 1562.8,806.1 1566.7,807.7 1563.8,808.3 1566.7,803.5 1569.8,804.9 1569.1,806.2 1569.0,807.9 1565.8,806.2 1571.3,806.7 1567.1,808.9 1566.5,810.5 1566.9,805.9 1567.8,808.8 1559.7,807.3 1565.1,804.5 1569.8,804.1 1568.5,810.2 1566.0,808.1 1567.9,808.1 1570.9,809.1 1572.5,810.4 1575.0,805.5 1580.2,807.5 1576.9,808.8 1578.2,807.9 1579.1,811.6 1585.6,809.6 1584.5,811.5 1581.4,807.8 1580.5,807.9 1582.4,810.8 1579.2,808.2 1582.0,802.0 1584.0,801.8 1588.2,800.0 1590.3,805.7 1591.1,801.3 1598.0,801.3 1597.5,807.6 1600.8,804.8 1604.2,804.3 1602.6,812.9 1603.3,808.0 1604.2,805.4 1606.6,804.6 1610.9,802.1 1611.2,802.3 1608.9,802.8 1609.3,803.4 1607.9,807.2 1606.9,804.8 1608.7,800.8 1610.6,800.6 1604.5,804.2 1607.9,801.3 1604.3,796.4 1603.3,797.6 1601.8,802.5 1600.0,801.3 1596.3,797.3 1596.5,799.0 1598.8,802.0 1598.7,800.4 1598.4,802.0 1599.1,802.8 1597.5,800.2 1598.9,801.0 1597.9,802.1 1598.9,801.9 1598.8,804.6 1598.3,804.8 1597.4,807.3 1592.0,802.1 1587.5,807.4 1589.5,808.1 1584.2,807.7 1581.6,807.0 1580.9,807.1 1580.2,808.1 1577.3,801.9 1577.7,807.1 1577.8,808.3 1576.7,809.1 1579.6,808.7 1575.7,814.1 1577.3,812.2 1573.9,807.2 1574.5,812.7 1574.8,808.8 1576.5,808.6 1579.9,809.4 1585.2,809.9 1588.4,805.2 1587.4,807.6 1591.7,805.2 1591.7,807.4 1589.4,807.6 1595.4,812.1 1600.5,810.2 1603.6,813.2 1600.0,813.1 1601.0,806.7 1595.3,809.7 1601.0,806.9 1601.0,804.9 1599.6,808.4 1595.2,807.4 1600.9,808.2 1599.8,809.0 1600.4,810.9 1603.3,804.9 1603.7,810.5 1608.0,802.2 1607.4,809.9 1606.6,807.3 1604.9,804.2 1608.1,805.2 1609.1,804.4 1609.5,801.8 1608.5,806.1 1606.3,804.3 1613.4,802.4 1609.6,800.8 1607.8,803.6 1610.0,800.3 1611.7,799.6 1609.1,797.5 1611.4,797.7 1614.1,794.7 1613.5,802.2 1613.6,804.5 1615.2,802.6 1613.9,800.7 1611.6,804.3 1614.8,807.0 1616.7,803.6 1615.5,802.4 1616.6,804.3 1620.8,805.9 1620.2,803.3 1620.2,808.0 1621.7,805.7 1621.4,803.1 1618.8,802.6 1622.5,801.0 1622.5,801.8 1622.4,803.2 1621.4,802.9 1621.2,802.2 1624.3,806.3 1627.4,801.7 1625.5,801.0 1629.1,807.5 1634.2,810.2 1635.4,816.2 1635.2,823.7 1633.9,827.5 1634.1,830.2 1636.2,832.9 1640.3,839.9 1637.0,845.2 1634.9,848.7 1638.6,853.4 1640.7,852.0 1645.8,857.6 1645.2,867.7 1646.6,867.1 1637.9,871.1 1642.7,871.4 1639.5,878.3 1642.8,887.5 1643.7,888.8 1649.3,899.1 1649.2,897.9 1652.9,897.1 1650.5,905.1 1654.0,906.2 1654.0,912.9 1655.7,912.1 1650.8,920.4 1653.6,924.5 1650.7,927.8 1652.7,931.7 1648.9,937.1 1651.1,936.1 1649.9,937.0 1654.2,939.0 1653.4,948.5 1662.2,943.2 1656.6,942.1 1653.4,944.0 1646.7,942.2 1641.1,944.8 1637.5,943.1 1631.6,951.3 1627.6,950.3 1622.6,952.0 1621.1,954.2 1613.6,953.3 1608.4,948.7 1606.6,949.9 1600.9,950.3 1595.7,947.4 1597.5,943.6 1593.2,947.0 1593.8,948.1 1588.0,949.7 1582.6,952.8 1582.7,949.0 1576.0,949.8 1580.0,950.6 1572.2,952.2 1573.8,948.9 1569.3,947.8 1571.3,947.1 1570.0,947.5 1570.8,945.3 1571.0,946.6 1568.8,945.3 1564.8,945.8 1564.5,946.4 1563.3,947.4 1560.7,944.1 1564.3,943.0 1559.7,943.5 1556.9,947.4 1547.9,950.2 1540.8,947.1 1545.3,951.4 1544.8,949.8 1545.3,946.8 1540.6,940.8 1538.6,940.9 1543.2,933.2 1536.9,933.1 1542.5,927.1 1539.5,920.8 1540.5,920.7 1541.4,918.8 1534.0,910.9 1538.5,917.8 1539.8,912.4 1538.5,914.1 1540.2,912.7 1547.1,912.0 1545.8,912.0 1545.3,906.4 1542.6,903.3 1538.0,900.9 1540.0,900.7 1533.0,897.2 1537.9,887.8 1539.2,886.8 1537.0,875.2 1535.0,872.5 1531.6,868.7 1531.3,862.9 1531.7,855.4 1528.7,849.9 1526.6,849.8 1533.1,839.7 1529.2,835.4 1527.0,824.0 1526.0,816.9 1531.9,813.3 1530.4,804.5 1526.8,802.3 1524.7,809.2 1528.0,809.8 1535.0,804.2 1536.9,806.1 1541.2,809.5 1545.4,808.3 1543.6,810.4 1547.1,805.9 1551.0,800.2 1555.1,805.7 1559.0,807.0 1560.8,805.6 1562.5,802.2 1563.6,807.2 1566.8,807.4 1570.3,809.8 1568.4,803.9 1572.1,805.0 1574.0,806.2 1574.4,807.5 1573.5,808.3 1578.8,806.0 1575.4,806.9 1574.9,810.4 1574.0,804.4 1574.0,807.2 1574.2,806.2 1572.5,806.9 1572.4,808.0 1571.7,803.6 1573.0,798.0 1568.8,797.7 1570.0,800.2 1575.2,797.9 1574.8,804.0 1576.3,807.6 1578.0,804.9 1581.8,799.9 1577.7,803.8 1574.0,817.3 1569.5,825.0 1574.1,819.3 1579.3,807.2 1579.9,806.6 1582.3,801.3 1582.4,804.7 1587.8,804.6 1590.2,811.3 1599.0,820.3 1599.0,829.4 1610.2,837.0 1599.9,833.0 1596.7,817.3 1589.1,809.0 1596.0,808.2 1597.0,810.2 1595.5,805.1 1595.6,805.6 1594.3,810.1 1598.6,806.3 1598.5,812.1 1600.7,805.9 1600.9,812.1 1599.7,810.9 1603.2,807.0 1603.2,802.2 1606.8,800.8 1606.8,797.7 1616.4,804.6 1618.8,815.9 1629.2,824.8 1622.1,818.7 1616.9,808.5 1608.3,798.9 1608.9,799.8 1607.6,802.8 1606.9,800.6 1607.3,804.2 1612.9,803.0 1609.3,803.5 1618.6,800.7 1620.1,799.4 1623.3,800.7 1621.4,800.6 1623.6,805.8 1631.1,802.7 1631.6,802.8 1620.2,804.1 1623.4,800.3 1620.7,801.9 1623.5,805.1 1624.2,800.1 1621.9,801.1 1625.5,800.6 1619.8,799.8 1621.6,802.3 1621.3,801.9 1625.1,805.9 1628.7,805.7 1624.8,808.9 1621.3,805.9 1620.2,807.6 1625.5,811.1 1623.7,810.6 1620.4,811.8 1621.1,814.5 1624.6,813.5 1623.2,812.8 1629.4,816.8 1625.3,809.7 1631.6,815.1 1627.5,816.1 1627.4,818.2 1623.4,822.1 1625.8,819.8 1625.8,817.7 1629.9,819.2 1635.3,815.7 1629.2,821.2 1633.4,819.7 1627.0,823.0 1628.3,820.0 1629.9,814.3 1627.0,813.6 1630.2,808.7 1625.9,811.1 1628.8,811.7 1625.3,811.7 1630.2,809.1 1631.2,815.1 1626.9,823.5 1628.8,823.0 1630.5,825.5 1629.0,835.0 1631.7,832.7 1627.8,836.3 1626.7,845.7 1630.1,842.5 1629.6,846.3 1630.9,849.3 1634.7,848.2 1635.9,848.5 1629.4,847.4 1635.6,846.0 1631.9,846.0 1636.9,848.0 1634.8,850.5 1636.1,851.8 1630.0,846.8 1627.7,845.4 1620.8,841.0 1602.4,839.4 1594.4,842.8 1603.7,838.5 1613.9,846.2 1625.0,849.8 1632.8,847.3 1628.6,843.9 1628.1,842.4 1633.0,845.4 1631.3,848.4 1632.2,851.3 1632.4,848.8 1634.6,848.7 1631.3,852.4 1637.5,856.5 1638.9,856.4 1638.5,859.0 1644.6,854.9 1642.4,861.4 1641.7,866.1 1643.8,866.6 1641.7,869.5 1646.5,876.5 1640.0,879.0 1642.6,879.0 1643.2,874.4 1640.2,878.7 1638.8,878.9 1639.8,878.7 1643.9,876.5 1639.1,872.0 1641.5,871.2 1641.7,869.4 1644.0,866.5 1642.5,867.2 1641.3,868.5 1642.3,868.5 1643.8,867.4 1646.3,865.5 1645.4,863.7 1644.8,865.3 1645.9,866.4 1647.1,868.5 1644.9,869.5 1641.1,870.4 1641.5,875.9 1645.3,875.6 1643.0,879.8 1642.5,879.9 1643.8,881.6 1641.9,889.1 1644.6,888.2 1642.5,892.2 1638.4,900.6 1631.3,908.9 1625.1,917.4 1622.3,913.9 1635.8,897.6 1641.9,889.6 1638.7,897.8 1640.8,902.8 1651.0,910.5 1656.6,914.0 1650.6,921.6 1647.9,923.8 1650.6,925.3 1653.8,930.5 1657.0,933.1 1653.0,935.2 1654.0,933.6 1653.4,933.6 1653.4,935.7 1651.9,937.5 1655.4,936.6 1652.1,937.2 1652.7,934.4 1648.0,938.4 1649.6,935.5 1654.5,942.2 1655.1,943.9 1655.1,943.6 1654.7,941.3 1655.7,944.2 1657.8,945.9 1657.0,947.9 1658.8,948.1 1658.6,942.9 1656.6,939.4 1650.3,939.9 1646.9,938.7 1642.9,935.7 1635.5,942.1 1631.3,942.0 1626.5,951.7 1618.1,945.3 1615.1,946.7 1613.2,949.8 1608.2,951.0 1610.3,945.0 1606.3,950.3 1603.2,950.2 1604.9,948.1 1598.9,953.8 1595.4,954.2 1594.5,948.9 1594.7,951.2 1593.0,947.3 1592.0,945.3 1593.8,949.8 1588.4,949.4 1590.2,948.3 1593.3,950.9 1590.1,949.9 1593.6,949.5 1587.8,947.8 1588.4,951.5 1587.4,951.5 1582.8,947.1 1587.6,951.8 1588.2,948.4 1582.9,941.6 1586.5,947.0 1585.0,947.9 1582.0,949.8 1585.3,950.9 1584.0,952.9 1585.3,950.7 1589.0,949.3 1586.5,951.4 1590.2,950.4 1588.4,952.1 1585.5,946.8 1587.3,950.0 1585.4,954.4 1583.3,952.0 1580.0,952.4 1574.7,948.7 1580.6,947.7 1585.1,949.7 1582.4,946.6 1584.2,946.7 1584.8,952.0 1581.1,952.5 1583.2,953.0 1578.2,954.6 1578.1,950.2 1576.7,946.3 1570.8,950.2 1564.4,950.9 1567.6,950.6 1562.5,951.4 1565.5,948.3 1565.9,943.2 1563.3,942.3 1556.6,946.1 1555.6,950.8 1559.1,945.7 1556.7,951.9 1562.8,950.6 1559.9,949.1 1558.7,952.9 1561.6,952.9 1562.4,952.4 1560.6,958.0 1560.8,950.4 1558.8,952.3 1555.4,951.4 1554.4,949.2 1555.7,952.5 1552.4,952.1 1549.2,958.0 1546.2,956.6 1546.4,953.9 1546.0,953.0 1540.8,950.1 1552.5,956.3 1557.8,955.1 1555.2,960.1 1554.8,950.5 1554.1,952.6 1556.0,955.4 1553.4,955.0 1550.5,953.1 1549.0,948.5 1549.8,950.6 1545.2,949.5 1545.1,943.8 1543.6,940.0 1545.7,935.0 1546.3,931.3 1545.4,929.3 1547.9,927.8 1543.1,924.7 1547.6,921.4 1548.3,924.5 1544.1,919.6 1549.3,918.7 1546.8,916.3 1549.1,910.0 1550.3,909.6 1548.8,906.4 1548.4,901.9 1546.2,895.6 1541.8,888.7 1538.4,884.3 1542.0,878.3 1540.6,878.9 1535.2,874.8 1537.6,874.1 1538.8,875.4 1538.7,872.6 1532.1,866.2 1532.9,869.4 1538.8,865.3 1536.8,866.6 1537.8,861.7 1530.2,860.0 1535.3,856.1 1537.6,857.0 1533.0,857.7 1537.7,856.3 1532.6,860.5 1534.0,861.9 1535.3,863.9 1538.0,865.8 1532.7,865.2 1533.3,870.1 1533.0,870.2 1535.3,866.8 1537.8,872.5 1538.2,865.5 1540.8,869.7 1535.8,867.7 1537.4,870.7 1536.4,865.7 1532.1,864.7 1536.3,861.2 1534.7,860.4 1543.5,868.5 1554.8,880.4 1559.9,893.8 1558.7,882.3 1544.6,871.7 1529.3,859.4 1536.3,857.5 1538.6,857.4 1536.1,853.9 1536.3,850.6 1529.1,854.7 1529.9,856.5 1531.2,856.8 1534.3,859.1 1534.5,855.1 1534.2,859.0 1533.1,860.3 1534.7,861.3 1539.5,859.0 1536.9,853.9 1539.2,851.7 1538.3,850.8 1531.7,854.3 1534.3,853.3 1533.6,850.9 1540.0,848.6 1535.1,846.3 1533.5,849.0 1537.7,852.7 1531.8,854.9 1536.5,850.9 1537.7,857.1 1536.8,856.7 1534.8,855.5 1535.3,859.0 1534.2,859.5 1533.2,864.6 1533.0,858.4 1535.4,859.7 1533.7,858.3 1531.9,854.4 1528.9,857.1 1532.2,850.3 1535.5,849.0 1531.0,849.0 1530.9,847.0 1530.5,845.5 1527.6,847.1 1526.0,850.8 1528.9,858.3 1526.6,857.7 1527.7,857.6 1530.6,854.5 1532.5,855.0 1531.1,850.4 1534.9,847.5 1534.2,845.4 1529.8,843.3 1527.8,835.4 1534.2,825.7 1529.3,814.8 1534.8,812.5 1527.1,812.8 1531.7,809.0 1528.2,809.0 1528.0,809.1 1533.7,806.9 1535.5,807.6 1533.8,803.9 1530.5,804.8 1531.3,799.5 1529.4,801.4 1531.8,800.6 1528.7,803.7 1532.1,804.1 1529.8,812.3 1524.7,811.4 1525.9,817.2 1521.8,816.6 1525.0,817.5 1518.8,819.6 1519.6,821.5 1521.9,820.0 1521.4,821.6 1520.2,816.5 1523.2,812.2 1524.4,815.2 1525.6,812.2 1522.2,811.8 1522.1,807.7 1524.1,807.7 1529.4,805.8 1521.7,803.9 1521.5,810.9 1521.0,813.4 1519.9,806.6 1526.3,812.2 1525.9,811.1 1528.2,809.1 1530.6,814.7 1530.1,811.1 1533.0,813.5 1533.4,807.4 1541.4,804.5 1542.8,804.5 1544.9,812.7 1549.3,808.8 1551.4,806.2 1549.7,807.8 1555.9,807.6 1555.4,806.1 1556.0,798.3 1559.0,805.2 1562.2,807.6 1566.5,807.9 1566.0,810.9 1568.1,805.0 1568.0,799.9 1566.1,804.8 1567.5,804.4 1571.4,806.5 1570.3,806.1 1575.3,805.6 1575.4,809.8 1574.8,803.7 1577.8,804.7 1576.0,801.9 1578.4,804.1 1575.6,804.2 1574.3,801.7 1580.9,805.6 1577.3,803.7 1579.7,803.9 1576.9,803.9 1584.1,801.2 1580.5,804.8 1582.1,804.9 1584.8,804.3 1587.2,808.9 1579.6,808.3 1577.8,809.8 1580.5,809.8 1582.7,812.3 1581.8,812.9 1584.6,808.8 1583.0,808.9 1582.5,811.7 1585.4,810.9 1586.0,806.6 1587.6,811.5 1586.5,815.0 1588.2,817.4 1588.7,812.9 1591.6,807.0 1593.0,810.1 1592.7,809.0 1592.7,806.3 1597.6,809.2 1595.6,810.8 1599.7,807.4 1598.4,812.2 1601.8,809.4 1606.5,817.2 1610.1,810.3 1609.5,809.3 1614.8,807.8 1618.1,803.3 1617.9,804.5 1625.2,809.1 1627.4,808.1 1628.0,809.4 1615.2,799.9 1616.9,804.0 1620.1,800.5 1618.4,797.1 1624.9,803.3 1623.2,800.9 1629.1,813.0 1628.2,832.4 1629.4,843.5 1625.1,833.1 1627.3,815.9 1623.3,804.7 1625.7,799.9 1624.8,795.6 1623.5,799.9 1623.7,803.5 1623.0,798.8 1625.5,800.5 1623.9,801.2 1627.4,802.2 1628.9,802.1 1627.9,805.5 1621.7,801.8 1625.0,803.0 1621.8,806.0 1625.5,809.9 1624.8,810.7 1627.8,812.9 1626.5,813.1 1625.6,814.4 1624.8,813.1 1626.5,809.7 1626.8,811.7 1625.7,809.9 1628.5,811.2 1621.2,810.0 1626.6,809.7 1628.0,810.2 1623.9,814.6 1623.5,819.4 1627.4,820.1 1630.0,821.7 1631.8,824.1 1629.3,821.2 1627.7,819.5 1628.7,824.5 1628.5,822.8 1630.2,823.9 1629.5,828.9 1627.2,830.0 1631.3,836.1 1633.7,830.0 1633.2,832.6 1633.4,834.7 1634.2,838.4 1638.0,838.6 1638.9,845.5 1635.8,849.6 1637.5,848.9 1631.8,847.0 1639.5,849.8 1633.2,856.3 1640.3,850.8 1636.8,849.1 1633.0,853.3 1628.4,846.9 1635.5,843.7 1631.9,850.2 1629.0,844.8 1630.9,848.5 1629.9,854.0 1638.3,854.7 1633.6,855.0 1629.7,854.8 1632.3,854.0 1629.0,850.4 1633.6,847.9 1628.3,849.6 1631.0,845.3 1632.5,849.0 1629.4,850.5 1629.3,856.2 1626.4,851.3 1632.4,853.9 1630.5,856.8 1635.0,858.4 1637.4,861.1 1639.0,859.7 1638.4,860.5 1632.5,867.8 1634.3,871.8 1634.4,876.0 1637.4,881.3 1633.7,883.1 1638.2,889.4 1640.9,890.6 1646.5,891.3 1641.8,890.6 1639.6,890.1 1642.9,891.8 1641.3,893.5 1643.1,892.9 1644.0,892.3 1646.5,894.7 1644.0,893.6 1648.5,898.8 1648.8,900.7 1648.0,896.0 1652.7,900.4 1651.9,901.6 1647.8,903.2 1646.5,910.6 1644.4,908.0 1641.5,913.5 1647.5,915.9 1649.0,919.3 1650.5,916.2 1644.9,925.5 1647.8,925.0 1652.2,930.6 1653.4,935.2 1659.2,937.1 1661.4,936.3 1660.8,944.8 1661.6,945.6 1657.2,945.0 1654.1,945.1 1656.4,949.4 1652.4,948.1 1649.2,938.0 1646.6,946.2 1649.9,942.4 1643.2,942.6 1643.0,942.6 1636.8,946.4 1636.9,939.2 1634.5,938.2 1623.7,936.8 1629.2,940.7 1623.6,938.0 1623.3,941.7 1618.6,944.1 1616.5,941.9 1610.7,947.7 1610.6,945.8 1607.3,946.4 1607.5,941.6 1603.5,942.5 1605.5,945.6 1611.7,947.1 1612.8,948.9 1613.2,952.1 1613.2,952.4 1612.1,954.7 1607.1,952.8 1605.7,953.1 1605.1,951.1 1597.2,951.6 1598.9,949.8 1595.8,950.4 1594.8,945.8 1592.6,948.8 1588.2,948.8 1587.6,949.8 1585.8,948.5 1584.8,946.1 1579.8,948.8 1580.6,947.0 1573.1,941.9 1573.8,939.3 1568.7,944.4 1566.0,942.4 1561.9,945.2 1556.5,950.7 1557.8,951.7 1550.9,946.9 1549.2,949.2 1544.5,955.8 1547.0,957.2 1548.5,953.8 1545.9,944.7 1550.0,940.3 1548.7,935.6 1541.8,928.6 1544.1,923.4 1544.3,920.4 1543.1,911.0 1542.1,907.2 1539.7,906.7 1543.7,905.0 1543.4,898.0 1543.9,893.3 1538.1,898.0 1543.8,892.9 1540.1,885.7 1541.6,881.6 1537.2,880.4 1536.3,873.6 1537.3,874.2 1533.3,869.1 1532.4,861.9 1533.5,855.0 1532.8,853.5 1533.8,843.9 1530.3,837.4 1529.9,832.1 1539.4,825.0 1548.1,818.0 1548.1,818.5 1537.7,830.3 1524.6,839.4 1528.8,837.7 1527.4,828.1 1528.2,824.7 1531.6,825.5 1536.5,813.2 1546.3,794.8 1552.4,781.5 1544.5,796.2 1541.8,813.4 1531.0,826.1 1528.3,824.5 1529.2,820.9 1526.2,814.1 1532.8,811.5 1526.7,806.8 1521.9,808.8 1528.4,809.3 1526.7,809.5 1531.3,805.8 1529.9,807.9 1533.7,810.9 1536.2,807.1 1534.1,808.2 1537.1,809.0 1536.2,808.9 1534.9,811.9 1540.9,810.6 1537.3,812.2 1536.6,808.7 1536.1,804.3 1540.9,807.5 1538.9,802.5 1546.0,807.4 1543.8,808.2 1545.7,806.0 1548.5,812.9 1543.6,809.2 1549.2,812.6 1548.6,815.0 1550.7,815.3 1547.5,816.4 1548.9,814.2 1546.2,808.9 1548.3,810.4 1545.4,808.8 1546.6,806.7 1546.8,811.8 1546.1,806.8 1550.2,802.0 1551.3,808.5 1551.4,806.6 1553.9,810.4 1551.9,807.4 1559.0,808.6 1559.3,804.9 1568.8,810.8 1577.3,829.8 1586.7,841.9 1588.2,830.3 1566.2,818.7 1558.4,804.0 1557.6,806.6 1559.5,809.5 1561.0,811.3 1559.0,808.8 1557.1,809.7 1555.0,808.4 1560.4,807.5 1564.1,807.8 1561.4,810.8 1567.3,808.9 1567.1,805.8 1562.4,810.5 1561.4,811.8 1562.9,809.6 1562.0,808.9 1565.1,805.5 1558.4,802.6 1559.1,802.5 1558.8,798.3 1556.2,801.7 1554.3,801.0 1556.8,803.0 1559.7,805.6 1560.5,809.5 1561.3,804.8 1557.8,805.9 1562.7,807.5 1558.1,808.7 1563.3,806.3 1565.7,808.2 1560.2,812.1 1566.7,819.5 1575.2,827.4 1581.1,836.7 1574.1,828.8 1565.8,815.9 1558.2,810.6 1557.8,812.4 1555.4,806.9 1557.5,814.3 1559.2,812.0 1557.8,811.1 1555.5,812.4 1557.3,808.2 1561.3,813.0 1563.9,814.4 1564.8,811.8 1566.0,816.0 1569.0,811.7 1569.6,813.2 1573.6,814.9 1573.9,811.0 1577.4,808.8 1577.7,809.5 1582.3,802.1 1584.3,808.7 1583.3,807.2 1591.6,802.7 1592.5,813.2 1592.2,824.3 1594.7,840.8 1601.1,832.2 1598.7,817.4 1591.4,798.8 1588.4,803.6 1589.2,799.4 1594.4,804.0 1587.7,812.7 1580.2,818.8 1571.0,827.1 1581.0,819.6 1585.6,812.0 1592.8,800.9 1598.5,808.5 1599.9,811.0 1602.4,810.0 1603.0,802.7 1603.6,802.7 1603.6,804.4 1605.0,806.0 1602.4,806.1 1602.9,806.5 1597.8,809.5 1602.8,809.5 1609.0,809.2 1604.6,811.1 1610.0,811.4 1611.5,808.8 1614.1,808.1 1610.7,804.4 1614.0,806.3 1615.5,802.2 1615.0,809.4 1615.2,809.1 1616.2,806.8 1617.7,812.2 1618.2,808.3 1617.0,810.3 1621.0,804.1 1620.3,804.7 1620.5,805.9 1616.5,804.0 1627.5,803.5 1625.0,803.6 1626.9,799.7 1629.0,803.6 1626.0,805.3 1628.4,805.9 1629.7,805.9 1628.1,811.1 1630.1,808.9 1629.2,810.3 1626.0,808.0 1621.6,801.7 1622.1,805.9 1622.1,804.5 1625.9,814.9 1621.5,817.0 1626.8,821.3 1628.6,829.2 1631.0,828.9 1625.0,839.9 1631.1,840.0 1629.4,844.3 1632.1,847.1 1633.6,845.3 1630.4,847.5 1635.2,851.4 1630.4,856.5 1632.0,850.1 1634.3,851.3 1629.0,850.8 1629.3,853.9 1628.8,852.0 1627.2,850.3 1632.4,848.8 1628.8,853.9 1623.2,851.4 1628.5,853.5 1624.7,854.0 1627.8,852.5 1627.4,850.6 1628.8,852.8 1625.8,852.0 1635.0,848.5 1632.5,850.7 1632.7,851.6 1631.3,855.8 1632.9,851.4 1634.8,852.9 1637.8,853.9 1634.6,855.7 1637.6,858.7 1637.6,857.7 1635.9,854.4 1638.8,855.3 1638.6,852.6 1639.2,851.6 1632.6,849.5 1632.6,845.6 1636.4,841.0 1632.9,843.8 1630.9,848.0 1634.3,847.1 1633.8,849.5 1630.1,846.0 1635.5,847.7 1635.7,848.5 1631.6,851.0 1638.3,850.6 1636.0,855.6 1633.7,854.8 1632.1,857.9 1632.5,858.6 1636.7,863.4 1632.6,869.2 1635.5,866.8 1634.7,871.5 1640.6,875.1 1639.7,879.7 1645.8,877.4 1641.1,880.9 1647.2,878.0 1643.2,879.3 1648.2,877.9 1639.7,880.8 1642.6,880.6 1638.7,880.5 1637.2,884.5 1639.2,885.5 1641.0,890.0 1646.3,889.6 1642.7,894.6 1644.0,896.5 1644.9,900.9 1645.8,903.6 1645.3,905.9 1644.5,911.8 1650.5,913.1 1649.6,919.7 1651.7,920.8 1652.5,924.9 1651.9,932.3 1650.2,933.0 1652.6,936.7 1654.4,940.9 1658.9,942.8 1654.3,947.0 1654.1,948.2 1656.7,948.6 1663.6,943.4 1658.1,944.6 1655.6,950.1 1659.0,947.2 1653.8,946.1 1650.1,945.8 1650.1,939.5 1651.2,937.2 1649.7,935.8 1649.6,931.3 1648.6,934.4 1647.9,935.1 1653.3,933.1 1652.9,938.3 1649.2,940.7 1656.9,951.5 1655.0,948.5 1660.1,941.6 1656.1,942.1 1652.4,935.8 1648.9,946.2 1645.5,940.1 1639.4,941.9 1639.5,947.4 1637.7,947.8 1639.1,946.8 1638.1,944.6 1638.5,942.1 1638.8,941.1 1637.2,941.8 1632.1,947.6 1632.1,946.1 1628.7,947.1 1627.4,949.1 1619.5,949.1 1616.7,948.8 1615.7,945.1 1607.4,948.7 1606.4,948.3 1601.4,946.2 1602.0,946.1 1601.8,949.3 1604.1,950.7 1605.5,945.9 1609.3,949.7 1612.0,946.9 1614.0,948.2 1614.8,945.9 1620.2,948.2 1616.7,941.8 1614.0,946.6 1611.6,943.3 1612.7,949.7 1608.5,946.7 1607.9,947.2 1608.4,955.6 1606.7,948.7 1606.8,945.3 1609.3,943.2 1606.6,948.0 1603.5,951.9 1603.9,951.1 1606.5,947.7 1604.0,950.9 1599.9,955.0 1600.3,940.6 1596.3,927.4 1592.5,917.8 1589.6,928.2 1595.9,940.1 1600.0,951.7 1603.6,949.9 1599.7,946.7 1599.5,950.8 1593.3,952.4 1593.9,953.8 1596.0,949.4 1593.3,947.9 1593.3,949.1 1588.2,945.9 1587.7,948.8 1588.3,951.1 1588.9,946.7 1586.4,950.1 1585.9,954.9 1583.8,948.3 1582.2,951.3 1586.6,948.6 1583.2,945.7 1581.9,950.3 1578.9,951.1 1576.2,948.0 1575.1,947.0 1571.4,947.7 1568.1,945.0 1567.8,948.0 1563.1,948.1 1561.3,953.3 1555.4,953.6 1556.6,952.3 1551.1,954.7 1550.3,957.2 1548.6,954.6 1546.3,956.3 1546.9,961.6 1564.5,953.7 1575.3,946.2 1598.4,937.9 1585.0,943.2 1561.9,951.1 1546.7,962.7 1545.4,957.3 1541.3,953.0 1538.7,950.1 1542.4,947.4 1539.5,940.6 1540.2,934.3 1534.3,931.1 1535.4,927.7 1535.8,921.8 1534.2,921.3 1539.7,915.7 1540.6,908.7 1540.6,903.0 1540.9,904.0 1541.8,902.6 1543.4,900.7 1540.3,893.2 1534.9,891.5 1538.4,893.7 1537.7,890.3 1536.1,891.4 1540.8,889.4 1538.6,880.7 1536.1,879.0 1537.8,876.6 1538.1,877.8 1543.5,874.7 1539.2,876.4 1538.9,878.7 1538.8,878.5 1536.7,880.4 1540.3,884.3 1535.6,882.4 1538.2,882.3 1535.3,889.9 1536.3,887.9 1539.7,889.6 1537.8,889.1 1540.3,894.5 1534.9,892.4 1544.3,902.8 1556.0,910.9 1569.1,921.6 1559.2,919.1 1540.0,904.0 1535.6,892.8 1534.4,896.5 1535.1,898.4 1534.3,894.6 1533.4,900.5 1537.3,899.0 1540.8,899.0 1538.1,890.2 1536.7,889.6 1536.9,890.2 1532.8,889.4 1534.8,885.5 1535.4,883.7 1535.2,880.9 1535.5,883.4 1535.0,885.3 1532.7,887.9 1533.0,879.9 1531.3,875.1 1528.2,873.6 1530.3,874.7 1527.6,875.3 1530.7,876.2 1534.1,875.9 1531.3,875.0 1530.3,875.6 1531.8,873.4 1534.3,877.3 1537.0,877.6 1535.5,876.2 1545.4,878.3 1550.2,882.6 1560.9,889.5 1558.3,884.7 1543.8,876.1 1534.6,876.0 1536.8,877.7 1534.6,880.1 1538.6,882.5 1537.8,877.9 1538.0,878.0 1536.1,876.3 1535.2,873.6 1534.2,870.1 1535.6,872.1 1534.0,864.8 1533.2,863.1 1532.1,859.2 1531.0,856.8 1535.7,852.7 1535.1,849.8 1536.8,850.1 1533.7,852.1 1534.7,851.1 1533.3,843.8 1532.3,845.2 1529.5,841.9 1527.3,839.1 1526.3,836.6 1529.8,837.7 1526.9,836.1 1529.1,837.0 1533.6,833.1 1530.4,832.8 1532.1,832.9 1531.6,832.8 1527.6,833.0 1529.0,831.6 1531.0,829.8 1529.0,829.6 1529.8,829.1 1531.1,830.1 1528.9,828.1 1532.4,824.8 1534.5,821.4 1531.3,814.8 1527.7,815.6 1528.4,811.3 1527.1,805.3 1519.7,808.7 1529.9,809.6 1534.2,808.9 1535.3,809.2 1543.0,809.0 1551.9,807.9 1554.9,808.0 1554.0,811.9 1563.0,812.3 1562.5,812.6 1569.5,809.6 1572.0,808.4 1576.0,811.4 1579.3,804.7 1586.9,809.5 1586.2,803.5" stroke="#111" stroke-width="0.9" fill="none" stroke-linejoin="round"/>
<text x="1588" y="1743" font-size="45" font-weight="bold" text-anchor="middle">Path</text>
<path d="M1472.5 1762.5V1981.2M1479.8 1762.5V1981.2M1487.1 1762.5V1981.2M1494.4 1762.5V1981.2M1501.7 1762.5V1981.2M1509.0 1762.5V1981.2M1516.3 1762.5V1981.2M1523.6 1762.5V1981.2M1530.9 1762.5V1981.2M1538.3 1762.5V1981.2M1545.6 1762.5V1981.2M1552.9 1762.5V1981.2M1560.2 1762.5V1981.2M1567.5 1762.5V1981.2M1574.8 1762.5V1981.2M1582.1 1762.5V1981.2M1589.4 1762.5V1981.2M1596.7 1762.5V1981.2M1604.0 1762.5V1981.2M1611.3 1762.5V1981.2M1618.6 1762.5V1981.2M1625.9 1762.5V1981.2M1633.2 1762.5V1981.2M1640.5 1762.5V1981.2M1647.8 1762.5V1981.2M1655.2 1762.5V1981.2M1662.5 1762.5V1981.2M1669.8 1762.5V1981.2M1677.1 1762.5V1981.2M1684.4 1762.5V1981.2M1691.7 1762.5V1981.2M1699.0 1762.5V1981.2M1706.3 1762.5V1981.2M1713.6 1762.5V1981.2M1472.5 1762.5H1713.6M1472.5 1769.6H1713.6M1472.5 1776.6H1713.6M1472.5 1783.7H1713.6M1472.5 1790.7H1713.6M1472.5 1797.8H1713.6M1472.5 1804.8H1713.6M1472.5 1811.9H1713.6M1472.5 1818.9H1713.6M1472.5 1826.0H1713.6M1472.5 1833.0H1713.6M1472.5 1840.1H1713.6M1472.5 1847.2H1713.6M1472.5 1854.2H1713.6M1472.5 1861.3H1713.6M1472.5 1868.3H1713.6M1472.5 1875.4H1713.6M1472.5 1882.4H1713.6M1472.5 1889.5H1713.6M1472.5 1896.5H1713.6M1472.5 1903.6H1713.6M1472.5 1910.7H1713.6M1472.5 1917.7H1713.6M1472.5 1924.8H1713.6M1472.5 1931.8H1713.6M1472.5 1938.9H1713.6M1472.5 1945.9H1713.6M1472.5 1953.0H1713.6M1472.5 1960.0H1713.6M1472.5 1967.1H1713.6M1472.5 1974.1H1713.6M1472.5 1981.2H1713.6" stroke="#b4b4b4" stroke-width="1.1" fill="none"/>
<path d="M1562.6,1862.5 1563.2,1862.8 1563.0,1864.5 1565.8,1865.1 1566.9,1864.4 1568.9,1863.1 1571.2,1860.1 1572.9,1856.3 1571.6,1852.5 1566.7,1849.9 1562.1,1846.5 1560.1,1843.6 1560.5,1841.3 1561.1,1840.5 1558.2,1838.8 1552.0,1838.1 1545.8,1841.1 1542.7,1844.3 1537.6,1848.1 1530.3,1851.6 1526.1,1854.3 1526.0,1859.3 1530.7,1866.2 1531.0,1872.5 1531.5,1874.1 1529.5,1875.9 1526.0,1875.8 1530.2,1878.5 1529.7,1878.3 1533.4,1878.4 1537.0,1877.7 1538.2,1877.4 1539.1,1876.0 1538.9,1877.0 1535.9,1880.0 1538.8,1881.4 1537.9,1884.5 1535.8,1884.5 1532.8,1882.9 1531.5,1883.4 1533.1,1882.0 1529.9,1877.1 1526.9,1874.2 1528.2,1873.3 1529.5,1870.6 1529.7,1865.7 1530.2,1862.4 1526.8,1859.5 1527.3,1858.6 1526.7,1862.1 1530.8,1868.9 1535.0,1874.2 1539.5,1877.7 1539.6,1879.1 1540.2,1878.4 1542.7,1877.8 1544.8,1875.7 1545.3,1874.4 1547.0,1870.0 1546.6,1864.7 1545.2,1861.3 1542.0,1856.8 1540.0,1850.8 1535.5,1850.5 1533.7,1851.5 1533.5,1854.3 1534.3,1858.2 1536.0,1860.4 1535.5,1863.4 1533.1,1865.9 1533.9,1866.2 1533.9,1865.6 1529.1,1865.3 1526.0,1861.4 1527.5,1860.1 1529.1,1861.4 1526.5,1862.3 1526.0,1863.3 1526.2,1860.4 1526.5,1857.3 1531.0,1853.9 1536.7,1853.1 1540.2,1854.0 1544.6,1853.1 1550.6,1853.2 1558.2,1850.4 1563.3,1845.8 1567.3,1840.1 1568.8,1832.0 1569.9,1828.2 1570.3,1827.1 1572.7,1827.1 1575.1,1825.3 1579.4,1825.4 1582.6,1824.9 1582.5,1825.8 1584.6,1825.8 1584.8,1825.5 1583.4,1827.9 1582.0,1829.8 1578.1,1829.7 1580.4,1828.2 1580.5,1827.3 1579.4,1825.3 1583.0,1826.9 1583.7,1826.5 1582.3,1830.6 1581.8,1834.2 1580.7,1839.6 1577.7,1846.2 1574.1,1848.8 1568.9,1844.3 1565.3,1840.5 1562.6,1838.6 1559.3,1838.4 1560.0,1841.5 1554.8,1844.7 1552.4,1846.6 1546.6,1848.7 1542.7,1850.9 1540.2,1852.1 1539.0,1851.5 1541.6,1850.4 1543.7,1848.2 1544.9,1846.9 1542.4,1844.5 1543.6,1837.5 1542.7,1833.6 1542.4,1834.4 1542.5,1835.8 1543.3,1836.4 1543.2,1836.4 1542.5,1835.3 1543.6,1837.4 1543.6,1837.9 1545.2,1838.5 1545.5,1835.9 1542.6,1831.3 1539.8,1824.5 1542.1,1816.9 1541.7,1814.0 1537.7,1821.6 1532.8,1826.7 1528.4,1832.6 1526.0,1837.2 1531.8,1839.4 1536.6,1840.1 1542.0,1844.3 1544.8,1848.4 1546.1,1848.6 1548.0,1848.8 1543.1,1850.3 1537.5,1852.6 1529.8,1855.9 1526.0,1857.6 1526.1,1858.5 1526.0,1860.9 1526.0,1861.8 1528.5,1859.3 1528.4,1857.8 1527.4,1858.9 1526.0,1856.4 1528.7,1853.5 1528.1,1848.9 1528.3,1846.0 1529.8,1845.6 1533.0,1844.5 1535.9,1843.5 1534.8,1845.8 1533.3,1844.2 1534.8,1845.2 1532.1,1844.1 1527.8,1845.7 1526.0,1847.6 1526.1,1846.8 1526.8,1847.4 1526.0,1846.3 1526.0,1844.1 1529.2,1844.9 1530.7,1847.6 1532.3,1852.2 1531.7,1855.1 1532.1,1857.0 1528.6,1856.0 1526.0,1852.0 1527.1,1848.4 1528.3,1849.4 1531.2,1847.8 1533.3,1849.6 1533.0,1852.6 1533.5,1856.6 1537.1,1855.6 1538.1,1848.8 1546.3,1842.7 1554.5,1837.9 1566.0,1831.9 1576.5,1825.0 1589.7,1818.6 1600.3,1814.4 1609.2,1814.0 1619.0,1817.8 1622.9,1823.6 1626.4,1825.8 1626.4,1831.5 1626.4,1835.4 1623.7,1838.3 1623.3,1841.6 1624.0,1843.2 1624.6,1843.0 1626.3,1847.9 1628.4,1854.5 1626.4,1856.3 1630.7,1858.2 1633.4,1853.8 1637.8,1851.0 1643.3,1845.6 1650.3,1840.1 1656.9,1834.0 1658.4,1831.8 1658.1,1828.6 1653.3,1826.3 1651.1,1822.3 1648.7,1817.6 1650.4,1814.6 1651.4,1814.0 1655.3,1817.6 1658.4,1820.8 1662.1,1822.7 1669.5,1825.6 1670.0,1828.2 1664.5,1828.4 1660.8,1828.7 1656.5,1828.1 1651.5,1826.8 1646.5,1829.7 1642.6,1829.0 1640.8,1830.4 1639.7,1834.4 1636.7,1840.6 1633.4,1844.5 1633.4,1843.2 1633.3,1842.1 1630.2,1843.3 1627.4,1842.9 1627.5,1843.5 1625.7,1843.0 1625.1,1843.3 1624.5,1844.0 1628.0,1842.8 1633.7,1842.6 1636.6,1839.1 1641.3,1834.8 1642.1,1830.5 1642.6,1829.4 1640.7,1824.9 1636.9,1819.2 1632.9,1814.0 1628.5,1817.4 1628.2,1818.0 1626.1,1821.6 1623.2,1824.6 1618.6,1826.4 1620.6,1832.2 1622.2,1838.0 1624.4,1839.3 1624.7,1839.7 1626.9,1840.7 1630.2,1841.2 1630.8,1835.7 1636.1,1833.1 1641.9,1832.7 1644.8,1832.9 1645.3,1830.9 1647.7,1831.4 1650.3,1837.7 1654.2,1846.7 1657.1,1855.2 1659.5,1861.8 1658.0,1868.5 1652.8,1872.4 1646.7,1874.5 1644.6,1872.1 1644.2,1873.0 1644.4,1873.2 1643.9,1873.4 1641.2,1878.5 1638.0,1882.7 1635.2,1886.7 1628.3,1889.3 1622.5,1888.5 1617.0,1890.8 1612.7,1895.4 1604.0,1897.3 1599.8,1903.1 1601.6,1910.1 1602.8,1919.7 1601.8,1925.8 1601.4,1928.9 1601.1,1927.6 1597.8,1927.6 1595.7,1924.7 1593.4,1921.4 1586.2,1914.6 1579.0,1905.6 1575.6,1898.7 1572.8,1891.4 1572.4,1884.6 1574.9,1879.8 1578.7,1876.5 1580.0,1874.8 1580.4,1873.0 1583.0,1872.3 1586.1,1871.6 1590.5,1870.7 1595.5,1868.2 1594.8,1865.0 1591.1,1857.4 1587.3,1851.5 1583.7,1847.5 1580.8,1843.0 1578.6,1836.1 1574.3,1832.3 1571.7,1824.8 1568.0,1818.4 1566.0,1814.0 1562.3,1817.7 1559.4,1825.2 1557.5,1827.9 1557.2,1830.7 1557.8,1832.3 1551.0,1838.0 1546.1,1837.6 1545.9,1830.5 1547.8,1825.4 1549.1,1826.8 1547.0,1828.0 1545.7,1830.8 1542.3,1835.4 1543.6,1837.0 1542.2,1837.1 1542.6,1833.4 1543.2,1830.4 1546.6,1826.7 1551.3,1819.2 1556.2,1816.1 1558.8,1814.0 1557.1,1818.1 1556.7,1824.0 1559.3,1830.3 1558.8,1836.7 1557.2,1843.0 1554.6,1847.0 1554.0,1855.2 1554.1,1861.0 1553.5,1865.2 1556.4,1870.3 1556.7,1872.1 1557.0,1873.1 1558.9,1874.8 1558.8,1874.9 1555.6,1875.0 1553.1,1873.4 1551.3,1873.7 1549.3,1871.4 1548.4,1871.2 1545.2,1870.8 1545.1,1871.1 1544.3,1872.5 1545.2,1879.4 1548.7,1886.6 1552.7,1893.0 1556.5,1898.4 1558.4,1901.3 1558.3,1904.3 1557.2,1902.4 1557.1,1900.8 1560.5,1896.8 1564.6,1892.8 1570.4,1888.0 1574.8,1881.2 1577.1,1880.4 1583.5,1879.6 1590.1,1881.1 1597.3,1886.2 1602.1,1887.9 1605.0,1891.5 1607.7,1894.0 1609.1,1897.3 1612.0,1897.0 1612.8,1896.5 1611.0,1896.3 1615.2,1895.8 1617.1,1893.7 1617.9,1893.6 1618.5,1891.5 1619.6,1891.9 1618.9,1894.7 1619.1,1898.9 1616.0,1899.5 1611.5,1898.5 1610.3,1898.0 1611.3,1902.7 1610.9,1906.7 1612.7,1909.8 1615.8,1913.7 1617.2,1917.1 1619.4,1921.3 1620.6,1921.3 1624.4,1925.7 1626.9,1931.7 1629.2,1937.3 1631.7,1939.0 1632.9,1938.7 1631.6,1938.8 1629.5,1939.3 1629.5,1937.5 1628.6,1933.8 1627.4,1929.1 1626.1,1925.0 1629.1,1920.0 1629.3,1916.2 1631.5,1910.5 1636.3,1905.6 1637.2,1896.8 1640.0,1890.2 1641.9,1886.4 1644.7,1884.0 1642.1,1885.7 1642.0,1890.0 1641.0,1891.8 1639.5,1894.1 1639.5,1896.5 1637.2,1894.9 1636.5,1894.2 1634.9,1894.0 1629.0,1896.2 1623.8,1897.6 1616.5,1901.8 1613.0,1908.0 1603.9,1913.4 1600.3,1916.1 1598.9,1914.2 1597.0,1916.5 1599.6,1918.2 1606.8,1917.4 1615.8,1915.8 1624.5,1914.9 1628.1,1913.6 1631.6,1915.0 1635.2,1919.8 1640.5,1925.9 1646.3,1930.8 1647.4,1929.4 1643.9,1927.7 1638.1,1927.3 1632.7,1922.6 1626.5,1917.7 1617.4,1911.7 1611.1,1907.7 1605.9,1902.2 1599.2,1893.6 1593.7,1883.6 1587.0,1872.9 1582.1,1867.8 1580.3,1866.1 1574.0,1866.1 1573.5,1868.6 1575.7,1867.4 1575.4,1869.7 1567.1,1873.5 1562.1,1874.4 1561.2,1877.2 1561.8,1879.3 1562.3,1882.9 1560.2,1884.0 1559.3,1888.9 1555.9,1894.5 1555.4,1900.1 1557.5,1903.2 1555.2,1907.7 1555.8,1915.4 1553.4,1919.1 1552.9,1922.7 1553.2,1926.8 1556.9,1929.6 1555.1,1928.8 1551.1,1928.7 1547.1,1927.7 1544.6,1925.9 1543.5,1925.5 1542.9,1925.7 1542.4,1927.7 1541.0,1928.1 1540.2,1927.2 1542.4,1926.3 1544.6,1927.7 1546.5,1934.5 1549.9,1939.7 1549.6,1941.3 1551.1,1941.2 1551.1,1940.5 1547.8,1939.5 1543.3,1937.1 1540.6,1934.3 1536.6,1930.6 1535.2,1928.7 1535.2,1927.8 1536.4,1925.8 1539.0,1924.2 1541.1,1922.3 1543.3,1916.3 1541.7,1910.7 1540.0,1905.2 1538.4,1900.1 1540.8,1897.8 1539.9,1897.3 1540.5,1894.4 1537.3,1894.9 1531.3,1894.5 1529.9,1890.5 1526.7,1885.4 1529.0,1882.3 1530.2,1881.7 1529.3,1884.6 1528.4,1887.8 1527.5,1890.7 1528.5,1895.1 1530.2,1899.5 1531.7,1905.8 1531.0,1912.9 1529.3,1918.2 1527.3,1922.9 1526.1,1925.2 1526.0,1925.1 1526.0,1920.7 1526.6,1916.6 1526.0,1919.4 1526.4,1917.5 1530.4,1915.6 1532.6,1917.5 1531.6,1919.9 1532.5,1921.2 1537.5,1918.7 1542.1,1909.6 1550.3,1898.7 1554.7,1887.5 1558.9,1877.2 1562.1,1868.1 1565.6,1863.7 1569.8,1857.6 1571.8,1848.2 1575.8,1837.9 1579.7,1826.3 1587.4,1815.5 1594.8,1814.0 1599.9,1817.6 1606.9,1820.8 1609.9,1822.9 1610.3,1827.7 1610.9,1832.1 1611.8,1838.8 1610.0,1845.2 1609.2,1851.3 1609.9,1855.4 1612.2,1857.8 1617.1,1855.2 1620.6,1849.8 1622.6,1846.7 1624.0,1842.4 1622.8,1840.8 1623.1,1838.4 1622.1,1831.6 1624.7,1826.6 1628.8,1820.8 1629.2,1818.9 1627.5,1817.7 1631.2,1814.0 1635.3,1815.0 1638.7,1816.9 1641.9,1816.5 1644.3,1815.0 1649.4,1816.0 1651.2,1815.5 1653.8,1814.0 1655.4,1815.0 1658.9,1816.7 1657.3,1816.1 1657.6,1814.6 1657.6,1814.0 1654.5,1814.0 1652.7,1817.8 1650.3,1817.5 1649.0,1816.3 1644.8,1816.5 1645.3,1818.8 1648.1,1819.3 1649.8,1816.5 1650.0,1815.7 1645.7,1814.9 1638.4,1814.0 1630.5,1814.3 1622.2,1814.9 1614.1,1815.1 1608.6,1816.0 1605.0,1818.4 1601.2,1821.0 1601.2,1821.0 1605.3,1821.1 1611.8,1820.7 1616.4,1822.5 1619.1,1823.2 1622.4,1824.4 1623.7,1825.6 1625.3,1831.7 1626.6,1837.0 1628.8,1836.2 1630.7,1839.6 1635.9,1841.0 1639.0,1841.5 1641.5,1843.4 1642.5,1843.4 1642.9,1845.6 1639.7,1846.3 1639.8,1848.7 1638.5,1849.8 1636.4,1850.9 1630.6,1847.9 1629.6,1850.6 1625.9,1846.4 1626.2,1839.1 1625.9,1833.4 1627.4,1831.3 1630.7,1833.8 1631.1,1836.1 1632.2,1839.7 1635.5,1840.2 1639.0,1840.8 1644.1,1839.4 1644.2,1840.0 1645.6,1841.0 1648.6,1840.2 1650.3,1838.1 1651.4,1832.4 1652.7,1824.4 1653.5,1819.2 1652.2,1814.0 1651.9,1823.5 1651.3,1830.9 1652.0,1834.6 1649.6,1836.0 1647.9,1840.7 1643.6,1846.1 1638.6,1851.2 1630.6,1851.5 1622.1,1848.1 1614.7,1848.4 1610.5,1851.3 1607.3,1855.5 1604.4,1857.4 1602.7,1856.8 1598.6,1856.0 1597.1,1855.4 1598.6,1848.5 1592.5,1843.6 1588.7,1840.8 1589.0,1839.7 1585.8,1839.9 1581.7,1840.7 1576.3,1844.1 1569.4,1847.1 1564.2,1848.3 1559.0,1845.4 1552.8,1842.8 1548.5,1847.0 1543.8,1850.0 1540.1,1848.9 1535.6,1847.5 1531.3,1845.4 1528.3,1844.5 1526.3,1841.4 1529.3,1840.3 1529.7,1839.5 1527.3,1840.2 1526.0,1837.3 1529.3,1836.4 1530.9,1838.5 1533.0,1840.4 1538.1,1837.4 1541.8,1831.8 1545.6,1828.3 1549.2,1828.6 1555.6,1831.0 1562.8,1831.5 1568.7,1833.3 1574.8,1835.1 1577.8,1835.7 1581.1,1835.3 1583.0,1834.1 1578.7,1834.3 1575.4,1835.4 1577.8,1836.8 1574.9,1839.5 1571.6,1842.1 1568.2,1842.2 1566.2,1842.2 1565.0,1842.1 1563.1,1842.8 1560.3,1843.1 1559.1,1844.8 1558.9,1847.3 1558.1,1851.5 1558.4,1861.4 1561.9,1864.3 1567.7,1869.2 1568.6,1869.0 1568.0,1868.3 1568.1,1868.5 1564.2,1871.3 1561.6,1875.4 1559.0,1876.4 1557.0,1875.7 1557.2,1873.3 1556.9,1869.3 1558.5,1863.9 1562.5,1857.5 1565.4,1850.0 1563.4,1845.5 1563.0,1843.2 1563.8,1844.1 1566.2,1844.0 1568.3,1840.7 1567.4,1838.2 1567.4,1837.6 1570.1,1838.0 1565.1,1837.8 1559.2,1839.2 1558.7,1842.8 1558.4,1842.5 1558.5,1840.9 1557.5,1838.6 1563.3,1838.9 1567.0,1838.5 1568.2,1839.3 1569.6,1839.9 1567.0,1840.3 1562.3,1839.2 1559.3,1841.0 1557.0,1839.5 1555.9,1841.2 1552.2,1841.3 1546.4,1846.4 1541.4,1848.8 1542.7,1849.3 1546.3,1847.0 1551.6,1843.7 1551.9,1839.8 1550.0,1834.3 1552.3,1831.1 1553.9,1830.1 1550.5,1830.4 1549.7,1827.9 1547.7,1822.8 1544.9,1820.5 1545.1,1821.8 1546.6,1819.7 1547.8,1816.6 1548.7,1814.0 1546.5,1816.0 1546.2,1820.9 1544.4,1828.4 1543.4,1828.7 1542.9,1827.9 1542.6,1828.3 1539.8,1827.5 1537.2,1828.0 1537.6,1825.8 1538.3,1828.1 1539.4,1828.2 1540.9,1827.2 1541.8,1828.2 1544.2,1828.4 1548.9,1828.0 1557.3,1829.5 1561.7,1830.5 1565.5,1829.6 1568.1,1827.2 1568.7,1827.6 1569.1,1824.6 1565.2,1823.3 1561.6,1824.4 1561.1,1823.3 1563.6,1820.2 1563.5,1818.5 1557.2,1819.3 1550.0,1822.4 1547.1,1826.3 1547.3,1831.1 1543.6,1833.5 1540.3,1839.4 1540.1,1842.2 1538.5,1846.0 1539.5,1845.4 1544.4,1845.3 1553.6,1845.2 1564.6,1841.3 1571.7,1837.1 1578.7,1834.6 1585.5,1836.3 1593.2,1839.5 1597.3,1843.3 1603.1,1842.0 1605.3,1841.3 1604.6,1839.8 1601.9,1834.7 1601.5,1830.7 1605.3,1828.4 1608.3,1826.3 1611.7,1824.6 1615.9,1823.1 1619.5,1825.7 1619.4,1827.7 1618.8,1831.5 1620.3,1834.4 1623.1,1833.5 1623.2,1837.0 1624.5,1840.1 1624.2,1844.4 1628.0,1848.0 1630.4,1850.4 1635.8,1857.2 1640.3,1863.4 1642.1,1866.3 1644.8,1867.9 1646.8,1869.1 1648.5,1871.4 1650.4,1871.8 1649.5,1869.7 1650.3,1868.8 1651.4,1862.1 1651.9,1857.8 1651.2,1856.7 1651.6,1854.9 1655.0,1852.1 1656.3,1850.8 1655.7,1845.4 1651.5,1840.5 1646.2,1835.9 1642.9,1831.4 1643.0,1826.8 1643.1,1825.9 1643.2,1830.0 1643.7,1833.4 1646.2,1836.8 1649.6,1841.4 1652.9,1843.5 1653.5,1843.4 1653.7,1842.9 1653.8,1842.8 1651.8,1842.4 1653.3,1840.4 1654.4,1840.5 1653.7,1844.0 1652.8,1849.3 1648.8,1852.8 1650.0,1860.8 1651.7,1868.2 1652.1,1875.0 1646.5,1876.3 1644.3,1871.8 1642.9,1860.9 1644.5,1846.7 1645.3,1840.1 1645.5,1836.3 1646.3,1834.3 1648.1,1833.7 1649.5,1833.7 1652.2,1833.9 1657.6,1838.7 1659.1,1845.1 1666.3,1849.7 1668.2,1853.2 1670.0,1854.7 1669.9,1855.4 1668.9,1859.1 1667.9,1859.9 1666.6,1862.5 1664.1,1865.9 1659.7,1869.8 1655.2,1870.1 1651.2,1869.6 1645.5,1870.1 1643.5,1870.1 1644.8,1869.5 1646.2,1866.8 1647.2,1864.1 1645.3,1864.2 1647.8,1864.8 1648.1,1866.3 1648.4,1867.5 1648.7,1867.8 1651.2,1870.5 1653.1,1871.3 1658.1,1870.8 1664.5,1866.8 1668.1,1863.1 1669.5,1863.6 1670.0,1865.6 1669.6,1867.0 1669.3,1868.5 1669.2,1865.0 1666.7,1864.5 1665.6,1861.3 1664.3,1856.3 1659.8,1853.6 1655.0,1851.1 1651.9,1845.0 1649.0,1836.1 1643.8,1829.0 1639.8,1821.3 1637.9,1814.0 1638.0,1816.3 1635.1,1817.5 1629.9,1814.3 1624.7,1814.0 1620.7,1814.7 1617.0,1816.1 1615.2,1816.9 1614.3,1820.9 1611.0,1831.5 1606.2,1837.1 1606.0,1842.0 1608.2,1846.5 1609.2,1852.5 1606.5,1859.1 1602.4,1867.0 1599.7,1873.1 1597.3,1873.3 1596.9,1874.1 1591.7,1878.5 1586.9,1881.4 1585.7,1881.7 1583.5,1882.3 1581.0,1884.3 1579.2,1884.1 1580.8,1883.2 1582.1,1880.3 1585.0,1880.6 1586.7,1885.0 1590.6,1891.4 1596.0,1897.3 1603.3,1902.1 1609.3,1904.3 1608.4,1909.1 1608.4,1912.5 1608.1,1914.3 1606.1,1917.5 1601.8,1923.6 1601.9,1926.9 1603.3,1929.3 1600.5,1928.2 1601.7,1925.4 1602.7,1922.4 1601.5,1915.9 1598.7,1909.3 1595.0,1904.1 1589.8,1900.5 1588.7,1894.7 1589.3,1887.1 1589.8,1879.9 1592.2,1875.3 1593.6,1871.7 1597.1,1871.0 1602.6,1867.3 1600.9,1866.8 1599.1,1868.3 1595.9,1869.0 1589.8,1870.4 1585.7,1871.8 1583.1,1872.8 1582.6,1873.0 1582.4,1875.7 1582.3,1878.3 1584.6,1880.9 1590.5,1884.5 1591.1,1888.3 1591.9,1890.2 1594.7,1888.7 1595.7,1884.5 1595.6,1882.3 1598.0,1883.0 1596.7,1886.0 1595.4,1887.1 1599.3,1886.8 1602.1,1887.0 1599.5,1885.5 1595.4,1882.0 1591.2,1879.1 1586.7,1877.7 1580.3,1875.8 1577.4,1870.9 1574.3,1867.9 1570.3,1864.1 1569.1,1860.5 1566.9,1859.0 1564.5,1857.6 1562.7,1854.9 1562.2,1853.6 1559.9,1851.8 1560.9,1854.3 1565.5,1855.8 1566.0,1857.7 1566.8,1860.4 1565.0,1862.5 1564.1,1865.6 1563.1,1871.7 1562.5,1874.0 1563.2,1877.4 1563.5,1880.0 1564.2,1880.8 1567.1,1881.5 1568.4,1882.4 1565.4,1879.9 1563.8,1874.1 1560.7,1869.0 1557.7,1870.0 1554.6,1874.2 1555.9,1881.5 1560.1,1882.7 1564.5,1883.9 1566.9,1886.9 1570.2,1890.7 1574.8,1893.6 1578.6,1895.4 1581.9,1896.4 1583.0,1897.7 1582.2,1898.9 1583.3,1897.3 1584.0,1893.4 1582.7,1888.5 1580.7,1879.8 1577.1,1872.4 1572.6,1866.9 1568.7,1864.1 1566.5,1862.3 1562.0,1863.1 1558.2,1866.4 1555.1,1870.4 1552.2,1869.8 1548.9,1870.3 1547.5,1874.4 1547.0,1881.0 1547.0,1887.0 1544.7,1889.0 1542.1,1889.9 1538.7,1893.8 1537.1,1895.8 1540.3,1899.0 1544.6,1898.4 1546.7,1897.9 1553.1,1897.4 1557.1,1894.4 1559.7,1895.2 1561.7,1895.8 1557.0,1898.4 1551.8,1894.7 1549.0,1898.1 1545.2,1902.3 1541.0,1905.5 1539.1,1910.1 1539.7,1915.3 1542.0,1917.1 1544.0,1921.9 1547.3,1926.3 1552.3,1929.2 1554.0,1926.9 1553.6,1924.5 1554.9,1923.7 1551.7,1922.3 1546.5,1916.3 1544.1,1911.2 1545.0,1908.5 1547.2,1910.0 1548.2,1912.3 1549.1,1913.0 1549.1,1914.2 1550.3,1915.1 1551.9,1914.6 1549.2,1914.5 1544.4,1913.5 1540.7,1910.8 1539.0,1909.1 1542.4,1908.0 1544.0,1905.8 1545.1,1906.1 1544.2,1905.3 1541.4,1906.6 1541.0,1908.2 1541.5,1909.3 1544.5,1911.7 1545.9,1912.7 1547.4,1911.8 1549.2,1909.0 1546.2,1910.3 1540.1,1906.4 1536.1,1905.0 1533.4,1900.9 1531.3,1897.8 1529.2,1894.0 1526.0,1891.9 1531.5,1886.5 1535.6,1882.5 1537.0,1876.7 1537.8,1874.7 1537.6,1873.2 1539.9,1873.0 1539.4,1875.0 1536.4,1877.8 1536.1,1876.5 1533.7,1874.2 1531.8,1867.1 1528.0,1864.0 1526.0,1864.0 1531.1,1862.0 1534.5,1855.9 1535.0,1851.2 1533.7,1846.6 1533.0,1842.4 1529.8,1840.8 1526.4,1842.1 1526.0,1841.7 1526.0,1842.1 1527.0,1840.1 1526.5,1840.0 1526.0,1840.9 1527.6,1846.2 1531.8,1848.8 1532.2,1851.3 1528.1,1850.1 1526.5,1852.1 1526.0,1854.0 1530.2,1854.3 1531.2,1857.1 1530.4,1858.1 1530.8,1859.0 1530.2,1857.0 1531.9,1854.6 1530.9,1854.6 1531.6,1856.5 1532.5,1858.2 1533.2,1857.2 1532.7,1859.4 1533.1,1861.2 1532.4,1860.2 1534.4,1860.3 1536.0,1863.9 1539.6,1864.2 1539.3,1864.2 1539.9,1862.6 1541.3,1864.0 1542.0,1865.6 1541.6,1868.8 1539.1,1872.5 1538.8,1871.4 1539.2,1870.8 1539.2,1869.4 1541.0,1864.7 1541.6,1861.3 1538.8,1859.8 1535.1,1857.4 1531.0,1854.4 1527.6,1848.1 1526.0,1844.9 1534.7,1843.0 1541.1,1843.3 1543.0,1843.5 1541.0,1841.1 1534.5,1840.0 1533.0,1840.8 1534.6,1840.3 1539.3,1840.1 1542.9,1838.1 1546.0,1838.9 1551.0,1842.0 1554.3,1845.3 1555.5,1851.8 1560.0,1854.6 1561.6,1855.7 1561.7,1855.3 1562.6,1853.4 1564.2,1853.2 1566.6,1849.8 1571.2,1841.9 1575.7,1836.2 1575.9,1828.1 1575.2,1821.7 1573.4,1818.5 1570.5,1816.4 1565.7,1814.0 1563.3,1823.9 1564.5,1832.7 1565.7,1836.8 1565.5,1837.8 1567.1,1839.7 1571.0,1841.1 1570.7,1843.9 1566.5,1848.8 1566.2,1854.9 1565.5,1857.4 1563.6,1860.2 1559.6,1863.4 1555.8,1867.9 1555.6,1870.0 1556.7,1867.9 1556.6,1866.0 1551.7,1861.6 1549.1,1856.0 1547.4,1854.3 1549.2,1852.5 1552.1,1849.0 1554.5,1849.0 1554.6,1850.4 1552.0,1849.6 1547.6,1849.6 1544.2,1843.9 1544.3,1843.3 1540.4,1846.2 1539.7,1848.1 1538.6,1853.1 1537.4,1853.8 1536.6,1854.6 1537.6,1855.3 1538.5,1857.3 1539.4,1856.7 1542.0,1853.9 1542.8,1847.2 1547.7,1840.3 1552.5,1837.1 1556.5,1834.6 1560.3,1831.5 1566.2,1829.3 1573.3,1826.8 1580.3,1826.5 1587.4,1826.7 1598.3,1826.5 1608.2,1829.7 1618.3,1832.5 1627.2,1836.4 1636.8,1835.5 1642.0,1830.8 1645.0,1827.2 1644.5,1824.9 1643.5,1824.2 1643.2,1824.2 1640.4,1825.3 1638.4,1825.5 1632.9,1824.2 1628.8,1823.2 1623.4,1821.9 1620.8,1824.1 1620.0,1826.1 1621.9,1831.9 1624.9,1839.3 1626.3,1844.9 1630.8,1851.8 1636.8,1859.2 1639.5,1862.0 1641.1,1867.0 1641.7,1872.5 1636.5,1876.5 1634.3,1879.2 1634.9,1882.6 1634.5,1886.0 1638.2,1886.9 1641.6,1889.9 1642.6,1895.3 1642.9,1898.6 1647.4,1903.7 1649.9,1912.2 1654.1,1918.8 1657.2,1927.1 1660.0,1937.0 1666.0,1945.2 1670.0,1952.5 1663.8,1954.4 1658.7,1954.0 1653.5,1950.7 1650.3,1949.1 1650.6,1947.8 1651.2,1945.6 1652.9,1948.3 1653.0,1951.6 1657.1,1950.2 1658.9,1949.6 1657.0,1945.2 1659.3,1945.5 1662.2,1944.0 1667.3,1944.6 1670.0,1947.3 1667.4,1949.9 1664.8,1950.3 1662.2,1948.1 1663.4,1947.8 1664.9,1944.6 1666.8,1942.2 1666.6,1941.1 1666.6,1939.3 1665.9,1938.5 1667.5,1936.7 1670.0,1934.5 1665.1,1934.5 1663.5,1931.6 1660.8,1930.1 1659.2,1928.9 1655.4,1927.7 1655.3,1926.3 1652.7,1927.6 1651.8,1927.0 1650.4,1930.1 1651.3,1933.2 1653.0,1937.0 1654.7,1940.8 1659.4,1942.4 1660.8,1945.2 1661.4,1949.1 1660.8,1950.4 1654.4,1954.2 1648.0,1959.3 1645.0,1957.6 1643.2,1955.4 1641.9,1947.6 1640.1,1941.9 1639.6,1938.8 1638.2,1940.4 1636.1,1938.7 1632.1,1939.7 1629.0,1939.2 1628.1,1940.7 1627.4,1943.1 1629.7,1945.0 1630.1,1945.7 1634.3,1948.4 1637.9,1954.0 1638.9,1953.1 1642.9,1953.0 1647.9,1952.1 1650.7,1950.4 1651.1,1948.2 1655.1,1944.6 1660.6,1939.0 1661.5,1936.7 1658.4,1937.3 1656.3,1938.4 1654.6,1937.1 1653.8,1935.9 1653.0,1932.1 1650.6,1932.6 1648.5,1933.4 1648.5,1934.4 1648.9,1936.1 1647.4,1935.7 1647.9,1932.8 1650.5,1928.1 1654.9,1924.7 1656.8,1921.5 1657.7,1921.4 1662.9,1923.1 1670.0,1924.7 1664.2,1924.0 1663.3,1925.5 1662.5,1928.2 1661.2,1929.7 1660.9,1931.9 1659.3,1933.5 1658.0,1934.6 1658.2,1941.3 1659.0,1950.5 1660.6,1953.8 1663.8,1957.8 1664.0,1959.4 1661.5,1951.3 1654.9,1944.1 1646.7,1937.4 1636.6,1936.7 1629.5,1933.1 1623.9,1929.8 1617.8,1927.2 1614.6,1922.4 1610.5,1918.9 1608.5,1915.0 1606.3,1908.5 1604.1,1904.8 1600.7,1902.9 1596.7,1903.4 1596.1,1906.9 1598.4,1910.2 1598.4,1909.6 1597.7,1907.9 1596.2,1909.0 1590.2,1910.5 1584.5,1910.6 1579.6,1909.3 1577.5,1907.3 1575.9,1907.7 1575.6,1909.9 1574.0,1911.5 1575.0,1915.7 1572.8,1918.6 1569.5,1917.0 1568.5,1913.6 1568.0,1911.9 1568.1,1910.7 1570.4,1909.2 1573.6,1909.1 1573.1,1911.7 1569.2,1912.3 1564.9,1910.6 1559.7,1910.1 1555.1,1911.6 1551.9,1915.9 1547.6,1920.3 1545.8,1923.8 1546.2,1928.2 1546.1,1932.1 1545.3,1932.8 1546.7,1929.3 1546.7,1921.7 1549.0,1914.8 1548.9,1911.7 1552.1,1910.7 1555.4,1910.0 1556.6,1910.8 1552.2,1914.3 1550.0,1916.5 1545.5,1919.3 1543.5,1922.8 1547.5,1922.4 1548.4,1921.6 1548.7,1920.4 1547.9,1919.4 1544.5,1919.3 1543.3,1917.2 1544.7,1917.3 1542.9,1918.3 1539.1,1921.7 1538.5,1927.7 1536.1,1935.0 1536.0,1943.9 1540.0,1950.5 1541.8,1954.8 1543.5,1957.5 1540.2,1954.6 1536.3,1955.4 1535.0,1952.8 1534.3,1952.2 1536.6,1948.6 1538.4,1944.7 1543.8,1941.2 1551.1,1936.6 1558.0,1937.7 1563.5,1942.6 1570.0,1947.6 1574.9,1950.9 1575.5,1951.5 1578.1,1947.6 1578.2,1942.3 1576.2,1941.4 1575.2,1940.8 1576.2,1939.6 1580.5,1937.8 1582.2,1935.7 1581.1,1930.7 1576.5,1929.3 1571.6,1926.6 1564.8,1922.5 1560.4,1918.3 1560.8,1914.8 1558.3,1909.7 1564.2,1905.6 1571.4,1906.1 1579.5,1906.8 1586.5,1907.7 1590.3,1910.4 1588.0,1913.5 1583.9,1912.9 1579.7,1912.5 1578.0,1912.8 1577.8,1913.3 1578.7,1913.4 1581.3,1914.5 1582.0,1914.2 1582.2,1912.8 1580.6,1908.9 1579.3,1904.1 1577.4,1903.1 1570.6,1899.3 1565.1,1895.7 1560.7,1889.8 1554.7,1884.5 1552.4,1879.9 1549.1,1874.9 1549.4,1870.0 1550.1,1866.9 1551.9,1864.8 1551.8,1858.3 1552.9,1852.5 1554.0,1846.3 1555.8,1844.0 1552.5,1843.8 1552.3,1846.2 1551.5,1854.1 1548.4,1861.8 1550.1,1869.2 1553.3,1874.9 1553.9,1879.7 1554.7,1880.9 1555.5,1882.8 1553.6,1879.8 1549.3,1875.1 1548.1,1869.8 1547.5,1863.1 1544.3,1857.9 1541.3,1852.2 1538.7,1848.9 1532.8,1847.7 1528.7,1847.5 1526.9,1847.6 1526.6,1845.5 1527.1,1844.6 1529.7,1845.4 1531.9,1845.8 1534.6,1845.0 1539.4,1842.8 1543.3,1844.1 1547.0,1845.8 1552.5,1847.5 1558.0,1846.0 1559.3,1842.6 1556.3,1842.5 1554.2,1845.1 1551.3,1844.9 1550.9,1847.9 1549.9,1847.4 1550.5,1848.5 1549.4,1851.6 1546.1,1851.0 1543.6,1848.2 1544.2,1847.8 1539.4,1849.9 1535.2,1852.9 1531.0,1857.5 1530.1,1864.7 1526.8,1869.5 1526.0,1874.9 1535.3,1878.5 1545.5,1877.4 1550.8,1879.4 1556.1,1880.4 1554.7,1884.7 1550.9,1886.6 1544.6,1892.4 1539.4,1898.7 1533.5,1904.3 1531.9,1905.3 1532.4,1904.1 1531.6,1903.7 1534.0,1901.5 1532.2,1897.2 1532.4,1893.9 1527.9,1891.0 1526.0,1888.2 1530.9,1885.0 1532.5,1885.0 1537.6,1884.2 1541.5,1882.2 1544.2,1880.3 1545.1,1876.4 1542.6,1877.1 1542.8,1874.7 1542.5,1875.0 1538.6,1877.4 1538.8,1878.8 1540.5,1879.4 1540.0,1880.6 1537.7,1885.2 1536.9,1888.9 1538.3,1885.3 1541.9,1880.6 1544.8,1874.2 1551.0,1868.1 1553.1,1862.4 1555.4,1859.3 1557.5,1859.0 1562.2,1858.7 1565.6,1861.3 1563.7,1861.8 1560.6,1863.4 1554.2,1864.8 1550.9,1865.7 1549.0,1866.6 1547.3,1874.6 1543.7,1881.0 1543.4,1881.6 1544.7,1883.9 1546.8,1883.5 1545.4,1881.2 1542.2,1879.7 1537.4,1881.0 1533.4,1885.0 1527.7,1885.7 1526.0,1887.0 1533.2,1889.8 1537.5,1895.5 1541.4,1899.8 1542.3,1904.9 1541.1,1906.8 1540.0,1909.2 1543.2,1914.9 1544.3,1916.3 1545.9,1916.8 1546.4,1911.6 1547.1,1907.8 1547.3,1906.6 1549.4,1907.5 1547.5,1907.4 1545.5,1910.0 1545.8,1912.2 1545.1,1909.6 1544.3,1904.2 1538.0,1899.7 1532.0,1900.1 1526.1,1896.9 1526.0,1891.9 1530.4,1887.5 1529.1,1883.2 1526.0,1877.9 1527.7,1871.7 1530.2,1872.0 1535.6,1874.6 1540.4,1881.0 1545.3,1886.2 1548.8,1891.1 1554.9,1892.6 1556.1,1896.2 1559.4,1898.6 1562.8,1901.3 1564.8,1904.2 1566.4,1903.4 1563.7,1903.2 1562.3,1906.2 1558.8,1909.5 1557.4,1913.1 1554.9,1916.7 1552.9,1918.0 1549.1,1918.2 1546.7,1915.3 1545.5,1915.2 1547.0,1914.0 1550.1,1911.4 1547.9,1912.3 1544.4,1909.3 1542.2,1910.1 1540.9,1910.5 1539.1,1908.0 1537.5,1902.9 1538.9,1898.3 1539.5,1898.0 1541.6,1898.1 1542.6,1898.8 1543.2,1899.0 1542.9,1898.7 1540.1,1899.1 1538.2,1903.1 1536.7,1905.8 1535.2,1906.8 1533.1,1909.7 1532.7,1916.5 1532.2,1925.4 1531.1,1932.8 1531.2,1939.4 1533.1,1945.5 1539.2,1949.9 1542.5,1955.9 1544.5,1959.7 1547.3,1962.0 1547.9,1964.0 1549.9,1957.9 1550.1,1949.9 1552.1,1949.9 1552.6,1950.2 1552.3,1951.2 1551.7,1955.0 1552.5,1957.1 1555.1,1960.5 1559.2,1962.1 1564.7,1964.0 1566.8,1961.3 1568.2,1964.0 1573.3,1964.0 1575.5,1964.0 1580.3,1961.6 1587.0,1961.1 1590.0,1961.8 1593.6,1963.1 1597.2,1964.0 1596.7,1960.3 1593.5,1957.3 1590.7,1954.4 1592.5,1953.9 1590.2,1953.6 1588.6,1956.0 1587.2,1958.9 1587.4,1962.6 1593.7,1964.0 1595.9,1959.1 1598.2,1957.1 1603.2,1958.7 1605.1,1959.5 1604.8,1960.8 1602.9,1964.0 1601.7,1957.2 1600.0,1947.5 1596.1,1942.7 1591.5,1936.0 1587.9,1929.0 1585.0,1925.9 1584.5,1924.7 1588.6,1925.6 1589.7,1924.4 1589.7,1919.5 1587.0,1918.2 1587.6,1921.2 1591.2,1922.5 1590.2,1922.2 1589.3,1919.5 1585.7,1914.8 1584.4,1912.5 1579.7,1909.1 1577.4,1903.3 1573.2,1898.0 1570.9,1892.9 1571.1,1889.9 1571.6,1887.9 1577.5,1889.1 1581.6,1888.8 1582.5,1887.2 1585.4,1888.0 1586.6,1883.1 1586.0,1880.9 1586.4,1875.5 1585.1,1873.6 1580.0,1872.5 1579.2,1871.9 1578.8,1872.1 1576.7,1867.6 1577.4,1865.2 1575.8,1862.4 1576.2,1860.1 1576.1,1862.1 1572.8,1864.2 1570.7,1866.3 1569.3,1864.7 1566.3,1868.4 1568.3,1870.5 1571.0,1869.5 1571.7,1868.9 1568.1,1872.2 1565.7,1876.2 1563.3,1878.4 1565.1,1881.9 1562.9,1884.8 1557.7,1887.8 1555.6,1885.9 1555.5,1884.2 1557.5,1886.4 1565.7,1888.5 1573.9,1890.0 1583.0,1886.3 1594.3,1885.5 1603.0,1885.8 1608.2,1883.8 1613.1,1883.3 1615.8,1880.5 1618.6,1878.6 1623.0,1880.2 1627.3,1881.2 1631.7,1884.3 1635.4,1888.3 1631.3,1886.9 1625.4,1887.1 1620.5,1887.7 1610.6,1896.3 1601.5,1898.8 1593.3,1902.2 1584.6,1906.4 1576.3,1909.8 1567.8,1909.7 1560.7,1913.7 1557.1,1918.2 1551.7,1925.5 1551.7,1931.9 1557.8,1933.7 1560.8,1934.6 1562.5,1935.8 1564.2,1933.3 1570.6,1928.0 1576.1,1924.8 1582.0,1923.8 1590.9,1922.6 1597.3,1926.2 1603.7,1930.8 1613.7,1931.4 1622.3,1932.7 1624.2,1932.0 1625.0,1933.0 1622.4,1931.0 1622.9,1928.5 1619.3,1924.6 1616.9,1920.4 1612.4,1917.1 1611.6,1914.3 1612.8,1908.9 1611.7,1906.2 1608.5,1899.5 1607.1,1891.2 1605.9,1882.6 1603.9,1879.8 1607.2,1878.4 1610.1,1874.7 1612.7,1873.1 1611.6,1872.9 1610.7,1872.5 1611.4,1875.7 1609.5,1883.6 1608.5,1888.8 1607.2,1888.5 1606.2,1888.0 1604.0,1883.9 1600.9,1879.3 1602.1,1876.5 1607.4,1870.7 1614.2,1868.1 1618.8,1868.6 1621.9,1868.8 1623.6,1868.7 1626.4,1868.2 1630.1,1864.6 1634.0,1861.8 1637.1,1861.0 1641.1,1860.0 1644.0,1861.9 1649.4,1863.4 1651.2,1865.5 1652.9,1867.3 1652.3,1865.5 1652.5,1867.1 1654.9,1869.2 1656.9,1868.7 1660.3,1869.0 1663.0,1871.0 1665.3,1871.1 1668.8,1875.6 1670.0,1876.1 1670.0,1874.8 1666.6,1875.1 1660.4,1874.9 1656.1,1874.4 1651.1,1873.4 1646.9,1869.8 1646.2,1866.5 1646.8,1863.4 1647.9,1858.2 1645.9,1851.0 1641.1,1846.0 1637.2,1843.8 1634.5,1843.1 1633.5,1841.0 1635.5,1844.6 1637.1,1850.2 1636.5,1855.5 1631.3,1861.9 1624.4,1864.1 1621.0,1865.5 1618.9,1870.6 1617.0,1871.0 1616.5,1872.5 1619.1,1875.2 1621.6,1874.6 1626.0,1872.2 1630.0,1867.5 1633.0,1864.1 1633.3,1862.4 1633.4,1862.9 1636.7,1862.9 1639.5,1861.3 1644.1,1855.2 1642.7,1848.3 1641.0,1842.4 1642.7,1836.3 1645.6,1830.5 1643.5,1828.1 1640.1,1823.5 1638.9,1819.5 1637.6,1818.9 1640.1,1819.1 1642.7,1821.1 1642.7,1821.2 1643.4,1820.8 1643.0,1819.1 1646.2,1816.3 1651.3,1814.0 1651.7,1815.7 1655.5,1819.5 1654.6,1820.6 1655.6,1824.2 1655.0,1826.1 1656.4,1824.8 1657.9,1827.0 1659.7,1826.4 1659.9,1825.5 1658.6,1823.7 1660.2,1820.5 1663.0,1816.0 1665.7,1814.0 1667.2,1819.6 1666.3,1826.1 1663.6,1834.3 1659.9,1846.8 1656.5,1857.9 1654.1,1863.3 1647.3,1868.0 1640.0,1871.6 1638.9,1877.9 1635.4,1881.8 1633.8,1888.7 1634.5,1893.2 1631.5,1897.2 1628.6,1898.1 1627.3,1899.6 1625.4,1900.7 1622.7,1903.5 1620.7,1908.3 1619.1,1912.6 1616.9,1917.0 1614.1,1922.3 1609.3,1924.4 1606.2,1927.1 1603.7,1931.3 1598.5,1936.5 1596.0,1938.4 1597.4,1939.4 1597.6,1939.5 1597.8,1936.8 1598.6,1936.1 1597.1,1931.0 1593.2,1926.4 1591.3,1923.2 1589.6,1925.7 1587.9,1929.0 1587.0,1932.8 1590.4,1937.4 1586.9,1939.0 1583.3,1936.1 1584.1,1935.4 1585.2,1938.3 1583.3,1944.4 1582.6,1947.6 1581.2,1949.1 1583.4,1952.0 1587.0,1953.4 1588.4,1959.4 1589.0,1964.0 1585.8,1957.1 1581.8,1950.1 1578.8,1947.3 1579.1,1944.4 1578.8,1947.2 1581.4,1947.8 1586.5,1947.5 1593.2,1945.5 1600.6,1943.3 1603.9,1942.2 1608.0,1941.7 1609.0,1939.0 1610.5,1935.6 1608.7,1934.5 1603.3,1936.1 1599.2,1936.4 1594.1,1938.7 1592.6,1940.7 1592.6,1945.7 1592.4,1947.3 1592.9,1950.6 1595.3,1954.0 1599.8,1954.3 1601.9,1955.3 1605.1,1955.5 1604.7,1955.5 1605.2,1954.2 1602.7,1952.0 1599.8,1952.4" stroke="#111" stroke-width="0.9" fill="none" stroke-linejoin="round"/>
</svg></body></html>
